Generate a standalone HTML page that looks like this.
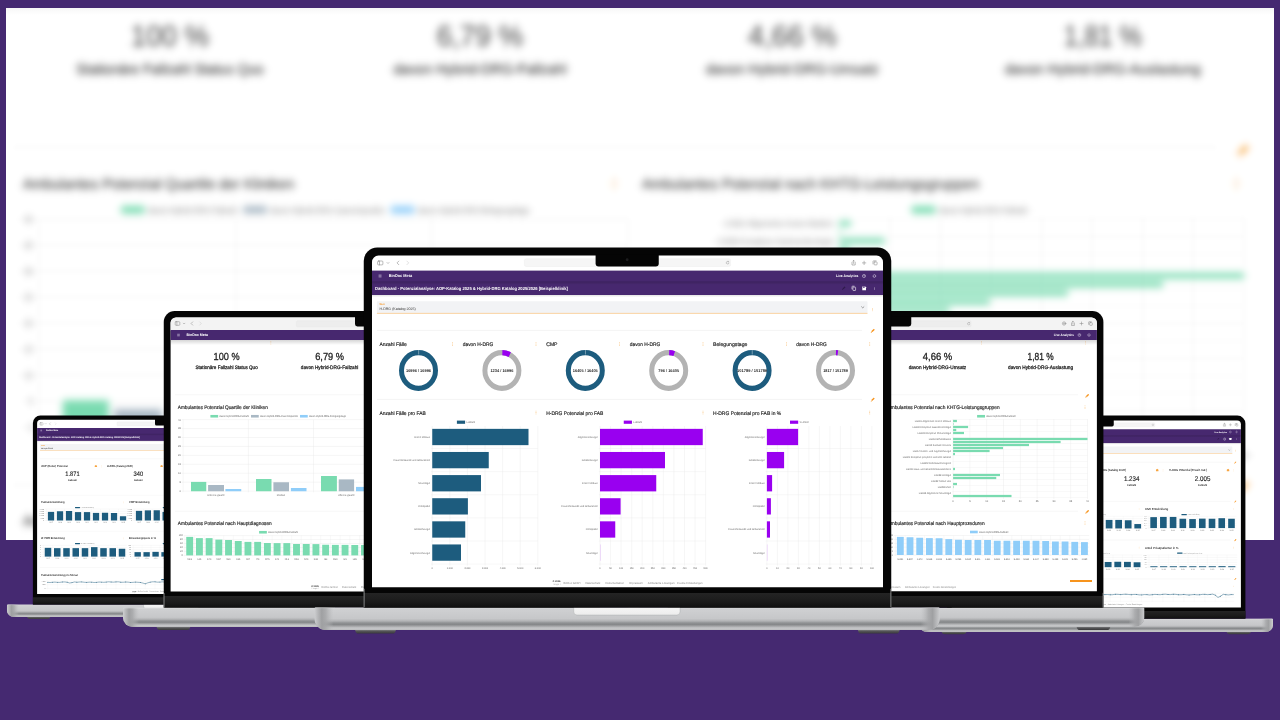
<!DOCTYPE html>
<html lang="de">
<head>
<meta charset="utf-8">
<title>BinDoc Meta – Dashboards</title>
<style>
html,body{margin:0;padding:0;background:#452971;}
body{width:1280px;height:720px;overflow:hidden;font-family:"Liberation Sans",Arial,sans-serif;}
#stage{position:relative;width:1280px;height:720px;overflow:hidden;background:#452971;}
#stage svg.backdrop,#stage svg.laptop{position:absolute;left:0;top:0;width:1280px;height:720px;display:block;}
#stage text{font-family:"Liberation Sans",Arial,sans-serif;text-rendering:geometricPrecision;}
</style>
</head>
<body>
<div id="stage">
<svg class="defs" width="0" height="0" style="position:absolute"><defs>
<linearGradient id="gBase" x1="0" y1="0" x2="0" y2="1">
 <stop offset="0" stop-color="#d9dadc"/><stop offset="0.07" stop-color="#cfd0d2"/>
 <stop offset="0.5" stop-color="#c6c7c9"/><stop offset="0.6" stop-color="#b3b4b6"/>
 <stop offset="0.69" stop-color="#8f9193"/><stop offset="0.76" stop-color="#86888a"/>
 <stop offset="0.84" stop-color="#a7a8aa"/><stop offset="0.91" stop-color="#c5c6c8"/><stop offset="1" stop-color="#bcbdbf"/>
</linearGradient>
<linearGradient id="gCapL" x1="0" y1="0" x2="1" y2="0">
 <stop offset="0" stop-color="#cdced0" stop-opacity="1"/><stop offset="0.14" stop-color="#bbbcbe" stop-opacity="1"/>
 <stop offset="0.38" stop-color="#9fa0a2" stop-opacity="1"/><stop offset="0.6" stop-color="#a6a7a9" stop-opacity="0.85"/>
 <stop offset="1" stop-color="#b9babc" stop-opacity="0"/>
</linearGradient>
<linearGradient id="gCapR" x1="1" y1="0" x2="0" y2="0">
 <stop offset="0" stop-color="#cdced0" stop-opacity="1"/><stop offset="0.14" stop-color="#bbbcbe" stop-opacity="1"/>
 <stop offset="0.38" stop-color="#9fa0a2" stop-opacity="1"/><stop offset="0.6" stop-color="#a6a7a9" stop-opacity="0.85"/>
 <stop offset="1" stop-color="#b9babc" stop-opacity="0"/>
</linearGradient>
<linearGradient id="gHinge" x1="0" y1="0" x2="0" y2="1">
 <stop offset="0" stop-color="#242424"/><stop offset="0.6" stop-color="#1b1b1b"/><stop offset="1" stop-color="#101010"/>
</linearGradient>
<linearGradient id="gFoot" x1="0" y1="0" x2="0" y2="1">
 <stop offset="0" stop-color="#8a8b8d"/><stop offset="0.45" stop-color="#545456"/><stop offset="1" stop-color="#38383a"/>
</linearGradient>
<linearGradient id="gCut" x1="0" y1="0" x2="0" y2="1">
 <stop offset="0" stop-color="#f7f7f7"/><stop offset="1" stop-color="#ececec"/>
</linearGradient>
<linearGradient id="gShadow" x1="0" y1="0" x2="0" y2="1">
 <stop offset="0" stop-color="#000" stop-opacity="0.16"/><stop offset="1" stop-color="#000" stop-opacity="0"/>
</linearGradient>
<filter id="fBlur" filterUnits="userSpaceOnUse" x="-20" y="-20" width="1320" height="760" color-interpolation-filters="sRGB"><feGaussianBlur stdDeviation="1.5"/><feGaussianBlur stdDeviation="1.5"/><feGaussianBlur stdDeviation="1.5"/><feGaussianBlur stdDeviation="1.5"/><feGaussianBlur stdDeviation="1.5"/><feGaussianBlur stdDeviation="1.5"/><feGaussianBlur stdDeviation="1.5"/><feGaussianBlur stdDeviation="1.5"/></filter></defs></svg>
<svg class="backdrop" width="1280" height="720" viewBox="0 0 1280 720"><defs><clipPath id="clip_bd"><rect x="6" y="8" width="1268" height="532"/></clipPath></defs><rect x="6" y="8" width="1268" height="532" fill="#fff"/><g clip-path="url(#clip_bd)"><g filter="url(#fBlur)"><rect x="-20" y="-20" width="1320" height="760" fill="#fff"/><g class="blurred-dashboard"><g class="kpi"><text x="169.96" y="46.09" font-size="29.87" text-anchor="middle" textLength="78.26" lengthAdjust="spacingAndGlyphs" fill="#3c3c3c">100 %</text><text x="169.96" y="73.62" font-size="14.5" text-anchor="middle" textLength="187.22" lengthAdjust="spacingAndGlyphs" fill="#1a1a1a" stroke="#1a1a1a" stroke-width="0.11" stroke-linejoin="round">Stationäre Fallzahl Status Quo</text></g><g class="kpi"><text x="479.99" y="46.09" font-size="29.87" text-anchor="middle" textLength="86.69" lengthAdjust="spacingAndGlyphs" fill="#3c3c3c">6,79 %</text><text x="479.99" y="73.62" font-size="14.5" text-anchor="middle" textLength="173.07" lengthAdjust="spacingAndGlyphs" fill="#1a1a1a" stroke="#1a1a1a" stroke-width="0.11" stroke-linejoin="round">davon Hybrid-DRG-Fallzahl</text></g><g class="kpi"><text x="792.43" y="46.09" font-size="29.87" text-anchor="middle" textLength="88.79" lengthAdjust="spacingAndGlyphs" fill="#3c3c3c">4,66 %</text><text x="792.43" y="73.62" font-size="14.5" text-anchor="middle" textLength="173.07" lengthAdjust="spacingAndGlyphs" fill="#1a1a1a" stroke="#1a1a1a" stroke-width="0.11" stroke-linejoin="round">davon Hybrid-DRG-Umsatz</text></g><g class="kpi"><text x="1102.76" y="46.09" font-size="29.87" text-anchor="middle" textLength="78.26" lengthAdjust="spacingAndGlyphs" fill="#3c3c3c">1,81 %</text><text x="1102.76" y="73.62" font-size="14.5" text-anchor="middle" textLength="195.65" lengthAdjust="spacingAndGlyphs" fill="#1a1a1a" stroke="#1a1a1a" stroke-width="0.11" stroke-linejoin="round">davon Hybrid-DRG-Auslastung</text></g><g fill="#f7a541" opacity="0.8"><circle cx="303.3" cy="-6.8" r="1.04"/><circle cx="303.3" cy="-3.23" r="1.04"/><circle cx="303.3" cy="0.34" r="1.04"/></g><g fill="#f7a541" opacity="0.8"><circle cx="614.24" cy="-6.8" r="1.04"/><circle cx="614.24" cy="-3.23" r="1.04"/><circle cx="614.24" cy="0.34" r="1.04"/></g><g fill="#f7a541" opacity="0.8"><circle cx="925.17" cy="-6.8" r="1.04"/><circle cx="925.17" cy="-3.23" r="1.04"/><circle cx="925.17" cy="0.34" r="1.04"/></g><g fill="#f7a541" opacity="0.8"><circle cx="1237.61" cy="-6.8" r="1.04"/><circle cx="1237.61" cy="-3.23" r="1.04"/><circle cx="1237.61" cy="0.34" r="1.04"/></g><line x1="14.64" y1="147.43" x2="1215.33" y2="147.43" stroke="#ececec" stroke-width="0.78"/><line x1="14.64" y1="485.27" x2="1215.33" y2="485.27" stroke="#ececec" stroke-width="0.78"/><g transform="translate(1242.42 151.05) rotate(45) scale(2.61)" fill="#f7941d"><rect x="-0.75" y="-2.6" width="1.5" height="3.6" rx="0.2"/><path d="M-0.75 1.3 L0.75 1.3 L0 2.6 Z"/></g><g transform="translate(1242.42 487.45) rotate(45) scale(2.61)" fill="#f7941d"><rect x="-0.75" y="-2.6" width="1.5" height="3.6" rx="0.2"/><path d="M-0.75 1.3 L0.75 1.3 L0 2.6 Z"/></g><text x="22.92" y="189.34" font-size="14.94" textLength="271.2" lengthAdjust="spacingAndGlyphs" fill="#1f1f1f" stroke="#1f1f1f" stroke-width="0.07" stroke-linejoin="round">Ambulantes Potenzial Quartile der Kliniken</text><g fill="#f7a541" opacity="0.9"><circle cx="614.24" cy="179.68" r="1.16"/><circle cx="614.24" cy="183.67" r="1.16"/><circle cx="614.24" cy="187.67" r="1.16"/></g><rect x="121.2" y="206.01" width="23.33" height="7.54" fill="#79dbb0"/><text x="147.99" y="212.65" font-size="7.97" textLength="89.1" lengthAdjust="spacingAndGlyphs" fill="#666">davon Hybrid-DRG-Fallzahl</text><rect x="243.4" y="206.01" width="23.33" height="7.54" fill="#a9b8c4"/><text x="270.19" y="212.65" font-size="7.97" textLength="114.68" lengthAdjust="spacingAndGlyphs" fill="#666">davon Hybrid-DRG-Casemixpunkte</text><rect x="390.89" y="206.01" width="23.33" height="7.54" fill="#8fcdf9"/><text x="417.68" y="212.65" font-size="7.97" textLength="111.97" lengthAdjust="spacingAndGlyphs" fill="#666">davon Hybrid-DRG-Belegungstage</text><line x1="35.11" y1="219.49" x2="627.78" y2="219.49" stroke="#e6e6e6" stroke-width="0.61"/><text x="32.7" y="222.2" font-size="7.54" text-anchor="end" textLength="8.7" lengthAdjust="spacingAndGlyphs" fill="#666">40</text><line x1="35.11" y1="245.41" x2="627.78" y2="245.41" stroke="#e6e6e6" stroke-width="0.61"/><text x="32.7" y="248.12" font-size="7.54" text-anchor="end" textLength="8.7" lengthAdjust="spacingAndGlyphs" fill="#666">35</text><line x1="35.11" y1="271.33" x2="627.78" y2="271.33" stroke="#e6e6e6" stroke-width="0.61"/><text x="32.7" y="274.04" font-size="7.54" text-anchor="end" textLength="8.7" lengthAdjust="spacingAndGlyphs" fill="#666">30</text><line x1="35.11" y1="297.25" x2="627.78" y2="297.25" stroke="#e6e6e6" stroke-width="0.61"/><text x="32.7" y="299.96" font-size="7.54" text-anchor="end" textLength="8.7" lengthAdjust="spacingAndGlyphs" fill="#666">25</text><line x1="35.11" y1="323.16" x2="627.78" y2="323.16" stroke="#e6e6e6" stroke-width="0.61"/><text x="32.7" y="325.88" font-size="7.54" text-anchor="end" textLength="8.7" lengthAdjust="spacingAndGlyphs" fill="#666">20</text><line x1="35.11" y1="349.08" x2="627.78" y2="349.08" stroke="#e6e6e6" stroke-width="0.61"/><text x="32.7" y="351.8" font-size="7.54" text-anchor="end" textLength="8.7" lengthAdjust="spacingAndGlyphs" fill="#666">15</text><line x1="35.11" y1="375" x2="627.78" y2="375" stroke="#e6e6e6" stroke-width="0.61"/><text x="32.7" y="377.72" font-size="7.54" text-anchor="end" textLength="8.7" lengthAdjust="spacingAndGlyphs" fill="#666">10</text><line x1="35.11" y1="400.92" x2="627.78" y2="400.92" stroke="#e6e6e6" stroke-width="0.61"/><text x="32.7" y="403.64" font-size="7.54" text-anchor="end" textLength="4.35" lengthAdjust="spacingAndGlyphs" fill="#666">5</text><line x1="35.11" y1="426.84" x2="627.78" y2="426.84" stroke="#e6e6e6" stroke-width="0.61"/><text x="32.7" y="429.55" font-size="7.54" text-anchor="end" textLength="4.35" lengthAdjust="spacingAndGlyphs" fill="#666">0</text><line x1="39.02" y1="219.49" x2="39.02" y2="430.32" stroke="#e6e6e6" stroke-width="0.61"/><line x1="235.58" y1="219.49" x2="235.58" y2="430.32" stroke="#e6e6e6" stroke-width="0.61"/><line x1="431.53" y1="219.49" x2="431.53" y2="430.32" stroke="#e6e6e6" stroke-width="0.61"/><line x1="627.78" y1="219.49" x2="627.78" y2="430.32" stroke="#e6e6e6" stroke-width="0.61"/><rect x="62.8" y="400.16" width="45.9" height="27.11" fill="#79dbb0"/><rect x="114.27" y="409.15" width="47.86" height="18.12" fill="#a9b8c4"/><rect x="166.35" y="420.75" width="47.71" height="6.52" fill="#8fcdf9"/><rect x="258.45" y="391.75" width="46.65" height="35.52" fill="#79dbb0"/><rect x="310.83" y="401.17" width="46.96" height="26.1" fill="#a9b8c4"/><rect x="363.5" y="417.85" width="46.96" height="9.42" fill="#8fcdf9"/><rect x="454.1" y="383.05" width="47.86" height="44.23" fill="#79dbb0"/><rect x="507.53" y="392.91" width="46.2" height="34.36" fill="#a9b8c4"/><rect x="559.45" y="414.66" width="46.96" height="12.61" fill="#8fcdf9"/><text x="137.45" y="440.97" font-size="7.83" text-anchor="middle" textLength="50.83" lengthAdjust="spacingAndGlyphs" fill="#666">Unteres Quartil</text><text x="333.7" y="440.97" font-size="7.83" text-anchor="middle" textLength="24.79" lengthAdjust="spacingAndGlyphs" fill="#666">Median</text><text x="529.65" y="440.97" font-size="7.83" text-anchor="middle" textLength="49.15" lengthAdjust="spacingAndGlyphs" fill="#666">Oberes Quartil</text><text x="22.92" y="525.89" font-size="14.94" textLength="282.94" lengthAdjust="spacingAndGlyphs" fill="#1f1f1f" stroke="#1f1f1f" stroke-width="0.07" stroke-linejoin="round">Ambulantes Potenzial nach Hauptdiagnosen</text><g fill="#f7a541" opacity="0.9"><circle cx="614.24" cy="515.94" r="1.16"/><circle cx="614.24" cy="519.93" r="1.16"/><circle cx="614.24" cy="523.92" r="1.16"/></g><rect x="267.78" y="542.4" width="23.33" height="7.54" fill="#79dbb0"/><text x="294.87" y="549.05" font-size="7.97" textLength="90" lengthAdjust="spacingAndGlyphs" fill="#666">davon Hybrid-DRG-Fallzahl</text><line x1="40.53" y1="555.89" x2="631.99" y2="555.89" stroke="#e6e6e6" stroke-width="0.61"/><text x="38.12" y="558.4" font-size="6.96" text-anchor="end" textLength="12.05" lengthAdjust="spacingAndGlyphs" fill="#666">100</text><line x1="40.53" y1="567.37" x2="631.99" y2="567.37" stroke="#e6e6e6" stroke-width="0.61"/><text x="38.12" y="569.88" font-size="6.96" text-anchor="end" textLength="8.04" lengthAdjust="spacingAndGlyphs" fill="#666">80</text><line x1="40.53" y1="578.86" x2="631.99" y2="578.86" stroke="#e6e6e6" stroke-width="0.61"/><text x="38.12" y="581.36" font-size="6.96" text-anchor="end" textLength="8.04" lengthAdjust="spacingAndGlyphs" fill="#666">60</text><line x1="40.53" y1="590.34" x2="631.99" y2="590.34" stroke="#e6e6e6" stroke-width="0.61"/><text x="38.12" y="592.85" font-size="6.96" text-anchor="end" textLength="8.04" lengthAdjust="spacingAndGlyphs" fill="#666">40</text><line x1="40.53" y1="601.83" x2="631.99" y2="601.83" stroke="#e6e6e6" stroke-width="0.61"/><text x="38.12" y="604.33" font-size="6.96" text-anchor="end" textLength="8.04" lengthAdjust="spacingAndGlyphs" fill="#666">20</text><line x1="40.53" y1="613.31" x2="631.99" y2="613.31" stroke="#e6e6e6" stroke-width="0.61"/><text x="38.12" y="615.82" font-size="6.96" text-anchor="end" textLength="4.02" lengthAdjust="spacingAndGlyphs" fill="#666">0</text><line x1="44.14" y1="555.89" x2="44.14" y2="616.21" stroke="#ececec" stroke-width="0.52"/><rect x="48.51" y="559.59" width="20.77" height="53.72" fill="#79dbb0"/><text x="58.89" y="626.36" font-size="7.25" text-anchor="middle" textLength="13.61" lengthAdjust="spacingAndGlyphs" fill="#666">M23</text><line x1="73.37" y1="555.89" x2="73.37" y2="616.21" stroke="#ececec" stroke-width="0.52"/><rect x="77.73" y="563.21" width="20.77" height="50.1" fill="#79dbb0"/><text x="88.12" y="626.36" font-size="7.25" text-anchor="middle" textLength="11.68" lengthAdjust="spacingAndGlyphs" fill="#666">L05</text><line x1="102.6" y1="555.89" x2="102.6" y2="616.21" stroke="#ececec" stroke-width="0.52"/><rect x="106.96" y="563.21" width="20.77" height="50.1" fill="#79dbb0"/><text x="117.35" y="626.36" font-size="7.25" text-anchor="middle" textLength="12.45" lengthAdjust="spacingAndGlyphs" fill="#666">K40</text><line x1="131.82" y1="555.89" x2="131.82" y2="616.21" stroke="#ececec" stroke-width="0.52"/><rect x="136.19" y="567.56" width="20.77" height="45.75" fill="#79dbb0"/><text x="146.57" y="626.36" font-size="7.25" text-anchor="middle" textLength="13.61" lengthAdjust="spacingAndGlyphs" fill="#666">M67</text><line x1="161.05" y1="555.89" x2="161.05" y2="616.21" stroke="#ececec" stroke-width="0.52"/><rect x="165.41" y="568.65" width="20.77" height="44.66" fill="#79dbb0"/><text x="175.8" y="626.36" font-size="7.25" text-anchor="middle" textLength="12.84" lengthAdjust="spacingAndGlyphs" fill="#666">N20</text><line x1="190.28" y1="555.89" x2="190.28" y2="616.21" stroke="#ececec" stroke-width="0.52"/><rect x="194.64" y="571.55" width="20.77" height="41.76" fill="#79dbb0"/><text x="205.03" y="626.36" font-size="7.25" text-anchor="middle" textLength="12.45" lengthAdjust="spacingAndGlyphs" fill="#666">K35</text><line x1="219.5" y1="555.89" x2="219.5" y2="616.21" stroke="#ececec" stroke-width="0.52"/><rect x="223.87" y="574.09" width="20.77" height="39.22" fill="#79dbb0"/><text x="234.25" y="626.36" font-size="7.25" text-anchor="middle" textLength="12.45" lengthAdjust="spacingAndGlyphs" fill="#666">S07</text><line x1="248.73" y1="555.89" x2="248.73" y2="616.21" stroke="#ececec" stroke-width="0.52"/><rect x="253.1" y="574.09" width="20.77" height="39.22" fill="#79dbb0"/><text x="263.48" y="626.36" font-size="7.25" text-anchor="middle" textLength="9.73" lengthAdjust="spacingAndGlyphs" fill="#666">I70</text><line x1="277.96" y1="555.89" x2="277.96" y2="616.21" stroke="#ececec" stroke-width="0.52"/><rect x="282.32" y="577.35" width="20.77" height="35.96" fill="#79dbb0"/><text x="292.71" y="626.36" font-size="7.25" text-anchor="middle" textLength="13.61" lengthAdjust="spacingAndGlyphs" fill="#666">M75</text><line x1="307.19" y1="555.89" x2="307.19" y2="616.21" stroke="#ececec" stroke-width="0.52"/><rect x="311.55" y="577.71" width="20.77" height="35.6" fill="#79dbb0"/><text x="321.93" y="626.36" font-size="7.25" text-anchor="middle" textLength="12.45" lengthAdjust="spacingAndGlyphs" fill="#666">K41</text><line x1="336.41" y1="555.89" x2="336.41" y2="616.21" stroke="#ececec" stroke-width="0.52"/><rect x="340.78" y="577.71" width="20.77" height="35.6" fill="#79dbb0"/><text x="351.16" y="626.36" font-size="7.25" text-anchor="middle" textLength="12.84" lengthAdjust="spacingAndGlyphs" fill="#666">N13</text><line x1="365.64" y1="555.89" x2="365.64" y2="616.21" stroke="#ececec" stroke-width="0.52"/><rect x="370" y="580.25" width="20.77" height="33.06" fill="#79dbb0"/><text x="380.39" y="626.36" font-size="7.25" text-anchor="middle" textLength="13.23" lengthAdjust="spacingAndGlyphs" fill="#666">G56</text><line x1="394.87" y1="555.89" x2="394.87" y2="616.21" stroke="#ececec" stroke-width="0.52"/><rect x="399.23" y="580.25" width="20.77" height="33.06" fill="#79dbb0"/><text x="409.62" y="626.36" font-size="7.25" text-anchor="middle" textLength="12.84" lengthAdjust="spacingAndGlyphs" fill="#666">N40</text><line x1="424.09" y1="555.89" x2="424.09" y2="616.21" stroke="#ececec" stroke-width="0.52"/><rect x="428.46" y="580.61" width="20.77" height="32.7" fill="#79dbb0"/><text x="438.84" y="626.36" font-size="7.25" text-anchor="middle" textLength="12.45" lengthAdjust="spacingAndGlyphs" fill="#666">K80</text><line x1="453.32" y1="555.89" x2="453.32" y2="616.21" stroke="#ececec" stroke-width="0.52"/><rect x="457.69" y="582.42" width="20.77" height="30.89" fill="#79dbb0"/><text x="468.07" y="626.36" font-size="7.25" text-anchor="middle" textLength="9.73" lengthAdjust="spacingAndGlyphs" fill="#666">I83</text><line x1="482.55" y1="555.89" x2="482.55" y2="616.21" stroke="#ececec" stroke-width="0.52"/><rect x="486.91" y="582.79" width="20.77" height="30.52" fill="#79dbb0"/><text x="497.3" y="626.36" font-size="7.25" text-anchor="middle" textLength="13.61" lengthAdjust="spacingAndGlyphs" fill="#666">M20</text><line x1="511.78" y1="555.89" x2="511.78" y2="616.21" stroke="#ececec" stroke-width="0.52"/><rect x="516.14" y="582.79" width="20.77" height="30.52" fill="#79dbb0"/><text x="526.52" y="626.36" font-size="7.25" text-anchor="middle" textLength="9.73" lengthAdjust="spacingAndGlyphs" fill="#666">I25</text><line x1="541" y1="555.89" x2="541" y2="616.21" stroke="#ececec" stroke-width="0.52"/><rect x="545.37" y="583.15" width="20.77" height="30.16" fill="#79dbb0"/><text x="555.75" y="626.36" font-size="7.25" text-anchor="middle" textLength="12.84" lengthAdjust="spacingAndGlyphs" fill="#666">H25</text><line x1="570.23" y1="555.89" x2="570.23" y2="616.21" stroke="#ececec" stroke-width="0.52"/><rect x="574.59" y="583.15" width="20.77" height="30.16" fill="#79dbb0"/><text x="584.98" y="626.36" font-size="7.25" text-anchor="middle" textLength="12.45" lengthAdjust="spacingAndGlyphs" fill="#666">K43</text><line x1="599.46" y1="555.89" x2="599.46" y2="616.21" stroke="#ececec" stroke-width="0.52"/><rect x="603.82" y="583.51" width="20.77" height="29.8" fill="#79dbb0"/><text x="614.21" y="626.36" font-size="7.25" text-anchor="middle" textLength="12.45" lengthAdjust="spacingAndGlyphs" fill="#666">S82</text><text x="641.93" y="189.34" font-size="14.94" textLength="337.42" lengthAdjust="spacingAndGlyphs" fill="#1f1f1f" stroke="#1f1f1f" stroke-width="0.07" stroke-linejoin="round">Ambulantes Potenzial nach KHTG-Leistungsgruppen</text><g fill="#f7a541" opacity="0.9"><circle cx="1236.4" cy="179.68" r="1.16"/><circle cx="1236.4" cy="183.67" r="1.16"/><circle cx="1236.4" cy="187.67" r="1.16"/></g><rect x="911.62" y="206.01" width="23.78" height="7.54" fill="#79dbb0"/><text x="939.01" y="212.65" font-size="7.97" textLength="88.49" lengthAdjust="spacingAndGlyphs" fill="#666">davon Hybrid-DRG-Fallzahl</text><line x1="839.38" y1="218.04" x2="839.38" y2="449.46" stroke="#e6e6e6" stroke-width="0.61"/><text x="839.38" y="458.26" font-size="7.54" text-anchor="middle" textLength="4.35" lengthAdjust="spacingAndGlyphs" fill="#666">0</text><line x1="889.95" y1="218.04" x2="889.95" y2="449.46" stroke="#e6e6e6" stroke-width="0.61"/><text x="889.95" y="458.26" font-size="7.54" text-anchor="middle" textLength="4.35" lengthAdjust="spacingAndGlyphs" fill="#666">5</text><line x1="940.52" y1="218.04" x2="940.52" y2="449.46" stroke="#e6e6e6" stroke-width="0.61"/><text x="940.52" y="458.26" font-size="7.54" text-anchor="middle" textLength="8.7" lengthAdjust="spacingAndGlyphs" fill="#666">10</text><line x1="991.09" y1="218.04" x2="991.09" y2="449.46" stroke="#e6e6e6" stroke-width="0.61"/><text x="991.09" y="458.26" font-size="7.54" text-anchor="middle" textLength="8.7" lengthAdjust="spacingAndGlyphs" fill="#666">15</text><line x1="1041.66" y1="218.04" x2="1041.66" y2="449.46" stroke="#e6e6e6" stroke-width="0.61"/><text x="1041.66" y="458.26" font-size="7.54" text-anchor="middle" textLength="8.7" lengthAdjust="spacingAndGlyphs" fill="#666">20</text><line x1="1092.22" y1="218.04" x2="1092.22" y2="449.46" stroke="#e6e6e6" stroke-width="0.61"/><text x="1092.22" y="458.26" font-size="7.54" text-anchor="middle" textLength="8.7" lengthAdjust="spacingAndGlyphs" fill="#666">25</text><line x1="1142.79" y1="218.04" x2="1142.79" y2="449.46" stroke="#e6e6e6" stroke-width="0.61"/><text x="1142.79" y="458.26" font-size="7.54" text-anchor="middle" textLength="8.7" lengthAdjust="spacingAndGlyphs" fill="#666">30</text><line x1="1193.36" y1="218.04" x2="1193.36" y2="449.46" stroke="#e6e6e6" stroke-width="0.61"/><text x="1193.36" y="458.26" font-size="7.54" text-anchor="middle" textLength="8.7" lengthAdjust="spacingAndGlyphs" fill="#666">35</text><line x1="1243.93" y1="218.04" x2="1243.93" y2="449.46" stroke="#e6e6e6" stroke-width="0.61"/><text x="1243.93" y="458.26" font-size="7.54" text-anchor="middle" textLength="8.7" lengthAdjust="spacingAndGlyphs" fill="#666">40</text><line x1="836.37" y1="219.2" x2="1243.93" y2="219.2" stroke="#ececec" stroke-width="0.52"/><line x1="836.37" y1="236.6" x2="1243.93" y2="236.6" stroke="#ececec" stroke-width="0.52"/><line x1="836.37" y1="254" x2="1243.93" y2="254" stroke="#ececec" stroke-width="0.52"/><line x1="836.37" y1="271.4" x2="1243.93" y2="271.4" stroke="#ececec" stroke-width="0.52"/><line x1="836.37" y1="288.8" x2="1243.93" y2="288.8" stroke="#ececec" stroke-width="0.52"/><line x1="836.37" y1="306.2" x2="1243.93" y2="306.2" stroke="#ececec" stroke-width="0.52"/><line x1="836.37" y1="323.6" x2="1243.93" y2="323.6" stroke="#ececec" stroke-width="0.52"/><line x1="836.37" y1="341" x2="1243.93" y2="341" stroke="#ececec" stroke-width="0.52"/><line x1="836.37" y1="358.4" x2="1243.93" y2="358.4" stroke="#ececec" stroke-width="0.52"/><line x1="836.37" y1="375.8" x2="1243.93" y2="375.8" stroke="#ececec" stroke-width="0.52"/><line x1="836.37" y1="393.2" x2="1243.93" y2="393.2" stroke="#ececec" stroke-width="0.52"/><line x1="836.37" y1="410.6" x2="1243.93" y2="410.6" stroke="#ececec" stroke-width="0.52"/><line x1="836.37" y1="428" x2="1243.93" y2="428" stroke="#ececec" stroke-width="0.52"/><line x1="836.37" y1="445.4" x2="1243.93" y2="445.4" stroke="#ececec" stroke-width="0.52"/><rect x="839.38" y="220.72" width="11.44" height="5.65" fill="#79dbb0"/><rect x="839.38" y="229.42" width="1.5" height="5.65" fill="#79dbb0"/><rect x="839.38" y="238.12" width="45.15" height="5.65" fill="#79dbb0"/><rect x="839.38" y="246.82" width="9.48" height="5.65" fill="#79dbb0"/><rect x="839.38" y="255.52" width="32.81" height="5.65" fill="#79dbb0"/><rect x="839.38" y="272.92" width="404.54" height="5.65" fill="#79dbb0"/><rect x="839.38" y="281.62" width="323.57" height="5.65" fill="#79dbb0"/><rect x="839.38" y="290.32" width="228.46" height="5.65" fill="#79dbb0"/><rect x="839.38" y="299.02" width="150.2" height="5.65" fill="#79dbb0"/><rect x="839.38" y="307.72" width="109.86" height="5.65" fill="#79dbb0"/><rect x="839.38" y="316.42" width="5.72" height="5.65" fill="#79dbb0"/><rect x="839.38" y="359.92" width="5.72" height="5.65" fill="#79dbb0"/><rect x="839.38" y="377.32" width="141.17" height="5.65" fill="#79dbb0"/><rect x="839.38" y="386.02" width="129.88" height="5.65" fill="#79dbb0"/><rect x="839.38" y="403.42" width="11.74" height="5.65" fill="#79dbb0"/><rect x="839.38" y="412.12" width="1.5" height="5.65" fill="#79dbb0"/><rect x="839.38" y="438.22" width="175.78" height="5.65" fill="#79dbb0"/><text x="833.06" y="226.26" font-size="7.54" text-anchor="end" textLength="109.24" lengthAdjust="spacingAndGlyphs" fill="#666">LG001 Allgemeine Innere Medizin</text><text x="833.06" y="243.66" font-size="7.54" text-anchor="end" textLength="116.12" lengthAdjust="spacingAndGlyphs" fill="#666">LG003 Komplexe Gastroenterologie</text><text x="833.06" y="261.06" font-size="7.54" text-anchor="end" textLength="100.75" lengthAdjust="spacingAndGlyphs" fill="#666">LG005 Komplexe Pneumologie</text><text x="833.06" y="278.46" font-size="7.54" text-anchor="end" textLength="67.16" lengthAdjust="spacingAndGlyphs" fill="#666">LG010 EPU/Ablation</text><text x="833.06" y="295.86" font-size="7.54" text-anchor="end" textLength="78.49" lengthAdjust="spacingAndGlyphs" fill="#666">LG012 Kardiale Devices</text><text x="833.06" y="313.26" font-size="7.54" text-anchor="end" textLength="115.31" lengthAdjust="spacingAndGlyphs" fill="#666">LG014 Kinder- und Jugendchirurgie</text><text x="833.06" y="330.66" font-size="7.54" text-anchor="end" textLength="145.24" lengthAdjust="spacingAndGlyphs" fill="#666">LG020 Komplexe periphere arterielle Gefäße</text><text x="833.06" y="348.06" font-size="7.54" text-anchor="end" textLength="91.71" lengthAdjust="spacingAndGlyphs" fill="#666">LG028 Wirbelsäuleneingriffe</text><text x="833.06" y="365.46" font-size="7.54" text-anchor="end" textLength="135.54" lengthAdjust="spacingAndGlyphs" fill="#666">LG030 Haut- und Geschlechtskrankheiten</text><text x="833.06" y="382.86" font-size="7.54" text-anchor="end" textLength="50.98" lengthAdjust="spacingAndGlyphs" fill="#666">LG038 Urologie</text><text x="833.06" y="400.26" font-size="7.54" text-anchor="end" textLength="59.87" lengthAdjust="spacingAndGlyphs" fill="#666">LG052 Stroke Unit</text><text x="833.06" y="417.66" font-size="7.54" text-anchor="end" textLength="40.05" lengthAdjust="spacingAndGlyphs" fill="#666">LG053 HNO</text><text x="833.06" y="435.06" font-size="7.54" text-anchor="end" textLength="96.7" lengthAdjust="spacingAndGlyphs" fill="#666">LG065 Allgemeine Neurologie</text><text x="641.93" y="525.02" font-size="14.94" textLength="292.27" lengthAdjust="spacingAndGlyphs" fill="#1f1f1f" stroke="#1f1f1f" stroke-width="0.07" stroke-linejoin="round">Ambulantes Potenzial nach Hauptprozeduren</text><g fill="#f7a541" opacity="0.9"><circle cx="1236.4" cy="515.36" r="1.16"/><circle cx="1236.4" cy="519.35" r="1.16"/><circle cx="1236.4" cy="523.34" r="1.16"/></g><rect x="890.25" y="541.68" width="23.33" height="7.54" fill="#8fcdf9"/><text x="917.64" y="548.32" font-size="7.97" textLength="88.19" lengthAdjust="spacingAndGlyphs" fill="#666">davon Hybrid-DRG-Fallzahl</text><line x1="661.19" y1="555.6" x2="1249.05" y2="555.6" stroke="#e6e6e6" stroke-width="0.61"/><text x="658.48" y="557.9" font-size="6.38" text-anchor="end" textLength="7.37" lengthAdjust="spacingAndGlyphs" fill="#666">25</text><line x1="661.19" y1="566.91" x2="1249.05" y2="566.91" stroke="#e6e6e6" stroke-width="0.61"/><text x="658.48" y="569.21" font-size="6.38" text-anchor="end" textLength="7.37" lengthAdjust="spacingAndGlyphs" fill="#666">20</text><line x1="661.19" y1="578.22" x2="1249.05" y2="578.22" stroke="#e6e6e6" stroke-width="0.61"/><text x="658.48" y="580.52" font-size="6.38" text-anchor="end" textLength="7.37" lengthAdjust="spacingAndGlyphs" fill="#666">15</text><line x1="661.19" y1="589.53" x2="1249.05" y2="589.53" stroke="#e6e6e6" stroke-width="0.61"/><text x="658.48" y="591.83" font-size="6.38" text-anchor="end" textLength="7.37" lengthAdjust="spacingAndGlyphs" fill="#666">10</text><line x1="661.19" y1="600.84" x2="1249.05" y2="600.84" stroke="#e6e6e6" stroke-width="0.61"/><text x="658.48" y="603.14" font-size="6.38" text-anchor="end" textLength="3.68" lengthAdjust="spacingAndGlyphs" fill="#666">5</text><line x1="661.19" y1="612.15" x2="1249.05" y2="612.15" stroke="#e6e6e6" stroke-width="0.61"/><text x="658.48" y="614.45" font-size="6.38" text-anchor="end" textLength="3.68" lengthAdjust="spacingAndGlyphs" fill="#666">0</text><line x1="666.01" y1="555.6" x2="666.01" y2="615.05" stroke="#ececec" stroke-width="0.52"/><rect x="670.22" y="559.59" width="20.62" height="52.56" fill="#8fcdf9"/><text x="680.46" y="626.26" font-size="6.96" text-anchor="middle" textLength="17.18" lengthAdjust="spacingAndGlyphs" fill="#666">5-891</text><line x1="695.17" y1="555.6" x2="695.17" y2="615.05" stroke="#ececec" stroke-width="0.52"/><rect x="699.39" y="560.67" width="20.62" height="51.48" fill="#8fcdf9"/><text x="709.62" y="626.26" font-size="6.96" text-anchor="middle" textLength="17.18" lengthAdjust="spacingAndGlyphs" fill="#666">5-897</text><line x1="724.34" y1="555.6" x2="724.34" y2="615.05" stroke="#ececec" stroke-width="0.52"/><rect x="728.56" y="562.12" width="20.62" height="50.02" fill="#8fcdf9"/><text x="738.79" y="626.26" font-size="6.96" text-anchor="middle" textLength="17.18" lengthAdjust="spacingAndGlyphs" fill="#666">1-672</text><line x1="753.51" y1="555.6" x2="753.51" y2="615.05" stroke="#ececec" stroke-width="0.52"/><rect x="757.72" y="563.21" width="20.62" height="48.94" fill="#8fcdf9"/><text x="767.96" y="626.26" font-size="6.96" text-anchor="middle" textLength="17.18" lengthAdjust="spacingAndGlyphs" fill="#666">5-535</text><line x1="782.68" y1="555.6" x2="782.68" y2="615.05" stroke="#ececec" stroke-width="0.52"/><rect x="786.89" y="563.57" width="20.62" height="48.57" fill="#8fcdf9"/><text x="797.12" y="626.26" font-size="6.96" text-anchor="middle" textLength="17.18" lengthAdjust="spacingAndGlyphs" fill="#666">8-836</text><line x1="811.84" y1="555.6" x2="811.84" y2="615.05" stroke="#ececec" stroke-width="0.52"/><rect x="816.06" y="566.11" width="20.62" height="46.04" fill="#8fcdf9"/><text x="826.29" y="626.26" font-size="6.96" text-anchor="middle" textLength="17.18" lengthAdjust="spacingAndGlyphs" fill="#666">5-385</text><line x1="841.01" y1="555.6" x2="841.01" y2="615.05" stroke="#ececec" stroke-width="0.52"/><rect x="845.22" y="567.92" width="20.62" height="44.23" fill="#8fcdf9"/><text x="855.46" y="626.26" font-size="6.96" text-anchor="middle" textLength="17.18" lengthAdjust="spacingAndGlyphs" fill="#666">5-056</text><line x1="870.18" y1="555.6" x2="870.18" y2="615.05" stroke="#ececec" stroke-width="0.52"/><rect x="874.39" y="568.65" width="20.62" height="43.5" fill="#8fcdf9"/><text x="884.62" y="626.26" font-size="6.96" text-anchor="middle" textLength="17.18" lengthAdjust="spacingAndGlyphs" fill="#666">5-530</text><line x1="899.34" y1="555.6" x2="899.34" y2="615.05" stroke="#ececec" stroke-width="0.52"/><rect x="903.56" y="568.65" width="20.62" height="43.5" fill="#8fcdf9"/><text x="913.79" y="626.26" font-size="6.96" text-anchor="middle" textLength="16.68" lengthAdjust="spacingAndGlyphs" fill="#666">5-811</text><line x1="928.51" y1="555.6" x2="928.51" y2="615.05" stroke="#ececec" stroke-width="0.52"/><rect x="932.72" y="568.65" width="20.62" height="43.5" fill="#8fcdf9"/><text x="942.96" y="626.26" font-size="6.96" text-anchor="middle" textLength="17.18" lengthAdjust="spacingAndGlyphs" fill="#666">1-631</text><line x1="957.68" y1="555.6" x2="957.68" y2="615.05" stroke="#ececec" stroke-width="0.52"/><rect x="961.89" y="570.82" width="20.62" height="41.32" fill="#8fcdf9"/><text x="972.12" y="626.26" font-size="6.96" text-anchor="middle" textLength="17.18" lengthAdjust="spacingAndGlyphs" fill="#666">5-581</text><line x1="986.84" y1="555.6" x2="986.84" y2="615.05" stroke="#ececec" stroke-width="0.52"/><rect x="991.06" y="570.82" width="20.62" height="41.32" fill="#8fcdf9"/><text x="1001.29" y="626.26" font-size="6.96" text-anchor="middle" textLength="17.18" lengthAdjust="spacingAndGlyphs" fill="#666">5-851</text><line x1="1016.01" y1="555.6" x2="1016.01" y2="615.05" stroke="#ececec" stroke-width="0.52"/><rect x="1020.22" y="570.82" width="20.62" height="41.32" fill="#8fcdf9"/><text x="1030.46" y="626.26" font-size="6.96" text-anchor="middle" textLength="17.18" lengthAdjust="spacingAndGlyphs" fill="#666">5-469</text><line x1="1045.18" y1="555.6" x2="1045.18" y2="615.05" stroke="#ececec" stroke-width="0.52"/><rect x="1049.39" y="570.82" width="20.62" height="41.32" fill="#8fcdf9"/><text x="1059.63" y="626.26" font-size="6.96" text-anchor="middle" textLength="17.18" lengthAdjust="spacingAndGlyphs" fill="#666">5-534</text><line x1="1074.34" y1="555.6" x2="1074.34" y2="615.05" stroke="#ececec" stroke-width="0.52"/><rect x="1078.56" y="570.82" width="20.62" height="41.32" fill="#8fcdf9"/><text x="1088.79" y="626.26" font-size="6.96" text-anchor="middle" textLength="17.18" lengthAdjust="spacingAndGlyphs" fill="#666">8-137</text><line x1="1103.51" y1="555.6" x2="1103.51" y2="615.05" stroke="#ececec" stroke-width="0.52"/><rect x="1107.73" y="571.55" width="20.62" height="40.6" fill="#8fcdf9"/><text x="1117.96" y="626.26" font-size="6.96" text-anchor="middle" textLength="17.18" lengthAdjust="spacingAndGlyphs" fill="#666">5-859</text><line x1="1132.68" y1="555.6" x2="1132.68" y2="615.05" stroke="#ececec" stroke-width="0.52"/><rect x="1136.89" y="573" width="20.62" height="39.15" fill="#8fcdf9"/><text x="1147.13" y="626.26" font-size="6.96" text-anchor="middle" textLength="17.18" lengthAdjust="spacingAndGlyphs" fill="#666">5-399</text><line x1="1161.85" y1="555.6" x2="1161.85" y2="615.05" stroke="#ececec" stroke-width="0.52"/><rect x="1166.06" y="573" width="20.62" height="39.15" fill="#8fcdf9"/><text x="1176.29" y="626.26" font-size="6.96" text-anchor="middle" textLength="17.18" lengthAdjust="spacingAndGlyphs" fill="#666">5-841</text><line x1="1191.01" y1="555.6" x2="1191.01" y2="615.05" stroke="#ececec" stroke-width="0.52"/><rect x="1195.23" y="574.09" width="20.62" height="38.06" fill="#8fcdf9"/><text x="1205.46" y="626.26" font-size="6.96" text-anchor="middle" textLength="17.18" lengthAdjust="spacingAndGlyphs" fill="#666">5-056</text><line x1="1220.18" y1="555.6" x2="1220.18" y2="615.05" stroke="#ececec" stroke-width="0.52"/><rect x="1224.39" y="574.81" width="20.62" height="37.34" fill="#8fcdf9"/><text x="1234.63" y="626.26" font-size="6.96" text-anchor="middle" textLength="17.18" lengthAdjust="spacingAndGlyphs" fill="#666">1-650</text></g></g><rect x="6" y="8" width="1268" height="7" fill="url(#gShadow)" opacity="0.22"/></g></svg>
<svg class="laptop l1" width="1280" height="720" viewBox="0 0 1280 720"><defs><clipPath id="clip_l1"><path d="M37.1 594.1 L37.1 423.35 A3.6 3.6 0 0 1 40.7 419.75 L302.1 419.75 A3.6 3.6 0 0 1 305.7 423.35 L305.7 594.1 Z"/></clipPath></defs><g class="base"><path d="M27 616.4 L50.4 616.4 Q49.8 619.02 46.9 619.02 L30.5 619.02 Q27.6 619.02 27 616.4 Z" fill="url(#gFoot)"/><clipPath id="bclip_l1"><path d="M8.1 604.4 L333.8 604.4 A1.2 1.2 0 0 1 335 605.6 L335 610.35 A7 6.65 0 0 1 328 617 L13.9 617 A7 6.65 0 0 1 6.9 610.35 L6.9 605.6 A1.2 1.2 0 0 1 8.1 604.4 Z"/></clipPath><g clip-path="url(#bclip_l1)"><rect x="6.9" y="604.4" width="328.1" height="12.6" fill="url(#gBase)"/><rect x="6.9" y="604.4" width="12" height="12.6" fill="url(#gCapL)"/><rect x="323" y="604.4" width="12" height="12.6" fill="url(#gCapR)"/><rect x="6.9" y="604.4" width="328.1" height="0.7" fill="#e2e3e5" opacity="0.8"/><path d="M143.6 603.4 L143.6 606.5 A2.1 2.1 0 0 0 145.7 608.6 L197.1 608.6 A2.1 2.1 0 0 0 199.2 606.5 L199.2 603.4 Z" fill="url(#gCut)" stroke="#8f9092" stroke-width="0.5" stroke-opacity="0.55"/></g></g><g class="lid"><path d="M32.9 604.4 L32.9 423.1 A7.5 7.5 0 0 1 40.4 415.6 L302.4 415.6 A7.5 7.5 0 0 1 309.9 423.1 L309.9 604.4 Z" fill="#050505"/><rect x="32.9" y="597.3" width="277" height="7.1" fill="url(#gHinge)"/></g><g clip-path="url(#clip_l1)"><g class="screen" transform="translate(37.1 419.75)"><rect x="-1" y="-1" width="270.6" height="176.4" fill="#fff"/><g fill="none" stroke="#9a9a9a" stroke-width="0.4" stroke-linecap="round" stroke-linejoin="round"><rect x="2.9" y="2.9" width="3" height="2.4" rx="0.5"/><path d="M4 2.9V5.3"/><path d="M8 3.8l0.55 0.55l0.55-0.55" stroke-width="0.35"/><path d="M13.3 3.05l-1.05 1.05l1.05 1.05"/><path d="M18.1 3.05l1.05 1.05l-1.05 1.05" stroke="#d4d4d4"/><path d="M252.4 3.8v1.6h2v-1.6M253.4 2.6v1.9M252.85 3.1l0.55-0.55l0.55 0.55"/><path d="M257.9 4.1h2M258.9 3.1v2"/><rect x="264" y="3.5" width="1.8" height="1.8" rx="0.4"/><path d="M263.3 4.7v-1.4a0.4 0.4 0 0 1 0.4-0.4h1.4"/></g><rect x="79.8" y="2.1" width="108.9" height="4.1" rx="1" fill="#f5f5f5" stroke="#ececec" stroke-width="0.25"/><circle cx="186.9" cy="4.15" r="0.75" fill="none" stroke="#9a9a9a" stroke-width="0.3"/><rect x="-1" y="8.25" width="270.6" height="12.9" fill="#47286f"/><rect x="-1" y="14" width="270.6" height="2" fill="url(#gShadow)"/><rect x="-1" y="21.15" width="270.6" height="1.6" fill="url(#gShadow)" opacity="0.6"/><g stroke="#d9d2e6" stroke-width="0.3"><path d="M3.3 10.2h1.7M3.3 10.75h1.7M3.3 11.3h1.7"/></g><text x="8.8" y="11.57" font-size="2.15" font-weight="700" textLength="12.2" lengthAdjust="spacingAndGlyphs" fill="#fff">BinDoc Meta</text><text x="255.8" y="11.5" font-size="1.95" text-anchor="end" font-weight="700" textLength="11.7" lengthAdjust="spacingAndGlyphs" fill="#fff">Live Analytics</text><g fill="none" stroke="#e6e0ef" stroke-width="0.3"><circle cx="258.9" cy="10.8" r="0.85"/><circle cx="264.6" cy="10.8" r="0.7" stroke-width="0.5" stroke-dasharray="0.4 0.2"/></g><text x="1.9" y="18.2" font-size="2.35" font-weight="700" textLength="100.75" lengthAdjust="spacingAndGlyphs" fill="#fff">Dashboard - Potenzialanalyse: AOP-Katalog 2025 &amp; Hybrid-DRG Katalog 2025/2026 [Beispielklinik]</text><g transform="translate(247.5 17.35) rotate(45) scale(0.45)" fill="#2f1b4b"><rect x="-0.75" y="-2.6" width="1.5" height="3.6" rx="0.2"/><path d="M-0.75 1.3 L0.75 1.3 L0 2.6 Z"/></g><rect x="252.8" y="16.5" width="1.5" height="1.9" rx="0.3" fill="none" stroke="#fff" stroke-width="0.35"/><rect x="257.9" y="16.45" width="2" height="1.9" rx="0.2" fill="#fff"/><g fill="#fff"><circle cx="264.4" cy="16.7" r="0.19"/><circle cx="264.4" cy="17.35" r="0.19"/><circle cx="264.4" cy="18" r="0.19"/></g><rect x="2.9" y="24.25" width="257.8" height="6.3" rx="0.5" fill="#f2f3f5"/><rect x="2.9" y="30.45" width="257.8" height="0.5" fill="#f9c583"/><text x="4.15" y="26.22" font-size="1.3" font-weight="700" fill="#f7941d">Klinik</text><text x="4.15" y="29.3" font-size="1.95" textLength="11.8" lengthAdjust="spacingAndGlyphs" fill="#333">Beispielklinik</text><path d="M257.1 27.2l0.8 0.75l0.8-0.75" fill="none" stroke="#555" stroke-width="0.3"/><g fill="#f7a541"><circle cx="263.5" cy="27.65" r="0.19"/><circle cx="263.5" cy="28.3" r="0.19"/><circle cx="263.5" cy="28.95" r="0.19"/></g><line x1="2.9" y1="39" x2="259" y2="39" stroke="#e9e9e9" stroke-width="0.3"/><g transform="translate(263.3 39.4) rotate(45) scale(0.5)" fill="#f7941d"><rect x="-0.75" y="-2.6" width="1.5" height="3.6" rx="0.2"/><path d="M-0.75 1.3 L0.75 1.3 L0 2.6 Z"/></g><text x="4.15" y="47.49" font-size="2.75" textLength="26.5" lengthAdjust="spacingAndGlyphs" fill="#222" stroke="#222" stroke-width="0.04" stroke-linejoin="round">AOP (Reiter) Potenzial</text><text x="35.4" y="56.2" font-size="6.4" text-anchor="middle" textLength="14.41" lengthAdjust="spacingAndGlyphs" fill="#222" stroke="#222" stroke-width="0.12" stroke-linejoin="round">1.871</text><text x="35.4" y="61.15" font-size="2.5" text-anchor="middle" font-weight="700" textLength="8.44" lengthAdjust="spacingAndGlyphs" fill="#222">Fallzahl</text><path d="M57.65 47.3v-1.2l1.15-0.95l1.15 0.95v1.2z" fill="#f7a541"/><g fill="#f7a541" opacity="0.7"><circle cx="64.4" cy="45.95" r="0.19"/><circle cx="64.4" cy="46.6" r="0.19"/><circle cx="64.4" cy="47.25" r="0.19"/></g><text x="70" y="47.49" font-size="2.75" textLength="25.8" lengthAdjust="spacingAndGlyphs" fill="#222" stroke="#222" stroke-width="0.04" stroke-linejoin="round">H-DRG (Katalog 2025)</text><text x="101.3" y="56.2" font-size="6.4" text-anchor="middle" textLength="9.61" lengthAdjust="spacingAndGlyphs" fill="#222" stroke="#222" stroke-width="0.12" stroke-linejoin="round">340</text><text x="101.3" y="61.15" font-size="2.5" text-anchor="middle" font-weight="700" textLength="8.44" lengthAdjust="spacingAndGlyphs" fill="#222">Fallzahl</text><path d="M123.35 47.3v-1.2l1.15-0.95l1.15 0.95v1.2z" fill="#f7a541"/><g fill="#f7a541" opacity="0.7"><circle cx="130.1" cy="45.95" r="0.19"/><circle cx="130.1" cy="46.6" r="0.19"/><circle cx="130.1" cy="47.25" r="0.19"/></g><text x="136" y="47.49" font-size="2.75" textLength="25.8" lengthAdjust="spacingAndGlyphs" fill="#222" stroke="#222" stroke-width="0.04" stroke-linejoin="round">H-DRG (Katalog 2026)</text><text x="167.2" y="56.2" font-size="6.4" text-anchor="middle" textLength="14.41" lengthAdjust="spacingAndGlyphs" fill="#222" stroke="#222" stroke-width="0.12" stroke-linejoin="round">1.234</text><text x="167.2" y="61.15" font-size="2.5" text-anchor="middle" font-weight="700" textLength="8.44" lengthAdjust="spacingAndGlyphs" fill="#222">Fallzahl</text><path d="M189.75 47.3v-1.2l1.15-0.95l1.15 0.95v1.2z" fill="#f7a541"/><g fill="#f7a541" opacity="0.7"><circle cx="196.3" cy="45.95" r="0.19"/><circle cx="196.3" cy="46.6" r="0.19"/><circle cx="196.3" cy="47.25" r="0.19"/></g><text x="201.95" y="47.49" font-size="2.75" textLength="35.25" lengthAdjust="spacingAndGlyphs" fill="#222" stroke="#222" stroke-width="0.04" stroke-linejoin="round">H-DRG Potenzial (Erweit. Kat.)</text><text x="233.1" y="56.2" font-size="6.4" text-anchor="middle" textLength="14.41" lengthAdjust="spacingAndGlyphs" fill="#222" stroke="#222" stroke-width="0.12" stroke-linejoin="round">2.005</text><text x="233.1" y="61.15" font-size="2.5" text-anchor="middle" font-weight="700" textLength="8.44" lengthAdjust="spacingAndGlyphs" fill="#222">Fallzahl</text><path d="M255.55 47.3v-1.2l1.15-0.95l1.15 0.95v1.2z" fill="#f7a541"/><g fill="#f7a541" opacity="0.7"><circle cx="261.8" cy="45.95" r="0.19"/><circle cx="261.8" cy="46.6" r="0.19"/><circle cx="261.8" cy="47.25" r="0.19"/></g><line x1="2.9" y1="75.5" x2="259" y2="75.5" stroke="#e9e9e9" stroke-width="0.3"/><g transform="translate(263.3 75.8) rotate(45) scale(0.5)" fill="#f7941d"><rect x="-0.75" y="-2.6" width="1.5" height="3.6" rx="0.2"/><path d="M-0.75 1.3 L0.75 1.3 L0 2.6 Z"/></g><line x1="2.9" y1="111.5" x2="259" y2="111.5" stroke="#e9e9e9" stroke-width="0.3"/><g transform="translate(263.3 111.8) rotate(45) scale(0.5)" fill="#f7941d"><rect x="-0.75" y="-2.6" width="1.5" height="3.6" rx="0.2"/><path d="M-0.75 1.3 L0.75 1.3 L0 2.6 Z"/></g><line x1="2.9" y1="147.75" x2="259" y2="147.75" stroke="#e9e9e9" stroke-width="0.3"/><g transform="translate(263.3 148) rotate(45) scale(0.5)" fill="#f7941d"><rect x="-0.75" y="-2.6" width="1.5" height="3.6" rx="0.2"/><path d="M-0.75 1.3 L0.75 1.3 L0 2.6 Z"/></g><text x="4.15" y="83.74" font-size="2.75" textLength="23.3" lengthAdjust="spacingAndGlyphs" fill="#222" stroke="#222" stroke-width="0.04" stroke-linejoin="round">Fallzahlentwicklung</text><g fill="#f7a541" opacity="0.8"><circle cx="86.3" cy="82.1" r="0.19"/><circle cx="86.3" cy="82.75" r="0.19"/><circle cx="86.3" cy="83.4" r="0.19"/></g><rect x="37.9" y="87.2" width="5" height="1.2" rx="0.3" fill="#1d5c7e"/><text x="43.75" y="88.34" font-size="1.5" fill="#777">Fallzahlentwicklung</text><line x1="7.6" y1="89.3" x2="90.65" y2="89.3" stroke="#e8e8e8" stroke-width="0.25"/><text x="7.1" y="89.84" font-size="1.5" text-anchor="end" fill="#777">25.000</text><line x1="7.6" y1="91.59" x2="90.65" y2="91.59" stroke="#e8e8e8" stroke-width="0.25"/><text x="7.1" y="92.13" font-size="1.5" text-anchor="end" fill="#777">20.000</text><line x1="7.6" y1="93.88" x2="90.65" y2="93.88" stroke="#e8e8e8" stroke-width="0.25"/><text x="7.1" y="94.42" font-size="1.5" text-anchor="end" fill="#777">15.000</text><line x1="7.6" y1="96.17" x2="90.65" y2="96.17" stroke="#e8e8e8" stroke-width="0.25"/><text x="7.1" y="96.71" font-size="1.5" text-anchor="end" fill="#777">10.000</text><line x1="7.6" y1="98.46" x2="90.65" y2="98.46" stroke="#e8e8e8" stroke-width="0.25"/><text x="7.1" y="99" font-size="1.5" text-anchor="end" fill="#777">5.000</text><line x1="7.6" y1="100.75" x2="90.65" y2="100.75" stroke="#e8e8e8" stroke-width="0.25"/><text x="7.1" y="101.29" font-size="1.5" text-anchor="end" fill="#777">0</text><line x1="9.43" y1="89.3" x2="9.43" y2="101.55" stroke="#eeeeee" stroke-width="0.25"/><rect x="10.8" y="92.15" width="6.25" height="8.6" fill="#1d5c7e"/><text x="13.93" y="103.46" font-size="1.7" text-anchor="middle" fill="#777">2017</text><line x1="18.43" y1="89.3" x2="18.43" y2="101.55" stroke="#eeeeee" stroke-width="0.25"/><rect x="19.8" y="91.5" width="6.25" height="9.25" fill="#1d5c7e"/><text x="22.93" y="103.46" font-size="1.7" text-anchor="middle" fill="#777">2018</text><line x1="27.43" y1="89.3" x2="27.43" y2="101.55" stroke="#eeeeee" stroke-width="0.25"/><rect x="28.8" y="91.25" width="6.25" height="9.5" fill="#1d5c7e"/><text x="31.93" y="103.46" font-size="1.7" text-anchor="middle" fill="#777">2019</text><line x1="36.42" y1="89.3" x2="36.42" y2="101.55" stroke="#eeeeee" stroke-width="0.25"/><rect x="37.8" y="92.35" width="6.25" height="8.4" fill="#1d5c7e"/><text x="40.92" y="103.46" font-size="1.7" text-anchor="middle" fill="#777">2020</text><line x1="45.42" y1="89.3" x2="45.42" y2="101.55" stroke="#eeeeee" stroke-width="0.25"/><rect x="46.8" y="92.35" width="6.25" height="8.4" fill="#1d5c7e"/><text x="49.92" y="103.46" font-size="1.7" text-anchor="middle" fill="#777">2021</text><line x1="54.42" y1="89.3" x2="54.42" y2="101.55" stroke="#eeeeee" stroke-width="0.25"/><rect x="55.8" y="93.15" width="6.25" height="7.6" fill="#1d5c7e"/><text x="58.92" y="103.46" font-size="1.7" text-anchor="middle" fill="#777">2022</text><line x1="63.42" y1="89.3" x2="63.42" y2="101.55" stroke="#eeeeee" stroke-width="0.25"/><rect x="64.8" y="93" width="6.25" height="7.75" fill="#1d5c7e"/><text x="67.92" y="103.46" font-size="1.7" text-anchor="middle" fill="#777">2023</text><line x1="72.42" y1="89.3" x2="72.42" y2="101.55" stroke="#eeeeee" stroke-width="0.25"/><rect x="73.8" y="93.25" width="6.25" height="7.5" fill="#1d5c7e"/><text x="76.92" y="103.46" font-size="1.7" text-anchor="middle" fill="#777">2024</text><line x1="81.42" y1="89.3" x2="81.42" y2="101.55" stroke="#eeeeee" stroke-width="0.25"/><rect x="82.8" y="96.5" width="6.25" height="4.25" fill="#1d5c7e"/><text x="85.92" y="103.46" font-size="1.7" text-anchor="middle" fill="#777">2025</text><text x="91.9" y="83.74" font-size="2.75" textLength="20.4" lengthAdjust="spacingAndGlyphs" fill="#222" stroke="#222" stroke-width="0.04" stroke-linejoin="round">CMP Entwicklung</text><g fill="#f7a541" opacity="0.8"><circle cx="174.05" cy="82.1" r="0.19"/><circle cx="174.05" cy="82.75" r="0.19"/><circle cx="174.05" cy="83.4" r="0.19"/></g><rect x="125.65" y="87.2" width="5" height="1.2" rx="0.3" fill="#1d5c7e"/><text x="131.5" y="88.34" font-size="1.5" fill="#777">CMP Entwicklung</text><line x1="95.6" y1="89.3" x2="177.53" y2="89.3" stroke="#e8e8e8" stroke-width="0.25"/><text x="95.1" y="89.84" font-size="1.5" text-anchor="end" fill="#777">25.000</text><line x1="95.6" y1="91.59" x2="177.53" y2="91.59" stroke="#e8e8e8" stroke-width="0.25"/><text x="95.1" y="92.13" font-size="1.5" text-anchor="end" fill="#777">20.000</text><line x1="95.6" y1="93.88" x2="177.53" y2="93.88" stroke="#e8e8e8" stroke-width="0.25"/><text x="95.1" y="94.42" font-size="1.5" text-anchor="end" fill="#777">15.000</text><line x1="95.6" y1="96.17" x2="177.53" y2="96.17" stroke="#e8e8e8" stroke-width="0.25"/><text x="95.1" y="96.71" font-size="1.5" text-anchor="end" fill="#777">10.000</text><line x1="95.6" y1="98.46" x2="177.53" y2="98.46" stroke="#e8e8e8" stroke-width="0.25"/><text x="95.1" y="99" font-size="1.5" text-anchor="end" fill="#777">5.000</text><line x1="95.6" y1="100.75" x2="177.53" y2="100.75" stroke="#e8e8e8" stroke-width="0.25"/><text x="95.1" y="101.29" font-size="1.5" text-anchor="end" fill="#777">0</text><line x1="97.5" y1="89.3" x2="97.5" y2="101.55" stroke="#eeeeee" stroke-width="0.25"/><rect x="98.8" y="91.1" width="6.25" height="9.65" fill="#1d5c7e"/><text x="101.92" y="103.46" font-size="1.7" text-anchor="middle" fill="#777">2017</text><line x1="106.35" y1="89.3" x2="106.35" y2="101.55" stroke="#eeeeee" stroke-width="0.25"/><rect x="107.66" y="90.6" width="6.25" height="10.15" fill="#1d5c7e"/><text x="110.78" y="103.46" font-size="1.7" text-anchor="middle" fill="#777">2018</text><line x1="115.22" y1="89.3" x2="115.22" y2="101.55" stroke="#eeeeee" stroke-width="0.25"/><rect x="116.52" y="90.5" width="6.25" height="10.25" fill="#1d5c7e"/><text x="119.64" y="103.46" font-size="1.7" text-anchor="middle" fill="#777">2019</text><line x1="124.07" y1="89.3" x2="124.07" y2="101.55" stroke="#eeeeee" stroke-width="0.25"/><rect x="125.38" y="92.2" width="6.25" height="8.55" fill="#1d5c7e"/><text x="128.5" y="103.46" font-size="1.7" text-anchor="middle" fill="#777">2020</text><line x1="132.94" y1="89.3" x2="132.94" y2="101.55" stroke="#eeeeee" stroke-width="0.25"/><rect x="134.24" y="92.4" width="6.25" height="8.35" fill="#1d5c7e"/><text x="137.37" y="103.46" font-size="1.7" text-anchor="middle" fill="#777">2021</text><line x1="141.79" y1="89.3" x2="141.79" y2="101.55" stroke="#eeeeee" stroke-width="0.25"/><rect x="143.1" y="92.8" width="6.25" height="7.95" fill="#1d5c7e"/><text x="146.22" y="103.46" font-size="1.7" text-anchor="middle" fill="#777">2022</text><line x1="150.65" y1="89.3" x2="150.65" y2="101.55" stroke="#eeeeee" stroke-width="0.25"/><rect x="151.96" y="92.8" width="6.25" height="7.95" fill="#1d5c7e"/><text x="155.08" y="103.46" font-size="1.7" text-anchor="middle" fill="#777">2023</text><line x1="159.51" y1="89.3" x2="159.51" y2="101.55" stroke="#eeeeee" stroke-width="0.25"/><rect x="160.82" y="93.1" width="6.25" height="7.65" fill="#1d5c7e"/><text x="163.94" y="103.46" font-size="1.7" text-anchor="middle" fill="#777">2024</text><line x1="168.38" y1="89.3" x2="168.38" y2="101.55" stroke="#eeeeee" stroke-width="0.25"/><rect x="169.68" y="96.65" width="6.25" height="4.1" fill="#1d5c7e"/><text x="172.81" y="103.46" font-size="1.7" text-anchor="middle" fill="#777">2025</text><text x="179.65" y="83.74" font-size="2.75" textLength="21.5" lengthAdjust="spacingAndGlyphs" fill="#222" stroke="#222" stroke-width="0.04" stroke-linejoin="round">CMI Entwicklung</text><g fill="#f7a541" opacity="0.8"><circle cx="261.8" cy="82.1" r="0.19"/><circle cx="261.8" cy="82.75" r="0.19"/><circle cx="261.8" cy="83.4" r="0.19"/></g><rect x="213.4" y="87.2" width="5" height="1.2" rx="0.3" fill="#1d5c7e"/><text x="219.25" y="88.34" font-size="1.5" fill="#777">CMI Entwicklung</text><line x1="181.3" y1="89.3" x2="264.57" y2="89.3" stroke="#e8e8e8" stroke-width="0.25"/><text x="180.8" y="89.84" font-size="1.5" text-anchor="end" fill="#777">1,0</text><line x1="181.3" y1="91.52" x2="264.57" y2="91.52" stroke="#e8e8e8" stroke-width="0.25"/><text x="180.8" y="92.06" font-size="1.5" text-anchor="end" fill="#777">0,8</text><line x1="181.3" y1="93.74" x2="264.57" y2="93.74" stroke="#e8e8e8" stroke-width="0.25"/><text x="180.8" y="94.28" font-size="1.5" text-anchor="end" fill="#777">0,6</text><line x1="181.3" y1="95.96" x2="264.57" y2="95.96" stroke="#e8e8e8" stroke-width="0.25"/><text x="180.8" y="96.5" font-size="1.5" text-anchor="end" fill="#777">0,4</text><line x1="181.3" y1="98.18" x2="264.57" y2="98.18" stroke="#e8e8e8" stroke-width="0.25"/><text x="180.8" y="98.72" font-size="1.5" text-anchor="end" fill="#777">0,2</text><line x1="181.3" y1="100.4" x2="264.57" y2="100.4" stroke="#e8e8e8" stroke-width="0.25"/><text x="180.8" y="100.94" font-size="1.5" text-anchor="end" fill="#777">0</text><line x1="183.06" y1="89.3" x2="183.06" y2="101.2" stroke="#eeeeee" stroke-width="0.25"/><rect x="184.5" y="90.2" width="6.15" height="10.2" fill="#1d5c7e"/><text x="187.57" y="103.11" font-size="1.7" text-anchor="middle" fill="#777">2017</text><line x1="192.09" y1="89.3" x2="192.09" y2="101.2" stroke="#eeeeee" stroke-width="0.25"/><rect x="193.54" y="90" width="6.15" height="10.4" fill="#1d5c7e"/><text x="196.61" y="103.11" font-size="1.7" text-anchor="middle" fill="#777">2018</text><line x1="201.13" y1="89.3" x2="201.13" y2="101.2" stroke="#eeeeee" stroke-width="0.25"/><rect x="202.58" y="90" width="6.15" height="10.4" fill="#1d5c7e"/><text x="205.65" y="103.11" font-size="1.7" text-anchor="middle" fill="#777">2019</text><line x1="210.18" y1="89.3" x2="210.18" y2="101.2" stroke="#eeeeee" stroke-width="0.25"/><rect x="211.62" y="91.7" width="6.15" height="8.7" fill="#1d5c7e"/><text x="214.69" y="103.11" font-size="1.7" text-anchor="middle" fill="#777">2020</text><line x1="219.22" y1="89.3" x2="219.22" y2="101.2" stroke="#eeeeee" stroke-width="0.25"/><rect x="220.66" y="92" width="6.15" height="8.4" fill="#1d5c7e"/><text x="223.73" y="103.11" font-size="1.7" text-anchor="middle" fill="#777">2021</text><line x1="228.25" y1="89.3" x2="228.25" y2="101.2" stroke="#eeeeee" stroke-width="0.25"/><rect x="229.7" y="91.6" width="6.15" height="8.8" fill="#1d5c7e"/><text x="232.77" y="103.11" font-size="1.7" text-anchor="middle" fill="#777">2022</text><line x1="237.3" y1="89.3" x2="237.3" y2="101.2" stroke="#eeeeee" stroke-width="0.25"/><rect x="238.74" y="91.7" width="6.15" height="8.7" fill="#1d5c7e"/><text x="241.81" y="103.11" font-size="1.7" text-anchor="middle" fill="#777">2023</text><line x1="246.34" y1="89.3" x2="246.34" y2="101.2" stroke="#eeeeee" stroke-width="0.25"/><rect x="247.78" y="91.2" width="6.15" height="9.2" fill="#1d5c7e"/><text x="250.85" y="103.11" font-size="1.7" text-anchor="middle" fill="#777">2024</text><line x1="255.38" y1="89.3" x2="255.38" y2="101.2" stroke="#eeeeee" stroke-width="0.25"/><rect x="256.82" y="91.7" width="6.15" height="8.7" fill="#1d5c7e"/><text x="259.89" y="103.11" font-size="1.7" text-anchor="middle" fill="#777">2025</text><text x="4.15" y="119.74" font-size="2.75" textLength="23.5" lengthAdjust="spacingAndGlyphs" fill="#222" stroke="#222" stroke-width="0.04" stroke-linejoin="round">Ø VWD Entwicklung</text><g fill="#f7a541" opacity="0.8"><circle cx="86.3" cy="118.1" r="0.19"/><circle cx="86.3" cy="118.75" r="0.19"/><circle cx="86.3" cy="119.4" r="0.19"/></g><rect x="37.9" y="123.2" width="5" height="1.2" rx="0.3" fill="#1d5c7e"/><text x="43.75" y="124.34" font-size="1.5" fill="#777">Ø VWD Entwicklung</text><line x1="4.45" y1="125.5" x2="89.75" y2="125.5" stroke="#e8e8e8" stroke-width="0.25"/><text x="3.95" y="126.04" font-size="1.5" text-anchor="end" fill="#777">8</text><line x1="4.45" y1="127.77" x2="89.75" y2="127.77" stroke="#e8e8e8" stroke-width="0.25"/><text x="3.95" y="128.31" font-size="1.5" text-anchor="end" fill="#777">6</text><line x1="4.45" y1="130.04" x2="89.75" y2="130.04" stroke="#e8e8e8" stroke-width="0.25"/><text x="3.95" y="130.58" font-size="1.5" text-anchor="end" fill="#777">5</text><line x1="4.45" y1="132.31" x2="89.75" y2="132.31" stroke="#e8e8e8" stroke-width="0.25"/><text x="3.95" y="132.85" font-size="1.5" text-anchor="end" fill="#777">3</text><line x1="4.45" y1="134.58" x2="89.75" y2="134.58" stroke="#e8e8e8" stroke-width="0.25"/><text x="3.95" y="135.12" font-size="1.5" text-anchor="end" fill="#777">2</text><line x1="4.45" y1="136.85" x2="89.75" y2="136.85" stroke="#e8e8e8" stroke-width="0.25"/><text x="3.95" y="137.39" font-size="1.5" text-anchor="end" fill="#777">0</text><line x1="6.28" y1="125.5" x2="6.28" y2="137.65" stroke="#eeeeee" stroke-width="0.25"/><rect x="7.65" y="128.1" width="6.5" height="8.75" fill="#1d5c7e"/><text x="10.9" y="139.56" font-size="1.7" text-anchor="middle" fill="#777">2017</text><line x1="15.52" y1="125.5" x2="15.52" y2="137.65" stroke="#eeeeee" stroke-width="0.25"/><rect x="16.9" y="128.4" width="6.5" height="8.45" fill="#1d5c7e"/><text x="20.15" y="139.56" font-size="1.7" text-anchor="middle" fill="#777">2018</text><line x1="24.77" y1="125.5" x2="24.77" y2="137.65" stroke="#eeeeee" stroke-width="0.25"/><rect x="26.15" y="128.4" width="6.5" height="8.45" fill="#1d5c7e"/><text x="29.4" y="139.56" font-size="1.7" text-anchor="middle" fill="#777">2019</text><line x1="34.02" y1="125.5" x2="34.02" y2="137.65" stroke="#eeeeee" stroke-width="0.25"/><rect x="35.4" y="128.4" width="6.5" height="8.45" fill="#1d5c7e"/><text x="38.65" y="139.56" font-size="1.7" text-anchor="middle" fill="#777">2020</text><line x1="43.27" y1="125.5" x2="43.27" y2="137.65" stroke="#eeeeee" stroke-width="0.25"/><rect x="44.65" y="128.4" width="6.5" height="8.45" fill="#1d5c7e"/><text x="47.9" y="139.56" font-size="1.7" text-anchor="middle" fill="#777">2021</text><line x1="52.52" y1="125.5" x2="52.52" y2="137.65" stroke="#eeeeee" stroke-width="0.25"/><rect x="53.9" y="127.4" width="6.5" height="9.45" fill="#1d5c7e"/><text x="57.15" y="139.56" font-size="1.7" text-anchor="middle" fill="#777">2022</text><line x1="61.77" y1="125.5" x2="61.77" y2="137.65" stroke="#eeeeee" stroke-width="0.25"/><rect x="63.15" y="128.4" width="6.5" height="8.45" fill="#1d5c7e"/><text x="66.4" y="139.56" font-size="1.7" text-anchor="middle" fill="#777">2023</text><line x1="71.03" y1="125.5" x2="71.03" y2="137.65" stroke="#eeeeee" stroke-width="0.25"/><rect x="72.4" y="128.4" width="6.5" height="8.45" fill="#1d5c7e"/><text x="75.65" y="139.56" font-size="1.7" text-anchor="middle" fill="#777">2024</text><line x1="80.28" y1="125.5" x2="80.28" y2="137.65" stroke="#eeeeee" stroke-width="0.25"/><rect x="81.65" y="129" width="6.5" height="7.85" fill="#1d5c7e"/><text x="84.9" y="139.56" font-size="1.7" text-anchor="middle" fill="#777">2025</text><text x="91.9" y="119.74" font-size="2.75" textLength="27" lengthAdjust="spacingAndGlyphs" fill="#222" stroke="#222" stroke-width="0.04" stroke-linejoin="round">Einweisungsquote in %</text><g fill="#f7a541" opacity="0.8"><circle cx="174.05" cy="118.1" r="0.19"/><circle cx="174.05" cy="118.75" r="0.19"/><circle cx="174.05" cy="119.4" r="0.19"/></g><rect x="125.65" y="123.2" width="5" height="1.2" rx="0.3" fill="#1d5c7e"/><text x="131.5" y="124.34" font-size="1.5" fill="#777">Einweisungsquote in %</text><line x1="94.2" y1="125.5" x2="176.95" y2="125.5" stroke="#e8e8e8" stroke-width="0.25"/><text x="93.7" y="126.04" font-size="1.5" text-anchor="end" fill="#777">100</text><line x1="94.2" y1="127.77" x2="176.95" y2="127.77" stroke="#e8e8e8" stroke-width="0.25"/><text x="93.7" y="128.31" font-size="1.5" text-anchor="end" fill="#777">80</text><line x1="94.2" y1="130.04" x2="176.95" y2="130.04" stroke="#e8e8e8" stroke-width="0.25"/><text x="93.7" y="130.58" font-size="1.5" text-anchor="end" fill="#777">60</text><line x1="94.2" y1="132.31" x2="176.95" y2="132.31" stroke="#e8e8e8" stroke-width="0.25"/><text x="93.7" y="132.85" font-size="1.5" text-anchor="end" fill="#777">40</text><line x1="94.2" y1="134.58" x2="176.95" y2="134.58" stroke="#e8e8e8" stroke-width="0.25"/><text x="93.7" y="135.12" font-size="1.5" text-anchor="end" fill="#777">20</text><line x1="94.2" y1="136.85" x2="176.95" y2="136.85" stroke="#e8e8e8" stroke-width="0.25"/><text x="93.7" y="137.39" font-size="1.5" text-anchor="end" fill="#777">0</text><line x1="96.1" y1="125.5" x2="96.1" y2="137.65" stroke="#eeeeee" stroke-width="0.25"/><rect x="97.4" y="132.4" width="6.35" height="4.45" fill="#1d5c7e"/><text x="100.58" y="139.56" font-size="1.7" text-anchor="middle" fill="#777">2017</text><line x1="105.05" y1="125.5" x2="105.05" y2="137.65" stroke="#eeeeee" stroke-width="0.25"/><rect x="106.35" y="132.4" width="6.35" height="4.45" fill="#1d5c7e"/><text x="109.53" y="139.56" font-size="1.7" text-anchor="middle" fill="#777">2018</text><line x1="114" y1="125.5" x2="114" y2="137.65" stroke="#eeeeee" stroke-width="0.25"/><rect x="115.3" y="132.1" width="6.35" height="4.75" fill="#1d5c7e"/><text x="118.48" y="139.56" font-size="1.7" text-anchor="middle" fill="#777">2019</text><line x1="122.95" y1="125.5" x2="122.95" y2="137.65" stroke="#eeeeee" stroke-width="0.25"/><rect x="124.25" y="132.4" width="6.35" height="4.45" fill="#1d5c7e"/><text x="127.42" y="139.56" font-size="1.7" text-anchor="middle" fill="#777">2020</text><line x1="131.9" y1="125.5" x2="131.9" y2="137.65" stroke="#eeeeee" stroke-width="0.25"/><rect x="133.2" y="132.3" width="6.35" height="4.55" fill="#1d5c7e"/><text x="136.38" y="139.56" font-size="1.7" text-anchor="middle" fill="#777">2021</text><line x1="140.85" y1="125.5" x2="140.85" y2="137.65" stroke="#eeeeee" stroke-width="0.25"/><rect x="142.15" y="132" width="6.35" height="4.85" fill="#1d5c7e"/><text x="145.33" y="139.56" font-size="1.7" text-anchor="middle" fill="#777">2022</text><line x1="149.8" y1="125.5" x2="149.8" y2="137.65" stroke="#eeeeee" stroke-width="0.25"/><rect x="151.1" y="131.8" width="6.35" height="5.05" fill="#1d5c7e"/><text x="154.28" y="139.56" font-size="1.7" text-anchor="middle" fill="#777">2023</text><line x1="158.75" y1="125.5" x2="158.75" y2="137.65" stroke="#eeeeee" stroke-width="0.25"/><rect x="160.05" y="131.9" width="6.35" height="4.95" fill="#1d5c7e"/><text x="163.23" y="139.56" font-size="1.7" text-anchor="middle" fill="#777">2024</text><line x1="167.7" y1="125.5" x2="167.7" y2="137.65" stroke="#eeeeee" stroke-width="0.25"/><rect x="169" y="132.3" width="6.35" height="4.55" fill="#1d5c7e"/><text x="172.18" y="139.56" font-size="1.7" text-anchor="middle" fill="#777">2025</text><text x="179.65" y="119.74" font-size="2.75" textLength="31" lengthAdjust="spacingAndGlyphs" fill="#222" stroke="#222" stroke-width="0.04" stroke-linejoin="round">Anteil Privatpatienten in %</text><g fill="#f7a541" opacity="0.8"><circle cx="261.8" cy="118.1" r="0.19"/><circle cx="261.8" cy="118.75" r="0.19"/><circle cx="261.8" cy="119.4" r="0.19"/></g><rect x="209.4" y="123.2" width="5" height="1.2" rx="0.3" fill="#1d5c7e"/><text x="215.25" y="124.34" font-size="1.5" fill="#777">Anteil Privatpatienten in %</text><line x1="181.3" y1="125.5" x2="265.12" y2="125.5" stroke="#e8e8e8" stroke-width="0.25"/><text x="180.8" y="126.04" font-size="1.5" text-anchor="end" fill="#777">100</text><line x1="181.3" y1="127.77" x2="265.12" y2="127.77" stroke="#e8e8e8" stroke-width="0.25"/><text x="180.8" y="128.31" font-size="1.5" text-anchor="end" fill="#777">80</text><line x1="181.3" y1="130.04" x2="265.12" y2="130.04" stroke="#e8e8e8" stroke-width="0.25"/><text x="180.8" y="130.58" font-size="1.5" text-anchor="end" fill="#777">60</text><line x1="181.3" y1="132.31" x2="265.12" y2="132.31" stroke="#e8e8e8" stroke-width="0.25"/><text x="180.8" y="132.85" font-size="1.5" text-anchor="end" fill="#777">40</text><line x1="181.3" y1="134.58" x2="265.12" y2="134.58" stroke="#e8e8e8" stroke-width="0.25"/><text x="180.8" y="135.12" font-size="1.5" text-anchor="end" fill="#777">20</text><line x1="181.3" y1="136.85" x2="265.12" y2="136.85" stroke="#e8e8e8" stroke-width="0.25"/><text x="180.8" y="137.39" font-size="1.5" text-anchor="end" fill="#777">0</text><line x1="183.33" y1="125.5" x2="183.33" y2="137.65" stroke="#eeeeee" stroke-width="0.25"/><rect x="184.5" y="136" width="6.7" height="0.85" fill="#1d5c7e"/><text x="187.85" y="139.56" font-size="1.7" text-anchor="middle" fill="#777">2017</text><line x1="192.37" y1="125.5" x2="192.37" y2="137.65" stroke="#eeeeee" stroke-width="0.25"/><rect x="193.54" y="136" width="6.7" height="0.85" fill="#1d5c7e"/><text x="196.89" y="139.56" font-size="1.7" text-anchor="middle" fill="#777">2018</text><line x1="201.41" y1="125.5" x2="201.41" y2="137.65" stroke="#eeeeee" stroke-width="0.25"/><rect x="202.58" y="136" width="6.7" height="0.85" fill="#1d5c7e"/><text x="205.93" y="139.56" font-size="1.7" text-anchor="middle" fill="#777">2019</text><line x1="210.45" y1="125.5" x2="210.45" y2="137.65" stroke="#eeeeee" stroke-width="0.25"/><rect x="211.62" y="136" width="6.7" height="0.85" fill="#1d5c7e"/><text x="214.97" y="139.56" font-size="1.7" text-anchor="middle" fill="#777">2020</text><line x1="219.49" y1="125.5" x2="219.49" y2="137.65" stroke="#eeeeee" stroke-width="0.25"/><rect x="220.66" y="136" width="6.7" height="0.85" fill="#1d5c7e"/><text x="224.01" y="139.56" font-size="1.7" text-anchor="middle" fill="#777">2021</text><line x1="228.53" y1="125.5" x2="228.53" y2="137.65" stroke="#eeeeee" stroke-width="0.25"/><rect x="229.7" y="136" width="6.7" height="0.85" fill="#1d5c7e"/><text x="233.05" y="139.56" font-size="1.7" text-anchor="middle" fill="#777">2022</text><line x1="237.57" y1="125.5" x2="237.57" y2="137.65" stroke="#eeeeee" stroke-width="0.25"/><rect x="238.74" y="136" width="6.7" height="0.85" fill="#1d5c7e"/><text x="242.09" y="139.56" font-size="1.7" text-anchor="middle" fill="#777">2023</text><line x1="246.61" y1="125.5" x2="246.61" y2="137.65" stroke="#eeeeee" stroke-width="0.25"/><rect x="247.78" y="135.9" width="6.7" height="0.95" fill="#1d5c7e"/><text x="251.13" y="139.56" font-size="1.7" text-anchor="middle" fill="#777">2024</text><line x1="255.65" y1="125.5" x2="255.65" y2="137.65" stroke="#eeeeee" stroke-width="0.25"/><rect x="256.82" y="136" width="6.7" height="0.85" fill="#1d5c7e"/><text x="260.17" y="139.56" font-size="1.7" text-anchor="middle" fill="#777">2025</text><text x="4.15" y="155.84" font-size="2.75" textLength="36.5" lengthAdjust="spacingAndGlyphs" fill="#222" stroke="#222" stroke-width="0.04" stroke-linejoin="round">Fallzahlentwicklung pro Monat</text><g fill="#f7a541" opacity="0.7"><circle cx="262" cy="153.85" r="0.19"/><circle cx="262" cy="154.5" r="0.19"/><circle cx="262" cy="155.15" r="0.19"/></g><rect x="124.15" y="159.3" width="5" height="1.2" rx="0.3" fill="#1d5c7e"/><text x="130" y="160.44" font-size="1.5" fill="#777">Fallzahl</text><line x1="9" y1="161.3" x2="262.5" y2="161.3" stroke="#ececec" stroke-width="0.25"/><text x="8.3" y="161.84" font-size="1.5" text-anchor="end" fill="#777">2.000</text><line x1="9" y1="165" x2="262.5" y2="165" stroke="#ececec" stroke-width="0.25"/><text x="8.3" y="165.54" font-size="1.5" text-anchor="end" fill="#777">1.000</text><line x1="9" y1="168.7" x2="262.5" y2="168.7" stroke="#ececec" stroke-width="0.25"/><text x="8.3" y="169.24" font-size="1.5" text-anchor="end" fill="#777">0</text><line x1="10.5" y1="160.5" x2="10.5" y2="169.5" stroke="#f0f0f0" stroke-width="0.25"/><line x1="20.27" y1="160.5" x2="20.27" y2="169.5" stroke="#f0f0f0" stroke-width="0.25"/><line x1="30.03" y1="160.5" x2="30.03" y2="169.5" stroke="#f0f0f0" stroke-width="0.25"/><line x1="39.8" y1="160.5" x2="39.8" y2="169.5" stroke="#f0f0f0" stroke-width="0.25"/><line x1="49.57" y1="160.5" x2="49.57" y2="169.5" stroke="#f0f0f0" stroke-width="0.25"/><line x1="59.33" y1="160.5" x2="59.33" y2="169.5" stroke="#f0f0f0" stroke-width="0.25"/><line x1="69.1" y1="160.5" x2="69.1" y2="169.5" stroke="#f0f0f0" stroke-width="0.25"/><line x1="78.87" y1="160.5" x2="78.87" y2="169.5" stroke="#f0f0f0" stroke-width="0.25"/><line x1="88.64" y1="160.5" x2="88.64" y2="169.5" stroke="#f0f0f0" stroke-width="0.25"/><line x1="98.4" y1="160.5" x2="98.4" y2="169.5" stroke="#f0f0f0" stroke-width="0.25"/><line x1="108.17" y1="160.5" x2="108.17" y2="169.5" stroke="#f0f0f0" stroke-width="0.25"/><line x1="117.94" y1="160.5" x2="117.94" y2="169.5" stroke="#f0f0f0" stroke-width="0.25"/><line x1="127.7" y1="160.5" x2="127.7" y2="169.5" stroke="#f0f0f0" stroke-width="0.25"/><line x1="137.47" y1="160.5" x2="137.47" y2="169.5" stroke="#f0f0f0" stroke-width="0.25"/><line x1="147.24" y1="160.5" x2="147.24" y2="169.5" stroke="#f0f0f0" stroke-width="0.25"/><line x1="157" y1="160.5" x2="157" y2="169.5" stroke="#f0f0f0" stroke-width="0.25"/><line x1="166.77" y1="160.5" x2="166.77" y2="169.5" stroke="#f0f0f0" stroke-width="0.25"/><line x1="176.54" y1="160.5" x2="176.54" y2="169.5" stroke="#f0f0f0" stroke-width="0.25"/><line x1="186.31" y1="160.5" x2="186.31" y2="169.5" stroke="#f0f0f0" stroke-width="0.25"/><line x1="196.07" y1="160.5" x2="196.07" y2="169.5" stroke="#f0f0f0" stroke-width="0.25"/><line x1="205.84" y1="160.5" x2="205.84" y2="169.5" stroke="#f0f0f0" stroke-width="0.25"/><line x1="215.61" y1="160.5" x2="215.61" y2="169.5" stroke="#f0f0f0" stroke-width="0.25"/><line x1="225.37" y1="160.5" x2="225.37" y2="169.5" stroke="#f0f0f0" stroke-width="0.25"/><line x1="235.14" y1="160.5" x2="235.14" y2="169.5" stroke="#f0f0f0" stroke-width="0.25"/><line x1="244.91" y1="160.5" x2="244.91" y2="169.5" stroke="#f0f0f0" stroke-width="0.25"/><line x1="254.67" y1="160.5" x2="254.67" y2="169.5" stroke="#f0f0f0" stroke-width="0.25"/><polyline points="10.5,162.55 12.94,162.79 15.38,162.52 17.83,162.35 20.27,162.62 22.71,162.63 25.15,162.23 27.59,162.19 30.03,162.46 32.48,163.22 34.92,162.91 37.36,162.2 39.8,162.49 42.24,162.29 44.68,162.17 47.13,162.53 49.57,162.7 52.01,162.42 54.45,162.42 56.89,162.75 59.33,162.67 61.78,162.31 64.22,162.39 66.66,162.6 69.1,162.33 71.54,162.05 73.99,162.28 76.43,162.43 78.87,162.13 81.31,162.09 83.75,162.47 86.19,162.53 88.64,162.26 91.08,162.41 93.52,162.76 95.96,162.62 98.4,162.36 100.84,162.57 103.29,162.72 105.73,163.29 108.17,164.05 110.61,163.09 113.05,162.43 115.5,162.07 117.94,162.1 120.38,162.43 122.82,162.34 125.26,162.11 127.7,162.37 130.15,162.67 132.59,162.47 135.03,162.34 137.47,162.67 139.91,162.76 142.35,162.41 144.8,162.36 147.24,162.63 149.68,162.49 152.12,162.11 154.56,162.22 157,162.45 159.45,162.21 161.89,162.02 164.33,162.33 166.77,162.52 169.21,162.27 171.66,162.28 174.1,162.67 176.54,162.69 178.98,162.39 181.42,162.49 183.86,162.76 186.31,162.53 188.75,162.23 191.19,162.41 193.63,162.53 196.07,162.18 198.51,162.04 200.96,162.35 203.4,162.39 205.84,162.09 208.28,162.21 210.72,162.59 213.17,162.51 215.61,162.29 218.05,162.55 220.49,162.8 222.93,162.52 225.37,162.35 227.82,162.61 230.26,162.62 232.7,162.23 235.14,162.18 237.58,162.45 240.02,162.32 242.47,162.01 244.91,162.95 247.35,165.08 249.79,163.88 252.23,162.17 254.67,162.53 257.12,162.71 259.56,162.43 262,162.42" fill="none" stroke="#1d5c7e" stroke-width="0.45" stroke-linejoin="round"/><g fill="#1d5c7e"><circle cx="10.5" cy="162.55" r="0.42"/><circle cx="15.38" cy="162.52" r="0.42"/><circle cx="20.27" cy="162.62" r="0.42"/><circle cx="25.15" cy="162.23" r="0.42"/><circle cx="30.03" cy="162.46" r="0.42"/><circle cx="34.92" cy="162.91" r="0.42"/><circle cx="39.8" cy="162.49" r="0.42"/><circle cx="44.68" cy="162.17" r="0.42"/><circle cx="49.57" cy="162.7" r="0.42"/><circle cx="54.45" cy="162.42" r="0.42"/><circle cx="59.33" cy="162.67" r="0.42"/><circle cx="64.22" cy="162.39" r="0.42"/><circle cx="69.1" cy="162.33" r="0.42"/><circle cx="73.99" cy="162.28" r="0.42"/><circle cx="78.87" cy="162.13" r="0.42"/><circle cx="83.75" cy="162.47" r="0.42"/><circle cx="88.64" cy="162.26" r="0.42"/><circle cx="93.52" cy="162.76" r="0.42"/><circle cx="98.4" cy="162.36" r="0.42"/><circle cx="103.29" cy="162.72" r="0.42"/><circle cx="108.17" cy="164.05" r="0.42"/><circle cx="113.05" cy="162.43" r="0.42"/><circle cx="117.94" cy="162.1" r="0.42"/><circle cx="122.82" cy="162.34" r="0.42"/><circle cx="127.7" cy="162.37" r="0.42"/><circle cx="132.59" cy="162.47" r="0.42"/><circle cx="137.47" cy="162.67" r="0.42"/><circle cx="142.35" cy="162.41" r="0.42"/><circle cx="147.24" cy="162.63" r="0.42"/><circle cx="152.12" cy="162.11" r="0.42"/><circle cx="157" cy="162.45" r="0.42"/><circle cx="161.89" cy="162.02" r="0.42"/><circle cx="166.77" cy="162.52" r="0.42"/><circle cx="171.66" cy="162.28" r="0.42"/><circle cx="176.54" cy="162.69" r="0.42"/><circle cx="181.42" cy="162.49" r="0.42"/><circle cx="186.31" cy="162.53" r="0.42"/><circle cx="191.19" cy="162.41" r="0.42"/><circle cx="196.07" cy="162.18" r="0.42"/><circle cx="200.96" cy="162.35" r="0.42"/><circle cx="205.84" cy="162.09" r="0.42"/><circle cx="210.72" cy="162.59" r="0.42"/><circle cx="215.61" cy="162.29" r="0.42"/><circle cx="220.49" cy="162.8" r="0.42"/><circle cx="225.37" cy="162.35" r="0.42"/><circle cx="230.26" cy="162.62" r="0.42"/><circle cx="235.14" cy="162.18" r="0.42"/><circle cx="240.02" cy="162.32" r="0.42"/><circle cx="244.91" cy="162.95" r="0.42"/><circle cx="249.79" cy="163.88" r="0.42"/><circle cx="254.67" cy="162.53" r="0.42"/><circle cx="259.56" cy="162.43" r="0.42"/></g><text x="94.8" y="171.77" font-size="1.3" font-weight="700" fill="#222">© 2025</text><text x="94.8" y="172.93" font-size="1.2" fill="#999">/ Login /</text><text x="100.6" y="172.46" font-size="1.7" textLength="10.32" lengthAdjust="spacingAndGlyphs" fill="#8a8a8a">BinDoc GmbH</text><text x="112.47" y="172.46" font-size="1.7" textLength="8.98" lengthAdjust="spacingAndGlyphs" fill="#8a8a8a">Datenschutz</text><text x="123" y="172.46" font-size="1.7" textLength="10.86" lengthAdjust="spacingAndGlyphs" fill="#8a8a8a">Dokumentation</text><text x="135.41" y="172.46" font-size="1.7" textLength="7.99" lengthAdjust="spacingAndGlyphs" fill="#8a8a8a">Impressum</text><text x="144.95" y="172.46" font-size="1.7" textLength="15.26" lengthAdjust="spacingAndGlyphs" fill="#8a8a8a">Ambulante Lösungen</text><text x="161.76" y="172.46" font-size="1.7" textLength="15.17" lengthAdjust="spacingAndGlyphs" fill="#8a8a8a">Cookie Einstellungen</text></g></g><g class="notch"><path d="M155 418.75 L155 424 A1.6 1.6 0 0 0 156.6 425.6 L186.1 425.6 A1.6 1.6 0 0 0 187.7 424 L187.7 418.75 Z" fill="#050505"/><circle cx="171.35" cy="421.97" r="0.76" fill="#1c1c1e"/></g></svg>
<svg class="laptop r1" width="1280" height="720" viewBox="0 0 1280 720"><defs><clipPath id="clip_r1"><path d="M951.7 607.5 L951.7 424.2 A3.8 3.8 0 0 1 955.5 420.4 L1237.1 420.4 A3.8 3.8 0 0 1 1240.9 424.2 L1240.9 607.5 Z"/></clipPath></defs><g class="base"><path d="M941.5 631.4 L966.6 631.4 Q966 634.14 963.1 634.14 L945 634.14 Q942.1 634.14 941.5 631.4 Z" fill="url(#gFoot)"/><path d="M1226.5 631.4 L1251 631.4 Q1250.4 634.14 1247.5 634.14 L1230 634.14 Q1227.1 634.14 1226.5 631.4 Z" fill="url(#gFoot)"/><clipPath id="bclip_r1"><path d="M920.7 618.6 L1271.8 618.6 A1.2 1.2 0 0 1 1273 619.8 L1273 624.88 A7.5 7.12 0 0 1 1265.5 632 L927 632 A7.5 7.12 0 0 1 919.5 624.88 L919.5 619.8 A1.2 1.2 0 0 1 920.7 618.6 Z"/></clipPath><g clip-path="url(#bclip_r1)"><rect x="919.5" y="618.6" width="353.5" height="13.4" fill="url(#gBase)"/><rect x="919.5" y="618.6" width="12" height="13.4" fill="url(#gCapL)"/><rect x="1261" y="618.6" width="12" height="13.4" fill="url(#gCapR)"/><rect x="919.5" y="618.6" width="353.5" height="0.7" fill="#e2e3e5" opacity="0.8"/><path d="M1066 617.6 L1066 620.8 A2.2 2.2 0 0 0 1068.2 623 L1123.8 623 A2.2 2.2 0 0 0 1126 620.8 L1126 617.6 Z" fill="url(#gCut)" stroke="#8f9092" stroke-width="0.5" stroke-opacity="0.55"/></g></g><g class="lid"><path d="M947.2 618.6 L947.2 423.6 A8 8 0 0 1 955.2 415.6 L1237.4 415.6 A8 8 0 0 1 1245.4 423.6 L1245.4 618.6 Z" fill="#050505"/><rect x="947.2" y="611" width="298.2" height="7.6" fill="url(#gHinge)"/></g><g clip-path="url(#clip_r1)"><g class="screen" transform="translate(951.7 420.4) scale(1.0765 1.0725)"><rect x="-1" y="-1" width="270.6" height="176.4" fill="#fff"/><g fill="none" stroke="#9a9a9a" stroke-width="0.4" stroke-linecap="round" stroke-linejoin="round"><rect x="2.9" y="2.9" width="3" height="2.4" rx="0.5"/><path d="M4 2.9V5.3"/><path d="M8 3.8l0.55 0.55l0.55-0.55" stroke-width="0.35"/><path d="M13.3 3.05l-1.05 1.05l1.05 1.05"/><path d="M18.1 3.05l1.05 1.05l-1.05 1.05" stroke="#d4d4d4"/><path d="M252.4 3.8v1.6h2v-1.6M253.4 2.6v1.9M252.85 3.1l0.55-0.55l0.55 0.55"/><path d="M257.9 4.1h2M258.9 3.1v2"/><rect x="264" y="3.5" width="1.8" height="1.8" rx="0.4"/><path d="M263.3 4.7v-1.4a0.4 0.4 0 0 1 0.4-0.4h1.4"/></g><rect x="79.8" y="2.1" width="108.9" height="4.1" rx="1" fill="#f5f5f5" stroke="#ececec" stroke-width="0.25"/><circle cx="186.9" cy="4.15" r="0.75" fill="none" stroke="#9a9a9a" stroke-width="0.3"/><rect x="-1" y="8.25" width="270.6" height="12.9" fill="#47286f"/><rect x="-1" y="14" width="270.6" height="2" fill="url(#gShadow)"/><rect x="-1" y="21.15" width="270.6" height="1.6" fill="url(#gShadow)" opacity="0.6"/><g stroke="#d9d2e6" stroke-width="0.3"><path d="M3.3 10.2h1.7M3.3 10.75h1.7M3.3 11.3h1.7"/></g><text x="8.8" y="11.57" font-size="2.15" font-weight="700" textLength="12.2" lengthAdjust="spacingAndGlyphs" fill="#fff">BinDoc Meta</text><text x="255.8" y="11.5" font-size="1.95" text-anchor="end" font-weight="700" textLength="11.7" lengthAdjust="spacingAndGlyphs" fill="#fff">Live Analytics</text><g fill="none" stroke="#e6e0ef" stroke-width="0.3"><circle cx="258.9" cy="10.8" r="0.85"/><circle cx="264.6" cy="10.8" r="0.7" stroke-width="0.5" stroke-dasharray="0.4 0.2"/></g><text x="1.9" y="18.2" font-size="2.35" font-weight="700" textLength="100.75" lengthAdjust="spacingAndGlyphs" fill="#fff">Dashboard - Potenzialanalyse: AOP-Katalog 2025 &amp; Hybrid-DRG Katalog 2025/2026 [Beispielklinik]</text><g transform="translate(247.5 17.35) rotate(45) scale(0.45)" fill="#2f1b4b"><rect x="-0.75" y="-2.6" width="1.5" height="3.6" rx="0.2"/><path d="M-0.75 1.3 L0.75 1.3 L0 2.6 Z"/></g><rect x="252.8" y="16.5" width="1.5" height="1.9" rx="0.3" fill="none" stroke="#fff" stroke-width="0.35"/><rect x="257.9" y="16.45" width="2" height="1.9" rx="0.2" fill="#fff"/><g fill="#fff"><circle cx="264.4" cy="16.7" r="0.19"/><circle cx="264.4" cy="17.35" r="0.19"/><circle cx="264.4" cy="18" r="0.19"/></g><rect x="2.9" y="24.25" width="257.8" height="6.3" rx="0.5" fill="#f2f3f5"/><rect x="2.9" y="30.45" width="257.8" height="0.5" fill="#f9c583"/><text x="4.15" y="26.22" font-size="1.3" font-weight="700" fill="#f7941d">Klinik</text><text x="4.15" y="29.3" font-size="1.95" textLength="11.8" lengthAdjust="spacingAndGlyphs" fill="#333">Beispielklinik</text><path d="M257.1 27.2l0.8 0.75l0.8-0.75" fill="none" stroke="#555" stroke-width="0.3"/><g fill="#f7a541"><circle cx="263.5" cy="27.65" r="0.19"/><circle cx="263.5" cy="28.3" r="0.19"/><circle cx="263.5" cy="28.95" r="0.19"/></g><line x1="2.9" y1="39" x2="259" y2="39" stroke="#e9e9e9" stroke-width="0.3"/><g transform="translate(263.3 39.4) rotate(45) scale(0.5)" fill="#f7941d"><rect x="-0.75" y="-2.6" width="1.5" height="3.6" rx="0.2"/><path d="M-0.75 1.3 L0.75 1.3 L0 2.6 Z"/></g><text x="4.15" y="47.49" font-size="2.75" textLength="26.5" lengthAdjust="spacingAndGlyphs" fill="#222" stroke="#222" stroke-width="0.04" stroke-linejoin="round">AOP (Reiter) Potenzial</text><text x="35.4" y="56.2" font-size="6.4" text-anchor="middle" textLength="14.41" lengthAdjust="spacingAndGlyphs" fill="#222" stroke="#222" stroke-width="0.12" stroke-linejoin="round">1.871</text><text x="35.4" y="61.15" font-size="2.5" text-anchor="middle" font-weight="700" textLength="8.44" lengthAdjust="spacingAndGlyphs" fill="#222">Fallzahl</text><path d="M57.65 47.3v-1.2l1.15-0.95l1.15 0.95v1.2z" fill="#f7a541"/><g fill="#f7a541" opacity="0.7"><circle cx="64.4" cy="45.95" r="0.19"/><circle cx="64.4" cy="46.6" r="0.19"/><circle cx="64.4" cy="47.25" r="0.19"/></g><text x="70" y="47.49" font-size="2.75" textLength="25.8" lengthAdjust="spacingAndGlyphs" fill="#222" stroke="#222" stroke-width="0.04" stroke-linejoin="round">H-DRG (Katalog 2025)</text><text x="101.3" y="56.2" font-size="6.4" text-anchor="middle" textLength="9.61" lengthAdjust="spacingAndGlyphs" fill="#222" stroke="#222" stroke-width="0.12" stroke-linejoin="round">340</text><text x="101.3" y="61.15" font-size="2.5" text-anchor="middle" font-weight="700" textLength="8.44" lengthAdjust="spacingAndGlyphs" fill="#222">Fallzahl</text><path d="M123.35 47.3v-1.2l1.15-0.95l1.15 0.95v1.2z" fill="#f7a541"/><g fill="#f7a541" opacity="0.7"><circle cx="130.1" cy="45.95" r="0.19"/><circle cx="130.1" cy="46.6" r="0.19"/><circle cx="130.1" cy="47.25" r="0.19"/></g><text x="136" y="47.49" font-size="2.75" textLength="25.8" lengthAdjust="spacingAndGlyphs" fill="#222" stroke="#222" stroke-width="0.04" stroke-linejoin="round">H-DRG (Katalog 2026)</text><text x="167.2" y="56.2" font-size="6.4" text-anchor="middle" textLength="14.41" lengthAdjust="spacingAndGlyphs" fill="#222" stroke="#222" stroke-width="0.12" stroke-linejoin="round">1.234</text><text x="167.2" y="61.15" font-size="2.5" text-anchor="middle" font-weight="700" textLength="8.44" lengthAdjust="spacingAndGlyphs" fill="#222">Fallzahl</text><path d="M189.75 47.3v-1.2l1.15-0.95l1.15 0.95v1.2z" fill="#f7a541"/><g fill="#f7a541" opacity="0.7"><circle cx="196.3" cy="45.95" r="0.19"/><circle cx="196.3" cy="46.6" r="0.19"/><circle cx="196.3" cy="47.25" r="0.19"/></g><text x="201.95" y="47.49" font-size="2.75" textLength="35.25" lengthAdjust="spacingAndGlyphs" fill="#222" stroke="#222" stroke-width="0.04" stroke-linejoin="round">H-DRG Potenzial (Erweit. Kat.)</text><text x="233.1" y="56.2" font-size="6.4" text-anchor="middle" textLength="14.41" lengthAdjust="spacingAndGlyphs" fill="#222" stroke="#222" stroke-width="0.12" stroke-linejoin="round">2.005</text><text x="233.1" y="61.15" font-size="2.5" text-anchor="middle" font-weight="700" textLength="8.44" lengthAdjust="spacingAndGlyphs" fill="#222">Fallzahl</text><path d="M255.55 47.3v-1.2l1.15-0.95l1.15 0.95v1.2z" fill="#f7a541"/><g fill="#f7a541" opacity="0.7"><circle cx="261.8" cy="45.95" r="0.19"/><circle cx="261.8" cy="46.6" r="0.19"/><circle cx="261.8" cy="47.25" r="0.19"/></g><line x1="2.9" y1="75.5" x2="259" y2="75.5" stroke="#e9e9e9" stroke-width="0.3"/><g transform="translate(263.3 75.8) rotate(45) scale(0.5)" fill="#f7941d"><rect x="-0.75" y="-2.6" width="1.5" height="3.6" rx="0.2"/><path d="M-0.75 1.3 L0.75 1.3 L0 2.6 Z"/></g><line x1="2.9" y1="111.5" x2="259" y2="111.5" stroke="#e9e9e9" stroke-width="0.3"/><g transform="translate(263.3 111.8) rotate(45) scale(0.5)" fill="#f7941d"><rect x="-0.75" y="-2.6" width="1.5" height="3.6" rx="0.2"/><path d="M-0.75 1.3 L0.75 1.3 L0 2.6 Z"/></g><line x1="2.9" y1="147.75" x2="259" y2="147.75" stroke="#e9e9e9" stroke-width="0.3"/><g transform="translate(263.3 148) rotate(45) scale(0.5)" fill="#f7941d"><rect x="-0.75" y="-2.6" width="1.5" height="3.6" rx="0.2"/><path d="M-0.75 1.3 L0.75 1.3 L0 2.6 Z"/></g><text x="4.15" y="83.74" font-size="2.75" textLength="23.3" lengthAdjust="spacingAndGlyphs" fill="#222" stroke="#222" stroke-width="0.04" stroke-linejoin="round">Fallzahlentwicklung</text><g fill="#f7a541" opacity="0.8"><circle cx="86.3" cy="82.1" r="0.19"/><circle cx="86.3" cy="82.75" r="0.19"/><circle cx="86.3" cy="83.4" r="0.19"/></g><rect x="37.9" y="87.2" width="5" height="1.2" rx="0.3" fill="#1d5c7e"/><text x="43.75" y="88.34" font-size="1.5" fill="#777">Fallzahlentwicklung</text><line x1="7.6" y1="89.3" x2="90.65" y2="89.3" stroke="#e8e8e8" stroke-width="0.25"/><text x="7.1" y="89.84" font-size="1.5" text-anchor="end" fill="#777">25.000</text><line x1="7.6" y1="91.59" x2="90.65" y2="91.59" stroke="#e8e8e8" stroke-width="0.25"/><text x="7.1" y="92.13" font-size="1.5" text-anchor="end" fill="#777">20.000</text><line x1="7.6" y1="93.88" x2="90.65" y2="93.88" stroke="#e8e8e8" stroke-width="0.25"/><text x="7.1" y="94.42" font-size="1.5" text-anchor="end" fill="#777">15.000</text><line x1="7.6" y1="96.17" x2="90.65" y2="96.17" stroke="#e8e8e8" stroke-width="0.25"/><text x="7.1" y="96.71" font-size="1.5" text-anchor="end" fill="#777">10.000</text><line x1="7.6" y1="98.46" x2="90.65" y2="98.46" stroke="#e8e8e8" stroke-width="0.25"/><text x="7.1" y="99" font-size="1.5" text-anchor="end" fill="#777">5.000</text><line x1="7.6" y1="100.75" x2="90.65" y2="100.75" stroke="#e8e8e8" stroke-width="0.25"/><text x="7.1" y="101.29" font-size="1.5" text-anchor="end" fill="#777">0</text><line x1="9.43" y1="89.3" x2="9.43" y2="101.55" stroke="#eeeeee" stroke-width="0.25"/><rect x="10.8" y="92.15" width="6.25" height="8.6" fill="#1d5c7e"/><text x="13.93" y="103.46" font-size="1.7" text-anchor="middle" fill="#777">2017</text><line x1="18.43" y1="89.3" x2="18.43" y2="101.55" stroke="#eeeeee" stroke-width="0.25"/><rect x="19.8" y="91.5" width="6.25" height="9.25" fill="#1d5c7e"/><text x="22.93" y="103.46" font-size="1.7" text-anchor="middle" fill="#777">2018</text><line x1="27.43" y1="89.3" x2="27.43" y2="101.55" stroke="#eeeeee" stroke-width="0.25"/><rect x="28.8" y="91.25" width="6.25" height="9.5" fill="#1d5c7e"/><text x="31.93" y="103.46" font-size="1.7" text-anchor="middle" fill="#777">2019</text><line x1="36.42" y1="89.3" x2="36.42" y2="101.55" stroke="#eeeeee" stroke-width="0.25"/><rect x="37.8" y="92.35" width="6.25" height="8.4" fill="#1d5c7e"/><text x="40.92" y="103.46" font-size="1.7" text-anchor="middle" fill="#777">2020</text><line x1="45.42" y1="89.3" x2="45.42" y2="101.55" stroke="#eeeeee" stroke-width="0.25"/><rect x="46.8" y="92.35" width="6.25" height="8.4" fill="#1d5c7e"/><text x="49.92" y="103.46" font-size="1.7" text-anchor="middle" fill="#777">2021</text><line x1="54.42" y1="89.3" x2="54.42" y2="101.55" stroke="#eeeeee" stroke-width="0.25"/><rect x="55.8" y="93.15" width="6.25" height="7.6" fill="#1d5c7e"/><text x="58.92" y="103.46" font-size="1.7" text-anchor="middle" fill="#777">2022</text><line x1="63.42" y1="89.3" x2="63.42" y2="101.55" stroke="#eeeeee" stroke-width="0.25"/><rect x="64.8" y="93" width="6.25" height="7.75" fill="#1d5c7e"/><text x="67.92" y="103.46" font-size="1.7" text-anchor="middle" fill="#777">2023</text><line x1="72.42" y1="89.3" x2="72.42" y2="101.55" stroke="#eeeeee" stroke-width="0.25"/><rect x="73.8" y="93.25" width="6.25" height="7.5" fill="#1d5c7e"/><text x="76.92" y="103.46" font-size="1.7" text-anchor="middle" fill="#777">2024</text><line x1="81.42" y1="89.3" x2="81.42" y2="101.55" stroke="#eeeeee" stroke-width="0.25"/><rect x="82.8" y="96.5" width="6.25" height="4.25" fill="#1d5c7e"/><text x="85.92" y="103.46" font-size="1.7" text-anchor="middle" fill="#777">2025</text><text x="91.9" y="83.74" font-size="2.75" textLength="20.4" lengthAdjust="spacingAndGlyphs" fill="#222" stroke="#222" stroke-width="0.04" stroke-linejoin="round">CMP Entwicklung</text><g fill="#f7a541" opacity="0.8"><circle cx="174.05" cy="82.1" r="0.19"/><circle cx="174.05" cy="82.75" r="0.19"/><circle cx="174.05" cy="83.4" r="0.19"/></g><rect x="125.65" y="87.2" width="5" height="1.2" rx="0.3" fill="#1d5c7e"/><text x="131.5" y="88.34" font-size="1.5" fill="#777">CMP Entwicklung</text><line x1="95.6" y1="89.3" x2="177.53" y2="89.3" stroke="#e8e8e8" stroke-width="0.25"/><text x="95.1" y="89.84" font-size="1.5" text-anchor="end" fill="#777">25.000</text><line x1="95.6" y1="91.59" x2="177.53" y2="91.59" stroke="#e8e8e8" stroke-width="0.25"/><text x="95.1" y="92.13" font-size="1.5" text-anchor="end" fill="#777">20.000</text><line x1="95.6" y1="93.88" x2="177.53" y2="93.88" stroke="#e8e8e8" stroke-width="0.25"/><text x="95.1" y="94.42" font-size="1.5" text-anchor="end" fill="#777">15.000</text><line x1="95.6" y1="96.17" x2="177.53" y2="96.17" stroke="#e8e8e8" stroke-width="0.25"/><text x="95.1" y="96.71" font-size="1.5" text-anchor="end" fill="#777">10.000</text><line x1="95.6" y1="98.46" x2="177.53" y2="98.46" stroke="#e8e8e8" stroke-width="0.25"/><text x="95.1" y="99" font-size="1.5" text-anchor="end" fill="#777">5.000</text><line x1="95.6" y1="100.75" x2="177.53" y2="100.75" stroke="#e8e8e8" stroke-width="0.25"/><text x="95.1" y="101.29" font-size="1.5" text-anchor="end" fill="#777">0</text><line x1="97.5" y1="89.3" x2="97.5" y2="101.55" stroke="#eeeeee" stroke-width="0.25"/><rect x="98.8" y="91.1" width="6.25" height="9.65" fill="#1d5c7e"/><text x="101.92" y="103.46" font-size="1.7" text-anchor="middle" fill="#777">2017</text><line x1="106.35" y1="89.3" x2="106.35" y2="101.55" stroke="#eeeeee" stroke-width="0.25"/><rect x="107.66" y="90.6" width="6.25" height="10.15" fill="#1d5c7e"/><text x="110.78" y="103.46" font-size="1.7" text-anchor="middle" fill="#777">2018</text><line x1="115.22" y1="89.3" x2="115.22" y2="101.55" stroke="#eeeeee" stroke-width="0.25"/><rect x="116.52" y="90.5" width="6.25" height="10.25" fill="#1d5c7e"/><text x="119.64" y="103.46" font-size="1.7" text-anchor="middle" fill="#777">2019</text><line x1="124.07" y1="89.3" x2="124.07" y2="101.55" stroke="#eeeeee" stroke-width="0.25"/><rect x="125.38" y="92.2" width="6.25" height="8.55" fill="#1d5c7e"/><text x="128.5" y="103.46" font-size="1.7" text-anchor="middle" fill="#777">2020</text><line x1="132.94" y1="89.3" x2="132.94" y2="101.55" stroke="#eeeeee" stroke-width="0.25"/><rect x="134.24" y="92.4" width="6.25" height="8.35" fill="#1d5c7e"/><text x="137.37" y="103.46" font-size="1.7" text-anchor="middle" fill="#777">2021</text><line x1="141.79" y1="89.3" x2="141.79" y2="101.55" stroke="#eeeeee" stroke-width="0.25"/><rect x="143.1" y="92.8" width="6.25" height="7.95" fill="#1d5c7e"/><text x="146.22" y="103.46" font-size="1.7" text-anchor="middle" fill="#777">2022</text><line x1="150.65" y1="89.3" x2="150.65" y2="101.55" stroke="#eeeeee" stroke-width="0.25"/><rect x="151.96" y="92.8" width="6.25" height="7.95" fill="#1d5c7e"/><text x="155.08" y="103.46" font-size="1.7" text-anchor="middle" fill="#777">2023</text><line x1="159.51" y1="89.3" x2="159.51" y2="101.55" stroke="#eeeeee" stroke-width="0.25"/><rect x="160.82" y="93.1" width="6.25" height="7.65" fill="#1d5c7e"/><text x="163.94" y="103.46" font-size="1.7" text-anchor="middle" fill="#777">2024</text><line x1="168.38" y1="89.3" x2="168.38" y2="101.55" stroke="#eeeeee" stroke-width="0.25"/><rect x="169.68" y="96.65" width="6.25" height="4.1" fill="#1d5c7e"/><text x="172.81" y="103.46" font-size="1.7" text-anchor="middle" fill="#777">2025</text><text x="179.65" y="83.74" font-size="2.75" textLength="21.5" lengthAdjust="spacingAndGlyphs" fill="#222" stroke="#222" stroke-width="0.04" stroke-linejoin="round">CMI Entwicklung</text><g fill="#f7a541" opacity="0.8"><circle cx="261.8" cy="82.1" r="0.19"/><circle cx="261.8" cy="82.75" r="0.19"/><circle cx="261.8" cy="83.4" r="0.19"/></g><rect x="213.4" y="87.2" width="5" height="1.2" rx="0.3" fill="#1d5c7e"/><text x="219.25" y="88.34" font-size="1.5" fill="#777">CMI Entwicklung</text><line x1="181.3" y1="89.3" x2="264.57" y2="89.3" stroke="#e8e8e8" stroke-width="0.25"/><text x="180.8" y="89.84" font-size="1.5" text-anchor="end" fill="#777">1,0</text><line x1="181.3" y1="91.52" x2="264.57" y2="91.52" stroke="#e8e8e8" stroke-width="0.25"/><text x="180.8" y="92.06" font-size="1.5" text-anchor="end" fill="#777">0,8</text><line x1="181.3" y1="93.74" x2="264.57" y2="93.74" stroke="#e8e8e8" stroke-width="0.25"/><text x="180.8" y="94.28" font-size="1.5" text-anchor="end" fill="#777">0,6</text><line x1="181.3" y1="95.96" x2="264.57" y2="95.96" stroke="#e8e8e8" stroke-width="0.25"/><text x="180.8" y="96.5" font-size="1.5" text-anchor="end" fill="#777">0,4</text><line x1="181.3" y1="98.18" x2="264.57" y2="98.18" stroke="#e8e8e8" stroke-width="0.25"/><text x="180.8" y="98.72" font-size="1.5" text-anchor="end" fill="#777">0,2</text><line x1="181.3" y1="100.4" x2="264.57" y2="100.4" stroke="#e8e8e8" stroke-width="0.25"/><text x="180.8" y="100.94" font-size="1.5" text-anchor="end" fill="#777">0</text><line x1="183.06" y1="89.3" x2="183.06" y2="101.2" stroke="#eeeeee" stroke-width="0.25"/><rect x="184.5" y="90.2" width="6.15" height="10.2" fill="#1d5c7e"/><text x="187.57" y="103.11" font-size="1.7" text-anchor="middle" fill="#777">2017</text><line x1="192.09" y1="89.3" x2="192.09" y2="101.2" stroke="#eeeeee" stroke-width="0.25"/><rect x="193.54" y="90" width="6.15" height="10.4" fill="#1d5c7e"/><text x="196.61" y="103.11" font-size="1.7" text-anchor="middle" fill="#777">2018</text><line x1="201.13" y1="89.3" x2="201.13" y2="101.2" stroke="#eeeeee" stroke-width="0.25"/><rect x="202.58" y="90" width="6.15" height="10.4" fill="#1d5c7e"/><text x="205.65" y="103.11" font-size="1.7" text-anchor="middle" fill="#777">2019</text><line x1="210.18" y1="89.3" x2="210.18" y2="101.2" stroke="#eeeeee" stroke-width="0.25"/><rect x="211.62" y="91.7" width="6.15" height="8.7" fill="#1d5c7e"/><text x="214.69" y="103.11" font-size="1.7" text-anchor="middle" fill="#777">2020</text><line x1="219.22" y1="89.3" x2="219.22" y2="101.2" stroke="#eeeeee" stroke-width="0.25"/><rect x="220.66" y="92" width="6.15" height="8.4" fill="#1d5c7e"/><text x="223.73" y="103.11" font-size="1.7" text-anchor="middle" fill="#777">2021</text><line x1="228.25" y1="89.3" x2="228.25" y2="101.2" stroke="#eeeeee" stroke-width="0.25"/><rect x="229.7" y="91.6" width="6.15" height="8.8" fill="#1d5c7e"/><text x="232.77" y="103.11" font-size="1.7" text-anchor="middle" fill="#777">2022</text><line x1="237.3" y1="89.3" x2="237.3" y2="101.2" stroke="#eeeeee" stroke-width="0.25"/><rect x="238.74" y="91.7" width="6.15" height="8.7" fill="#1d5c7e"/><text x="241.81" y="103.11" font-size="1.7" text-anchor="middle" fill="#777">2023</text><line x1="246.34" y1="89.3" x2="246.34" y2="101.2" stroke="#eeeeee" stroke-width="0.25"/><rect x="247.78" y="91.2" width="6.15" height="9.2" fill="#1d5c7e"/><text x="250.85" y="103.11" font-size="1.7" text-anchor="middle" fill="#777">2024</text><line x1="255.38" y1="89.3" x2="255.38" y2="101.2" stroke="#eeeeee" stroke-width="0.25"/><rect x="256.82" y="91.7" width="6.15" height="8.7" fill="#1d5c7e"/><text x="259.89" y="103.11" font-size="1.7" text-anchor="middle" fill="#777">2025</text><text x="4.15" y="119.74" font-size="2.75" textLength="23.5" lengthAdjust="spacingAndGlyphs" fill="#222" stroke="#222" stroke-width="0.04" stroke-linejoin="round">Ø VWD Entwicklung</text><g fill="#f7a541" opacity="0.8"><circle cx="86.3" cy="118.1" r="0.19"/><circle cx="86.3" cy="118.75" r="0.19"/><circle cx="86.3" cy="119.4" r="0.19"/></g><rect x="37.9" y="123.2" width="5" height="1.2" rx="0.3" fill="#1d5c7e"/><text x="43.75" y="124.34" font-size="1.5" fill="#777">Ø VWD Entwicklung</text><line x1="4.45" y1="125.5" x2="89.75" y2="125.5" stroke="#e8e8e8" stroke-width="0.25"/><text x="3.95" y="126.04" font-size="1.5" text-anchor="end" fill="#777">8</text><line x1="4.45" y1="127.77" x2="89.75" y2="127.77" stroke="#e8e8e8" stroke-width="0.25"/><text x="3.95" y="128.31" font-size="1.5" text-anchor="end" fill="#777">6</text><line x1="4.45" y1="130.04" x2="89.75" y2="130.04" stroke="#e8e8e8" stroke-width="0.25"/><text x="3.95" y="130.58" font-size="1.5" text-anchor="end" fill="#777">5</text><line x1="4.45" y1="132.31" x2="89.75" y2="132.31" stroke="#e8e8e8" stroke-width="0.25"/><text x="3.95" y="132.85" font-size="1.5" text-anchor="end" fill="#777">3</text><line x1="4.45" y1="134.58" x2="89.75" y2="134.58" stroke="#e8e8e8" stroke-width="0.25"/><text x="3.95" y="135.12" font-size="1.5" text-anchor="end" fill="#777">2</text><line x1="4.45" y1="136.85" x2="89.75" y2="136.85" stroke="#e8e8e8" stroke-width="0.25"/><text x="3.95" y="137.39" font-size="1.5" text-anchor="end" fill="#777">0</text><line x1="6.28" y1="125.5" x2="6.28" y2="137.65" stroke="#eeeeee" stroke-width="0.25"/><rect x="7.65" y="128.1" width="6.5" height="8.75" fill="#1d5c7e"/><text x="10.9" y="139.56" font-size="1.7" text-anchor="middle" fill="#777">2017</text><line x1="15.52" y1="125.5" x2="15.52" y2="137.65" stroke="#eeeeee" stroke-width="0.25"/><rect x="16.9" y="128.4" width="6.5" height="8.45" fill="#1d5c7e"/><text x="20.15" y="139.56" font-size="1.7" text-anchor="middle" fill="#777">2018</text><line x1="24.77" y1="125.5" x2="24.77" y2="137.65" stroke="#eeeeee" stroke-width="0.25"/><rect x="26.15" y="128.4" width="6.5" height="8.45" fill="#1d5c7e"/><text x="29.4" y="139.56" font-size="1.7" text-anchor="middle" fill="#777">2019</text><line x1="34.02" y1="125.5" x2="34.02" y2="137.65" stroke="#eeeeee" stroke-width="0.25"/><rect x="35.4" y="128.4" width="6.5" height="8.45" fill="#1d5c7e"/><text x="38.65" y="139.56" font-size="1.7" text-anchor="middle" fill="#777">2020</text><line x1="43.27" y1="125.5" x2="43.27" y2="137.65" stroke="#eeeeee" stroke-width="0.25"/><rect x="44.65" y="128.4" width="6.5" height="8.45" fill="#1d5c7e"/><text x="47.9" y="139.56" font-size="1.7" text-anchor="middle" fill="#777">2021</text><line x1="52.52" y1="125.5" x2="52.52" y2="137.65" stroke="#eeeeee" stroke-width="0.25"/><rect x="53.9" y="127.4" width="6.5" height="9.45" fill="#1d5c7e"/><text x="57.15" y="139.56" font-size="1.7" text-anchor="middle" fill="#777">2022</text><line x1="61.77" y1="125.5" x2="61.77" y2="137.65" stroke="#eeeeee" stroke-width="0.25"/><rect x="63.15" y="128.4" width="6.5" height="8.45" fill="#1d5c7e"/><text x="66.4" y="139.56" font-size="1.7" text-anchor="middle" fill="#777">2023</text><line x1="71.03" y1="125.5" x2="71.03" y2="137.65" stroke="#eeeeee" stroke-width="0.25"/><rect x="72.4" y="128.4" width="6.5" height="8.45" fill="#1d5c7e"/><text x="75.65" y="139.56" font-size="1.7" text-anchor="middle" fill="#777">2024</text><line x1="80.28" y1="125.5" x2="80.28" y2="137.65" stroke="#eeeeee" stroke-width="0.25"/><rect x="81.65" y="129" width="6.5" height="7.85" fill="#1d5c7e"/><text x="84.9" y="139.56" font-size="1.7" text-anchor="middle" fill="#777">2025</text><text x="91.9" y="119.74" font-size="2.75" textLength="27" lengthAdjust="spacingAndGlyphs" fill="#222" stroke="#222" stroke-width="0.04" stroke-linejoin="round">Einweisungsquote in %</text><g fill="#f7a541" opacity="0.8"><circle cx="174.05" cy="118.1" r="0.19"/><circle cx="174.05" cy="118.75" r="0.19"/><circle cx="174.05" cy="119.4" r="0.19"/></g><rect x="125.65" y="123.2" width="5" height="1.2" rx="0.3" fill="#1d5c7e"/><text x="131.5" y="124.34" font-size="1.5" fill="#777">Einweisungsquote in %</text><line x1="94.2" y1="125.5" x2="176.95" y2="125.5" stroke="#e8e8e8" stroke-width="0.25"/><text x="93.7" y="126.04" font-size="1.5" text-anchor="end" fill="#777">100</text><line x1="94.2" y1="127.77" x2="176.95" y2="127.77" stroke="#e8e8e8" stroke-width="0.25"/><text x="93.7" y="128.31" font-size="1.5" text-anchor="end" fill="#777">80</text><line x1="94.2" y1="130.04" x2="176.95" y2="130.04" stroke="#e8e8e8" stroke-width="0.25"/><text x="93.7" y="130.58" font-size="1.5" text-anchor="end" fill="#777">60</text><line x1="94.2" y1="132.31" x2="176.95" y2="132.31" stroke="#e8e8e8" stroke-width="0.25"/><text x="93.7" y="132.85" font-size="1.5" text-anchor="end" fill="#777">40</text><line x1="94.2" y1="134.58" x2="176.95" y2="134.58" stroke="#e8e8e8" stroke-width="0.25"/><text x="93.7" y="135.12" font-size="1.5" text-anchor="end" fill="#777">20</text><line x1="94.2" y1="136.85" x2="176.95" y2="136.85" stroke="#e8e8e8" stroke-width="0.25"/><text x="93.7" y="137.39" font-size="1.5" text-anchor="end" fill="#777">0</text><line x1="96.1" y1="125.5" x2="96.1" y2="137.65" stroke="#eeeeee" stroke-width="0.25"/><rect x="97.4" y="132.4" width="6.35" height="4.45" fill="#1d5c7e"/><text x="100.58" y="139.56" font-size="1.7" text-anchor="middle" fill="#777">2017</text><line x1="105.05" y1="125.5" x2="105.05" y2="137.65" stroke="#eeeeee" stroke-width="0.25"/><rect x="106.35" y="132.4" width="6.35" height="4.45" fill="#1d5c7e"/><text x="109.53" y="139.56" font-size="1.7" text-anchor="middle" fill="#777">2018</text><line x1="114" y1="125.5" x2="114" y2="137.65" stroke="#eeeeee" stroke-width="0.25"/><rect x="115.3" y="132.1" width="6.35" height="4.75" fill="#1d5c7e"/><text x="118.48" y="139.56" font-size="1.7" text-anchor="middle" fill="#777">2019</text><line x1="122.95" y1="125.5" x2="122.95" y2="137.65" stroke="#eeeeee" stroke-width="0.25"/><rect x="124.25" y="132.4" width="6.35" height="4.45" fill="#1d5c7e"/><text x="127.42" y="139.56" font-size="1.7" text-anchor="middle" fill="#777">2020</text><line x1="131.9" y1="125.5" x2="131.9" y2="137.65" stroke="#eeeeee" stroke-width="0.25"/><rect x="133.2" y="132.3" width="6.35" height="4.55" fill="#1d5c7e"/><text x="136.38" y="139.56" font-size="1.7" text-anchor="middle" fill="#777">2021</text><line x1="140.85" y1="125.5" x2="140.85" y2="137.65" stroke="#eeeeee" stroke-width="0.25"/><rect x="142.15" y="132" width="6.35" height="4.85" fill="#1d5c7e"/><text x="145.33" y="139.56" font-size="1.7" text-anchor="middle" fill="#777">2022</text><line x1="149.8" y1="125.5" x2="149.8" y2="137.65" stroke="#eeeeee" stroke-width="0.25"/><rect x="151.1" y="131.8" width="6.35" height="5.05" fill="#1d5c7e"/><text x="154.28" y="139.56" font-size="1.7" text-anchor="middle" fill="#777">2023</text><line x1="158.75" y1="125.5" x2="158.75" y2="137.65" stroke="#eeeeee" stroke-width="0.25"/><rect x="160.05" y="131.9" width="6.35" height="4.95" fill="#1d5c7e"/><text x="163.23" y="139.56" font-size="1.7" text-anchor="middle" fill="#777">2024</text><line x1="167.7" y1="125.5" x2="167.7" y2="137.65" stroke="#eeeeee" stroke-width="0.25"/><rect x="169" y="132.3" width="6.35" height="4.55" fill="#1d5c7e"/><text x="172.18" y="139.56" font-size="1.7" text-anchor="middle" fill="#777">2025</text><text x="179.65" y="119.74" font-size="2.75" textLength="31" lengthAdjust="spacingAndGlyphs" fill="#222" stroke="#222" stroke-width="0.04" stroke-linejoin="round">Anteil Privatpatienten in %</text><g fill="#f7a541" opacity="0.8"><circle cx="261.8" cy="118.1" r="0.19"/><circle cx="261.8" cy="118.75" r="0.19"/><circle cx="261.8" cy="119.4" r="0.19"/></g><rect x="209.4" y="123.2" width="5" height="1.2" rx="0.3" fill="#1d5c7e"/><text x="215.25" y="124.34" font-size="1.5" fill="#777">Anteil Privatpatienten in %</text><line x1="181.3" y1="125.5" x2="265.12" y2="125.5" stroke="#e8e8e8" stroke-width="0.25"/><text x="180.8" y="126.04" font-size="1.5" text-anchor="end" fill="#777">100</text><line x1="181.3" y1="127.77" x2="265.12" y2="127.77" stroke="#e8e8e8" stroke-width="0.25"/><text x="180.8" y="128.31" font-size="1.5" text-anchor="end" fill="#777">80</text><line x1="181.3" y1="130.04" x2="265.12" y2="130.04" stroke="#e8e8e8" stroke-width="0.25"/><text x="180.8" y="130.58" font-size="1.5" text-anchor="end" fill="#777">60</text><line x1="181.3" y1="132.31" x2="265.12" y2="132.31" stroke="#e8e8e8" stroke-width="0.25"/><text x="180.8" y="132.85" font-size="1.5" text-anchor="end" fill="#777">40</text><line x1="181.3" y1="134.58" x2="265.12" y2="134.58" stroke="#e8e8e8" stroke-width="0.25"/><text x="180.8" y="135.12" font-size="1.5" text-anchor="end" fill="#777">20</text><line x1="181.3" y1="136.85" x2="265.12" y2="136.85" stroke="#e8e8e8" stroke-width="0.25"/><text x="180.8" y="137.39" font-size="1.5" text-anchor="end" fill="#777">0</text><line x1="183.33" y1="125.5" x2="183.33" y2="137.65" stroke="#eeeeee" stroke-width="0.25"/><rect x="184.5" y="136" width="6.7" height="0.85" fill="#1d5c7e"/><text x="187.85" y="139.56" font-size="1.7" text-anchor="middle" fill="#777">2017</text><line x1="192.37" y1="125.5" x2="192.37" y2="137.65" stroke="#eeeeee" stroke-width="0.25"/><rect x="193.54" y="136" width="6.7" height="0.85" fill="#1d5c7e"/><text x="196.89" y="139.56" font-size="1.7" text-anchor="middle" fill="#777">2018</text><line x1="201.41" y1="125.5" x2="201.41" y2="137.65" stroke="#eeeeee" stroke-width="0.25"/><rect x="202.58" y="136" width="6.7" height="0.85" fill="#1d5c7e"/><text x="205.93" y="139.56" font-size="1.7" text-anchor="middle" fill="#777">2019</text><line x1="210.45" y1="125.5" x2="210.45" y2="137.65" stroke="#eeeeee" stroke-width="0.25"/><rect x="211.62" y="136" width="6.7" height="0.85" fill="#1d5c7e"/><text x="214.97" y="139.56" font-size="1.7" text-anchor="middle" fill="#777">2020</text><line x1="219.49" y1="125.5" x2="219.49" y2="137.65" stroke="#eeeeee" stroke-width="0.25"/><rect x="220.66" y="136" width="6.7" height="0.85" fill="#1d5c7e"/><text x="224.01" y="139.56" font-size="1.7" text-anchor="middle" fill="#777">2021</text><line x1="228.53" y1="125.5" x2="228.53" y2="137.65" stroke="#eeeeee" stroke-width="0.25"/><rect x="229.7" y="136" width="6.7" height="0.85" fill="#1d5c7e"/><text x="233.05" y="139.56" font-size="1.7" text-anchor="middle" fill="#777">2022</text><line x1="237.57" y1="125.5" x2="237.57" y2="137.65" stroke="#eeeeee" stroke-width="0.25"/><rect x="238.74" y="136" width="6.7" height="0.85" fill="#1d5c7e"/><text x="242.09" y="139.56" font-size="1.7" text-anchor="middle" fill="#777">2023</text><line x1="246.61" y1="125.5" x2="246.61" y2="137.65" stroke="#eeeeee" stroke-width="0.25"/><rect x="247.78" y="135.9" width="6.7" height="0.95" fill="#1d5c7e"/><text x="251.13" y="139.56" font-size="1.7" text-anchor="middle" fill="#777">2024</text><line x1="255.65" y1="125.5" x2="255.65" y2="137.65" stroke="#eeeeee" stroke-width="0.25"/><rect x="256.82" y="136" width="6.7" height="0.85" fill="#1d5c7e"/><text x="260.17" y="139.56" font-size="1.7" text-anchor="middle" fill="#777">2025</text><text x="4.15" y="155.84" font-size="2.75" textLength="36.5" lengthAdjust="spacingAndGlyphs" fill="#222" stroke="#222" stroke-width="0.04" stroke-linejoin="round">Fallzahlentwicklung pro Monat</text><g fill="#f7a541" opacity="0.7"><circle cx="262" cy="153.85" r="0.19"/><circle cx="262" cy="154.5" r="0.19"/><circle cx="262" cy="155.15" r="0.19"/></g><rect x="124.15" y="159.3" width="5" height="1.2" rx="0.3" fill="#1d5c7e"/><text x="130" y="160.44" font-size="1.5" fill="#777">Fallzahl</text><line x1="9" y1="161.3" x2="262.5" y2="161.3" stroke="#ececec" stroke-width="0.25"/><text x="8.3" y="161.84" font-size="1.5" text-anchor="end" fill="#777">2.000</text><line x1="9" y1="165" x2="262.5" y2="165" stroke="#ececec" stroke-width="0.25"/><text x="8.3" y="165.54" font-size="1.5" text-anchor="end" fill="#777">1.000</text><line x1="9" y1="168.7" x2="262.5" y2="168.7" stroke="#ececec" stroke-width="0.25"/><text x="8.3" y="169.24" font-size="1.5" text-anchor="end" fill="#777">0</text><line x1="10.5" y1="160.5" x2="10.5" y2="169.5" stroke="#f0f0f0" stroke-width="0.25"/><line x1="20.27" y1="160.5" x2="20.27" y2="169.5" stroke="#f0f0f0" stroke-width="0.25"/><line x1="30.03" y1="160.5" x2="30.03" y2="169.5" stroke="#f0f0f0" stroke-width="0.25"/><line x1="39.8" y1="160.5" x2="39.8" y2="169.5" stroke="#f0f0f0" stroke-width="0.25"/><line x1="49.57" y1="160.5" x2="49.57" y2="169.5" stroke="#f0f0f0" stroke-width="0.25"/><line x1="59.33" y1="160.5" x2="59.33" y2="169.5" stroke="#f0f0f0" stroke-width="0.25"/><line x1="69.1" y1="160.5" x2="69.1" y2="169.5" stroke="#f0f0f0" stroke-width="0.25"/><line x1="78.87" y1="160.5" x2="78.87" y2="169.5" stroke="#f0f0f0" stroke-width="0.25"/><line x1="88.64" y1="160.5" x2="88.64" y2="169.5" stroke="#f0f0f0" stroke-width="0.25"/><line x1="98.4" y1="160.5" x2="98.4" y2="169.5" stroke="#f0f0f0" stroke-width="0.25"/><line x1="108.17" y1="160.5" x2="108.17" y2="169.5" stroke="#f0f0f0" stroke-width="0.25"/><line x1="117.94" y1="160.5" x2="117.94" y2="169.5" stroke="#f0f0f0" stroke-width="0.25"/><line x1="127.7" y1="160.5" x2="127.7" y2="169.5" stroke="#f0f0f0" stroke-width="0.25"/><line x1="137.47" y1="160.5" x2="137.47" y2="169.5" stroke="#f0f0f0" stroke-width="0.25"/><line x1="147.24" y1="160.5" x2="147.24" y2="169.5" stroke="#f0f0f0" stroke-width="0.25"/><line x1="157" y1="160.5" x2="157" y2="169.5" stroke="#f0f0f0" stroke-width="0.25"/><line x1="166.77" y1="160.5" x2="166.77" y2="169.5" stroke="#f0f0f0" stroke-width="0.25"/><line x1="176.54" y1="160.5" x2="176.54" y2="169.5" stroke="#f0f0f0" stroke-width="0.25"/><line x1="186.31" y1="160.5" x2="186.31" y2="169.5" stroke="#f0f0f0" stroke-width="0.25"/><line x1="196.07" y1="160.5" x2="196.07" y2="169.5" stroke="#f0f0f0" stroke-width="0.25"/><line x1="205.84" y1="160.5" x2="205.84" y2="169.5" stroke="#f0f0f0" stroke-width="0.25"/><line x1="215.61" y1="160.5" x2="215.61" y2="169.5" stroke="#f0f0f0" stroke-width="0.25"/><line x1="225.37" y1="160.5" x2="225.37" y2="169.5" stroke="#f0f0f0" stroke-width="0.25"/><line x1="235.14" y1="160.5" x2="235.14" y2="169.5" stroke="#f0f0f0" stroke-width="0.25"/><line x1="244.91" y1="160.5" x2="244.91" y2="169.5" stroke="#f0f0f0" stroke-width="0.25"/><line x1="254.67" y1="160.5" x2="254.67" y2="169.5" stroke="#f0f0f0" stroke-width="0.25"/><polyline points="10.5,162.55 12.94,162.79 15.38,162.52 17.83,162.35 20.27,162.62 22.71,162.63 25.15,162.23 27.59,162.19 30.03,162.46 32.48,163.22 34.92,162.91 37.36,162.2 39.8,162.49 42.24,162.29 44.68,162.17 47.13,162.53 49.57,162.7 52.01,162.42 54.45,162.42 56.89,162.75 59.33,162.67 61.78,162.31 64.22,162.39 66.66,162.6 69.1,162.33 71.54,162.05 73.99,162.28 76.43,162.43 78.87,162.13 81.31,162.09 83.75,162.47 86.19,162.53 88.64,162.26 91.08,162.41 93.52,162.76 95.96,162.62 98.4,162.36 100.84,162.57 103.29,162.72 105.73,163.29 108.17,164.05 110.61,163.09 113.05,162.43 115.5,162.07 117.94,162.1 120.38,162.43 122.82,162.34 125.26,162.11 127.7,162.37 130.15,162.67 132.59,162.47 135.03,162.34 137.47,162.67 139.91,162.76 142.35,162.41 144.8,162.36 147.24,162.63 149.68,162.49 152.12,162.11 154.56,162.22 157,162.45 159.45,162.21 161.89,162.02 164.33,162.33 166.77,162.52 169.21,162.27 171.66,162.28 174.1,162.67 176.54,162.69 178.98,162.39 181.42,162.49 183.86,162.76 186.31,162.53 188.75,162.23 191.19,162.41 193.63,162.53 196.07,162.18 198.51,162.04 200.96,162.35 203.4,162.39 205.84,162.09 208.28,162.21 210.72,162.59 213.17,162.51 215.61,162.29 218.05,162.55 220.49,162.8 222.93,162.52 225.37,162.35 227.82,162.61 230.26,162.62 232.7,162.23 235.14,162.18 237.58,162.45 240.02,162.32 242.47,162.01 244.91,162.95 247.35,165.08 249.79,163.88 252.23,162.17 254.67,162.53 257.12,162.71 259.56,162.43 262,162.42" fill="none" stroke="#1d5c7e" stroke-width="0.45" stroke-linejoin="round"/><g fill="#1d5c7e"><circle cx="10.5" cy="162.55" r="0.42"/><circle cx="15.38" cy="162.52" r="0.42"/><circle cx="20.27" cy="162.62" r="0.42"/><circle cx="25.15" cy="162.23" r="0.42"/><circle cx="30.03" cy="162.46" r="0.42"/><circle cx="34.92" cy="162.91" r="0.42"/><circle cx="39.8" cy="162.49" r="0.42"/><circle cx="44.68" cy="162.17" r="0.42"/><circle cx="49.57" cy="162.7" r="0.42"/><circle cx="54.45" cy="162.42" r="0.42"/><circle cx="59.33" cy="162.67" r="0.42"/><circle cx="64.22" cy="162.39" r="0.42"/><circle cx="69.1" cy="162.33" r="0.42"/><circle cx="73.99" cy="162.28" r="0.42"/><circle cx="78.87" cy="162.13" r="0.42"/><circle cx="83.75" cy="162.47" r="0.42"/><circle cx="88.64" cy="162.26" r="0.42"/><circle cx="93.52" cy="162.76" r="0.42"/><circle cx="98.4" cy="162.36" r="0.42"/><circle cx="103.29" cy="162.72" r="0.42"/><circle cx="108.17" cy="164.05" r="0.42"/><circle cx="113.05" cy="162.43" r="0.42"/><circle cx="117.94" cy="162.1" r="0.42"/><circle cx="122.82" cy="162.34" r="0.42"/><circle cx="127.7" cy="162.37" r="0.42"/><circle cx="132.59" cy="162.47" r="0.42"/><circle cx="137.47" cy="162.67" r="0.42"/><circle cx="142.35" cy="162.41" r="0.42"/><circle cx="147.24" cy="162.63" r="0.42"/><circle cx="152.12" cy="162.11" r="0.42"/><circle cx="157" cy="162.45" r="0.42"/><circle cx="161.89" cy="162.02" r="0.42"/><circle cx="166.77" cy="162.52" r="0.42"/><circle cx="171.66" cy="162.28" r="0.42"/><circle cx="176.54" cy="162.69" r="0.42"/><circle cx="181.42" cy="162.49" r="0.42"/><circle cx="186.31" cy="162.53" r="0.42"/><circle cx="191.19" cy="162.41" r="0.42"/><circle cx="196.07" cy="162.18" r="0.42"/><circle cx="200.96" cy="162.35" r="0.42"/><circle cx="205.84" cy="162.09" r="0.42"/><circle cx="210.72" cy="162.59" r="0.42"/><circle cx="215.61" cy="162.29" r="0.42"/><circle cx="220.49" cy="162.8" r="0.42"/><circle cx="225.37" cy="162.35" r="0.42"/><circle cx="230.26" cy="162.62" r="0.42"/><circle cx="235.14" cy="162.18" r="0.42"/><circle cx="240.02" cy="162.32" r="0.42"/><circle cx="244.91" cy="162.95" r="0.42"/><circle cx="249.79" cy="163.88" r="0.42"/><circle cx="254.67" cy="162.53" r="0.42"/><circle cx="259.56" cy="162.43" r="0.42"/></g><text x="94.8" y="171.77" font-size="1.3" font-weight="700" fill="#222">© 2025</text><text x="94.8" y="172.93" font-size="1.2" fill="#999">/ Login /</text><text x="100.6" y="172.46" font-size="1.7" textLength="10.32" lengthAdjust="spacingAndGlyphs" fill="#8a8a8a">BinDoc GmbH</text><text x="112.47" y="172.46" font-size="1.7" textLength="8.98" lengthAdjust="spacingAndGlyphs" fill="#8a8a8a">Datenschutz</text><text x="123" y="172.46" font-size="1.7" textLength="10.86" lengthAdjust="spacingAndGlyphs" fill="#8a8a8a">Dokumentation</text><text x="135.41" y="172.46" font-size="1.7" textLength="7.99" lengthAdjust="spacingAndGlyphs" fill="#8a8a8a">Impressum</text><text x="144.95" y="172.46" font-size="1.7" textLength="15.26" lengthAdjust="spacingAndGlyphs" fill="#8a8a8a">Ambulante Lösungen</text><text x="161.76" y="172.46" font-size="1.7" textLength="15.17" lengthAdjust="spacingAndGlyphs" fill="#8a8a8a">Cookie Einstellungen</text></g></g><g class="notch"><path d="M1078.6 419.4 L1078.6 424.8 A1.7 1.7 0 0 0 1080.3 426.5 L1112.05 426.5 A1.7 1.7 0 0 0 1113.75 424.8 L1113.75 419.4 Z" fill="#050505"/><circle cx="1096.17" cy="422.72" r="0.79" fill="#1c1c1e"/></g></svg>
<svg class="laptop l2" width="1280" height="720" viewBox="0 0 1280 720"><defs><clipPath id="clip_l2"><path d="M170.6 591.5 L170.6 322.9 A5.4 5.4 0 0 1 176 317.5 L587.5 317.5 A5.4 5.4 0 0 1 592.9 322.9 L592.9 591.5 Z"/></clipPath></defs><g class="base"><path d="M156.5 626.4 L190.4 626.4 Q189.8 630.1 186.9 630.1 L160 630.1 Q157.1 630.1 156.5 626.4 Z" fill="url(#gFoot)"/><clipPath id="bclip_l2"><path d="M124.2 607.6 L637.8 607.6 A1.2 1.2 0 0 1 639 608.8 L639 617.5 A10 9.5 0 0 1 629 627 L133 627 A10 9.5 0 0 1 123 617.5 L123 608.8 A1.2 1.2 0 0 1 124.2 607.6 Z"/></clipPath><g clip-path="url(#bclip_l2)"><rect x="123" y="607.6" width="516" height="19.4" fill="url(#gBase)"/><rect x="123" y="607.6" width="16" height="19.4" fill="url(#gCapL)"/><rect x="623" y="607.6" width="16" height="19.4" fill="url(#gCapR)"/><rect x="123" y="607.6" width="516" height="0.7" fill="#e2e3e5" opacity="0.8"/></g></g><g class="lid"><path d="M163.75 607.6 L163.75 322 A11 11 0 0 1 174.75 311 L588.7 311 A11 11 0 0 1 599.7 322 L599.7 607.6 Z" fill="#050505"/><rect x="163.75" y="596" width="435.95" height="11.6" fill="url(#gHinge)"/><line x1="164" y1="593" x2="164" y2="607.6" stroke="#a9aaac" stroke-width="0.9" opacity="0.85"/></g><g clip-path="url(#clip_l2)"><g class="screen" transform="translate(170.6 317.5)"><rect x="-1" y="-1" width="424.3" height="276" fill="#fff"/><g class="kpi"><text x="56" y="42.61" font-size="10.3" text-anchor="middle" textLength="26" lengthAdjust="spacingAndGlyphs" fill="#222" stroke="#222" stroke-width="0.3" stroke-linejoin="round">100 %</text><text x="56" y="51.8" font-size="5" text-anchor="middle" textLength="62.2" lengthAdjust="spacingAndGlyphs" fill="#1a1a1a" stroke="#1a1a1a" stroke-width="0.25" stroke-linejoin="round">Stationäre Fallzahl Status Quo</text></g><g class="kpi"><text x="159" y="42.61" font-size="10.3" text-anchor="middle" textLength="28.8" lengthAdjust="spacingAndGlyphs" fill="#222" stroke="#222" stroke-width="0.3" stroke-linejoin="round">6,79 %</text><text x="159" y="51.8" font-size="5" text-anchor="middle" textLength="57.5" lengthAdjust="spacingAndGlyphs" fill="#1a1a1a" stroke="#1a1a1a" stroke-width="0.25" stroke-linejoin="round">davon Hybrid-DRG-Fallzahl</text></g><g class="kpi"><text x="262.8" y="42.61" font-size="10.3" text-anchor="middle" textLength="29.5" lengthAdjust="spacingAndGlyphs" fill="#222" stroke="#222" stroke-width="0.3" stroke-linejoin="round">4,66 %</text><text x="262.8" y="51.8" font-size="5" text-anchor="middle" textLength="57.5" lengthAdjust="spacingAndGlyphs" fill="#1a1a1a" stroke="#1a1a1a" stroke-width="0.25" stroke-linejoin="round">davon Hybrid-DRG-Umsatz</text></g><g class="kpi"><text x="365.9" y="42.61" font-size="10.3" text-anchor="middle" textLength="26" lengthAdjust="spacingAndGlyphs" fill="#222" stroke="#222" stroke-width="0.3" stroke-linejoin="round">1,81 %</text><text x="365.9" y="51.8" font-size="5" text-anchor="middle" textLength="65" lengthAdjust="spacingAndGlyphs" fill="#1a1a1a" stroke="#1a1a1a" stroke-width="0.25" stroke-linejoin="round">davon Hybrid-DRG-Auslastung</text></g><g fill="#f7a541" opacity="0.8"><circle cx="100.3" cy="24.07" r="0.36"/><circle cx="100.3" cy="25.3" r="0.36"/><circle cx="100.3" cy="26.53" r="0.36"/></g><g fill="#f7a541" opacity="0.8"><circle cx="203.6" cy="24.07" r="0.36"/><circle cx="203.6" cy="25.3" r="0.36"/><circle cx="203.6" cy="26.53" r="0.36"/></g><g fill="#f7a541" opacity="0.8"><circle cx="306.9" cy="24.07" r="0.36"/><circle cx="306.9" cy="25.3" r="0.36"/><circle cx="306.9" cy="26.53" r="0.36"/></g><g fill="#f7a541" opacity="0.8"><circle cx="410.7" cy="24.07" r="0.36"/><circle cx="410.7" cy="25.3" r="0.36"/><circle cx="410.7" cy="26.53" r="0.36"/></g><line x1="4.4" y1="77.25" x2="403.3" y2="77.25" stroke="#ececec" stroke-width="0.45"/><line x1="4.4" y1="193.75" x2="403.3" y2="193.75" stroke="#ececec" stroke-width="0.45"/><g transform="translate(412.3 78.5) rotate(45) scale(0.9)" fill="#f7941d"><rect x="-0.75" y="-2.6" width="1.5" height="3.6" rx="0.2"/><path d="M-0.75 1.3 L0.75 1.3 L0 2.6 Z"/></g><g transform="translate(412.3 194.5) rotate(45) scale(0.9)" fill="#f7941d"><rect x="-0.75" y="-2.6" width="1.5" height="3.6" rx="0.2"/><path d="M-0.75 1.3 L0.75 1.3 L0 2.6 Z"/></g><text x="7.15" y="91.7" font-size="5.15" textLength="90.1" lengthAdjust="spacingAndGlyphs" fill="#1f1f1f" stroke="#1f1f1f" stroke-width="0.16" stroke-linejoin="round">Ambulantes Potenzial Quartile der Kliniken</text><g fill="#f7a541" opacity="0.9"><circle cx="203.6" cy="88.37" r="0.4"/><circle cx="203.6" cy="89.75" r="0.4"/><circle cx="203.6" cy="91.13" r="0.4"/></g><rect x="39.8" y="97.45" width="7.75" height="2.6" fill="#79dbb0"/><text x="48.7" y="99.74" font-size="2.75" textLength="29.6" lengthAdjust="spacingAndGlyphs" fill="#666">davon Hybrid-DRG-Fallzahl</text><rect x="80.4" y="97.45" width="7.75" height="2.6" fill="#a9b8c4"/><text x="89.3" y="99.74" font-size="2.75" textLength="38.1" lengthAdjust="spacingAndGlyphs" fill="#666">davon Hybrid-DRG-Casemixpunkte</text><rect x="129.4" y="97.45" width="7.75" height="2.6" fill="#8fcdf9"/><text x="138.3" y="99.74" font-size="2.75" textLength="37.2" lengthAdjust="spacingAndGlyphs" fill="#666">davon Hybrid-DRG-Belegungstage</text><line x1="11.2" y1="102.1" x2="208.1" y2="102.1" stroke="#e6e6e6" stroke-width="0.35"/><text x="10.4" y="103.04" font-size="2.6" text-anchor="end" fill="#666">40</text><line x1="11.2" y1="111.04" x2="208.1" y2="111.04" stroke="#e6e6e6" stroke-width="0.35"/><text x="10.4" y="111.97" font-size="2.6" text-anchor="end" fill="#666">35</text><line x1="11.2" y1="119.97" x2="208.1" y2="119.97" stroke="#e6e6e6" stroke-width="0.35"/><text x="10.4" y="120.91" font-size="2.6" text-anchor="end" fill="#666">30</text><line x1="11.2" y1="128.91" x2="208.1" y2="128.91" stroke="#e6e6e6" stroke-width="0.35"/><text x="10.4" y="129.85" font-size="2.6" text-anchor="end" fill="#666">25</text><line x1="11.2" y1="137.85" x2="208.1" y2="137.85" stroke="#e6e6e6" stroke-width="0.35"/><text x="10.4" y="138.79" font-size="2.6" text-anchor="end" fill="#666">20</text><line x1="11.2" y1="146.79" x2="208.1" y2="146.79" stroke="#e6e6e6" stroke-width="0.35"/><text x="10.4" y="147.72" font-size="2.6" text-anchor="end" fill="#666">15</text><line x1="11.2" y1="155.72" x2="208.1" y2="155.72" stroke="#e6e6e6" stroke-width="0.35"/><text x="10.4" y="156.66" font-size="2.6" text-anchor="end" fill="#666">10</text><line x1="11.2" y1="164.66" x2="208.1" y2="164.66" stroke="#e6e6e6" stroke-width="0.35"/><text x="10.4" y="165.6" font-size="2.6" text-anchor="end" fill="#666">5</text><line x1="11.2" y1="173.6" x2="208.1" y2="173.6" stroke="#e6e6e6" stroke-width="0.35"/><text x="10.4" y="174.54" font-size="2.6" text-anchor="end" fill="#666">0</text><line x1="12.5" y1="102.1" x2="12.5" y2="174.8" stroke="#e6e6e6" stroke-width="0.35"/><line x1="77.8" y1="102.1" x2="77.8" y2="174.8" stroke="#e6e6e6" stroke-width="0.35"/><line x1="142.9" y1="102.1" x2="142.9" y2="174.8" stroke="#e6e6e6" stroke-width="0.35"/><line x1="208.1" y1="102.1" x2="208.1" y2="174.8" stroke="#e6e6e6" stroke-width="0.35"/><rect x="20.4" y="164.4" width="15.25" height="9.35" fill="#79dbb0"/><rect x="37.5" y="167.5" width="15.9" height="6.25" fill="#a9b8c4"/><rect x="54.8" y="171.5" width="15.85" height="2.25" fill="#8fcdf9"/><rect x="85.4" y="161.5" width="15.5" height="12.25" fill="#79dbb0"/><rect x="102.8" y="164.75" width="15.6" height="9" fill="#a9b8c4"/><rect x="120.3" y="170.5" width="15.6" height="3.25" fill="#8fcdf9"/><rect x="150.4" y="158.5" width="15.9" height="15.25" fill="#79dbb0"/><rect x="168.15" y="161.9" width="15.35" height="11.85" fill="#a9b8c4"/><rect x="185.4" y="169.4" width="15.6" height="4.35" fill="#8fcdf9"/><text x="45.2" y="178.47" font-size="2.7" text-anchor="middle" textLength="16.89" lengthAdjust="spacingAndGlyphs" fill="#666">Unteres Quartil</text><text x="110.4" y="178.47" font-size="2.7" text-anchor="middle" textLength="8.24" lengthAdjust="spacingAndGlyphs" fill="#666">Median</text><text x="175.5" y="178.47" font-size="2.7" text-anchor="middle" textLength="16.33" lengthAdjust="spacingAndGlyphs" fill="#666">Oberes Quartil</text><text x="7.15" y="207.75" font-size="5.15" textLength="94" lengthAdjust="spacingAndGlyphs" fill="#1f1f1f" stroke="#1f1f1f" stroke-width="0.16" stroke-linejoin="round">Ambulantes Potenzial nach Hauptdiagnosen</text><g fill="#f7a541" opacity="0.9"><circle cx="203.6" cy="204.32" r="0.4"/><circle cx="203.6" cy="205.7" r="0.4"/><circle cx="203.6" cy="207.08" r="0.4"/></g><rect x="88.5" y="213.45" width="7.75" height="2.6" fill="#79dbb0"/><text x="97.5" y="215.74" font-size="2.75" textLength="29.9" lengthAdjust="spacingAndGlyphs" fill="#666">davon Hybrid-DRG-Fallzahl</text><line x1="13" y1="218.1" x2="209.5" y2="218.1" stroke="#e6e6e6" stroke-width="0.35"/><text x="12.2" y="218.96" font-size="2.4" text-anchor="end" fill="#666">100</text><line x1="13" y1="222.06" x2="209.5" y2="222.06" stroke="#e6e6e6" stroke-width="0.35"/><text x="12.2" y="222.92" font-size="2.4" text-anchor="end" fill="#666">80</text><line x1="13" y1="226.02" x2="209.5" y2="226.02" stroke="#e6e6e6" stroke-width="0.35"/><text x="12.2" y="226.88" font-size="2.4" text-anchor="end" fill="#666">60</text><line x1="13" y1="229.98" x2="209.5" y2="229.98" stroke="#e6e6e6" stroke-width="0.35"/><text x="12.2" y="230.84" font-size="2.4" text-anchor="end" fill="#666">40</text><line x1="13" y1="233.94" x2="209.5" y2="233.94" stroke="#e6e6e6" stroke-width="0.35"/><text x="12.2" y="234.8" font-size="2.4" text-anchor="end" fill="#666">20</text><line x1="13" y1="237.9" x2="209.5" y2="237.9" stroke="#e6e6e6" stroke-width="0.35"/><text x="12.2" y="238.76" font-size="2.4" text-anchor="end" fill="#666">0</text><line x1="14.2" y1="218.1" x2="14.2" y2="238.9" stroke="#ececec" stroke-width="0.3"/><rect x="15.65" y="219.38" width="6.9" height="18.53" fill="#79dbb0"/><text x="19.1" y="242.4" font-size="2.5" text-anchor="middle" textLength="4.52" lengthAdjust="spacingAndGlyphs" fill="#666">M23</text><line x1="23.91" y1="218.1" x2="23.91" y2="238.9" stroke="#ececec" stroke-width="0.3"/><rect x="25.36" y="220.62" width="6.9" height="17.28" fill="#79dbb0"/><text x="28.81" y="242.4" font-size="2.5" text-anchor="middle" textLength="3.88" lengthAdjust="spacingAndGlyphs" fill="#666">L05</text><line x1="33.62" y1="218.1" x2="33.62" y2="238.9" stroke="#ececec" stroke-width="0.3"/><rect x="35.07" y="220.62" width="6.9" height="17.28" fill="#79dbb0"/><text x="38.52" y="242.4" font-size="2.5" text-anchor="middle" textLength="4.14" lengthAdjust="spacingAndGlyphs" fill="#666">K40</text><line x1="43.33" y1="218.1" x2="43.33" y2="238.9" stroke="#ececec" stroke-width="0.3"/><rect x="44.78" y="222.12" width="6.9" height="15.78" fill="#79dbb0"/><text x="48.23" y="242.4" font-size="2.5" text-anchor="middle" textLength="4.52" lengthAdjust="spacingAndGlyphs" fill="#666">M67</text><line x1="53.04" y1="218.1" x2="53.04" y2="238.9" stroke="#ececec" stroke-width="0.3"/><rect x="54.49" y="222.5" width="6.9" height="15.4" fill="#79dbb0"/><text x="57.94" y="242.4" font-size="2.5" text-anchor="middle" textLength="4.27" lengthAdjust="spacingAndGlyphs" fill="#666">N20</text><line x1="62.75" y1="218.1" x2="62.75" y2="238.9" stroke="#ececec" stroke-width="0.3"/><rect x="64.2" y="223.5" width="6.9" height="14.4" fill="#79dbb0"/><text x="67.65" y="242.4" font-size="2.5" text-anchor="middle" textLength="4.14" lengthAdjust="spacingAndGlyphs" fill="#666">K35</text><line x1="72.46" y1="218.1" x2="72.46" y2="238.9" stroke="#ececec" stroke-width="0.3"/><rect x="73.91" y="224.38" width="6.9" height="13.53" fill="#79dbb0"/><text x="77.36" y="242.4" font-size="2.5" text-anchor="middle" textLength="4.14" lengthAdjust="spacingAndGlyphs" fill="#666">S07</text><line x1="82.17" y1="218.1" x2="82.17" y2="238.9" stroke="#ececec" stroke-width="0.3"/><rect x="83.62" y="224.38" width="6.9" height="13.53" fill="#79dbb0"/><text x="87.07" y="242.4" font-size="2.5" text-anchor="middle" textLength="3.23" lengthAdjust="spacingAndGlyphs" fill="#666">I70</text><line x1="91.88" y1="218.1" x2="91.88" y2="238.9" stroke="#ececec" stroke-width="0.3"/><rect x="93.33" y="225.5" width="6.9" height="12.4" fill="#79dbb0"/><text x="96.78" y="242.4" font-size="2.5" text-anchor="middle" textLength="4.52" lengthAdjust="spacingAndGlyphs" fill="#666">M75</text><line x1="101.59" y1="218.1" x2="101.59" y2="238.9" stroke="#ececec" stroke-width="0.3"/><rect x="103.04" y="225.62" width="6.9" height="12.28" fill="#79dbb0"/><text x="106.49" y="242.4" font-size="2.5" text-anchor="middle" textLength="4.14" lengthAdjust="spacingAndGlyphs" fill="#666">K41</text><line x1="111.3" y1="218.1" x2="111.3" y2="238.9" stroke="#ececec" stroke-width="0.3"/><rect x="112.75" y="225.62" width="6.9" height="12.28" fill="#79dbb0"/><text x="116.2" y="242.4" font-size="2.5" text-anchor="middle" textLength="4.27" lengthAdjust="spacingAndGlyphs" fill="#666">N13</text><line x1="121.01" y1="218.1" x2="121.01" y2="238.9" stroke="#ececec" stroke-width="0.3"/><rect x="122.46" y="226.5" width="6.9" height="11.4" fill="#79dbb0"/><text x="125.91" y="242.4" font-size="2.5" text-anchor="middle" textLength="4.39" lengthAdjust="spacingAndGlyphs" fill="#666">G56</text><line x1="130.72" y1="218.1" x2="130.72" y2="238.9" stroke="#ececec" stroke-width="0.3"/><rect x="132.17" y="226.5" width="6.9" height="11.4" fill="#79dbb0"/><text x="135.62" y="242.4" font-size="2.5" text-anchor="middle" textLength="4.27" lengthAdjust="spacingAndGlyphs" fill="#666">N40</text><line x1="140.43" y1="218.1" x2="140.43" y2="238.9" stroke="#ececec" stroke-width="0.3"/><rect x="141.88" y="226.62" width="6.9" height="11.28" fill="#79dbb0"/><text x="145.33" y="242.4" font-size="2.5" text-anchor="middle" textLength="4.14" lengthAdjust="spacingAndGlyphs" fill="#666">K80</text><line x1="150.14" y1="218.1" x2="150.14" y2="238.9" stroke="#ececec" stroke-width="0.3"/><rect x="151.59" y="227.25" width="6.9" height="10.65" fill="#79dbb0"/><text x="155.04" y="242.4" font-size="2.5" text-anchor="middle" textLength="3.23" lengthAdjust="spacingAndGlyphs" fill="#666">I83</text><line x1="159.85" y1="218.1" x2="159.85" y2="238.9" stroke="#ececec" stroke-width="0.3"/><rect x="161.3" y="227.38" width="6.9" height="10.53" fill="#79dbb0"/><text x="164.75" y="242.4" font-size="2.5" text-anchor="middle" textLength="4.52" lengthAdjust="spacingAndGlyphs" fill="#666">M20</text><line x1="169.56" y1="218.1" x2="169.56" y2="238.9" stroke="#ececec" stroke-width="0.3"/><rect x="171.01" y="227.38" width="6.9" height="10.53" fill="#79dbb0"/><text x="174.46" y="242.4" font-size="2.5" text-anchor="middle" textLength="3.23" lengthAdjust="spacingAndGlyphs" fill="#666">I25</text><line x1="179.27" y1="218.1" x2="179.27" y2="238.9" stroke="#ececec" stroke-width="0.3"/><rect x="180.72" y="227.5" width="6.9" height="10.4" fill="#79dbb0"/><text x="184.17" y="242.4" font-size="2.5" text-anchor="middle" textLength="4.27" lengthAdjust="spacingAndGlyphs" fill="#666">H25</text><line x1="188.98" y1="218.1" x2="188.98" y2="238.9" stroke="#ececec" stroke-width="0.3"/><rect x="190.43" y="227.5" width="6.9" height="10.4" fill="#79dbb0"/><text x="193.88" y="242.4" font-size="2.5" text-anchor="middle" textLength="4.14" lengthAdjust="spacingAndGlyphs" fill="#666">K43</text><line x1="198.69" y1="218.1" x2="198.69" y2="238.9" stroke="#ececec" stroke-width="0.3"/><rect x="200.14" y="227.62" width="6.9" height="10.28" fill="#79dbb0"/><text x="203.59" y="242.4" font-size="2.5" text-anchor="middle" textLength="4.14" lengthAdjust="spacingAndGlyphs" fill="#666">S82</text><text x="212.8" y="91.7" font-size="5.15" textLength="112.1" lengthAdjust="spacingAndGlyphs" fill="#1f1f1f" stroke="#1f1f1f" stroke-width="0.16" stroke-linejoin="round">Ambulantes Potenzial nach KHTG-Leistungsgruppen</text><g fill="#f7a541" opacity="0.9"><circle cx="410.3" cy="88.37" r="0.4"/><circle cx="410.3" cy="89.75" r="0.4"/><circle cx="410.3" cy="91.13" r="0.4"/></g><rect x="302.4" y="97.45" width="7.9" height="2.6" fill="#79dbb0"/><text x="311.5" y="99.74" font-size="2.75" textLength="29.4" lengthAdjust="spacingAndGlyphs" fill="#666">davon Hybrid-DRG-Fallzahl</text><line x1="278.4" y1="101.6" x2="278.4" y2="181.4" stroke="#e6e6e6" stroke-width="0.35"/><text x="278.4" y="184.44" font-size="2.6" text-anchor="middle" fill="#666">0</text><line x1="295.2" y1="101.6" x2="295.2" y2="181.4" stroke="#e6e6e6" stroke-width="0.35"/><text x="295.2" y="184.44" font-size="2.6" text-anchor="middle" fill="#666">5</text><line x1="312" y1="101.6" x2="312" y2="181.4" stroke="#e6e6e6" stroke-width="0.35"/><text x="312" y="184.44" font-size="2.6" text-anchor="middle" fill="#666">10</text><line x1="328.8" y1="101.6" x2="328.8" y2="181.4" stroke="#e6e6e6" stroke-width="0.35"/><text x="328.8" y="184.44" font-size="2.6" text-anchor="middle" fill="#666">15</text><line x1="345.6" y1="101.6" x2="345.6" y2="181.4" stroke="#e6e6e6" stroke-width="0.35"/><text x="345.6" y="184.44" font-size="2.6" text-anchor="middle" fill="#666">20</text><line x1="362.4" y1="101.6" x2="362.4" y2="181.4" stroke="#e6e6e6" stroke-width="0.35"/><text x="362.4" y="184.44" font-size="2.6" text-anchor="middle" fill="#666">25</text><line x1="379.2" y1="101.6" x2="379.2" y2="181.4" stroke="#e6e6e6" stroke-width="0.35"/><text x="379.2" y="184.44" font-size="2.6" text-anchor="middle" fill="#666">30</text><line x1="396" y1="101.6" x2="396" y2="181.4" stroke="#e6e6e6" stroke-width="0.35"/><text x="396" y="184.44" font-size="2.6" text-anchor="middle" fill="#666">35</text><line x1="412.8" y1="101.6" x2="412.8" y2="181.4" stroke="#e6e6e6" stroke-width="0.35"/><text x="412.8" y="184.44" font-size="2.6" text-anchor="middle" fill="#666">40</text><line x1="277.4" y1="102" x2="412.8" y2="102" stroke="#ececec" stroke-width="0.3"/><line x1="277.4" y1="108" x2="412.8" y2="108" stroke="#ececec" stroke-width="0.3"/><line x1="277.4" y1="114" x2="412.8" y2="114" stroke="#ececec" stroke-width="0.3"/><line x1="277.4" y1="120" x2="412.8" y2="120" stroke="#ececec" stroke-width="0.3"/><line x1="277.4" y1="126" x2="412.8" y2="126" stroke="#ececec" stroke-width="0.3"/><line x1="277.4" y1="132" x2="412.8" y2="132" stroke="#ececec" stroke-width="0.3"/><line x1="277.4" y1="138" x2="412.8" y2="138" stroke="#ececec" stroke-width="0.3"/><line x1="277.4" y1="144" x2="412.8" y2="144" stroke="#ececec" stroke-width="0.3"/><line x1="277.4" y1="150" x2="412.8" y2="150" stroke="#ececec" stroke-width="0.3"/><line x1="277.4" y1="156" x2="412.8" y2="156" stroke="#ececec" stroke-width="0.3"/><line x1="277.4" y1="162" x2="412.8" y2="162" stroke="#ececec" stroke-width="0.3"/><line x1="277.4" y1="168" x2="412.8" y2="168" stroke="#ececec" stroke-width="0.3"/><line x1="277.4" y1="174" x2="412.8" y2="174" stroke="#ececec" stroke-width="0.3"/><line x1="277.4" y1="180" x2="412.8" y2="180" stroke="#ececec" stroke-width="0.3"/><rect x="278.4" y="102.38" width="3.8" height="2.25" fill="#79dbb0"/><rect x="278.4" y="105.38" width="0.5" height="2.25" fill="#79dbb0"/><rect x="278.4" y="108.38" width="15" height="2.25" fill="#79dbb0"/><rect x="278.4" y="111.38" width="3.15" height="2.25" fill="#79dbb0"/><rect x="278.4" y="114.38" width="10.9" height="2.25" fill="#79dbb0"/><rect x="278.4" y="120.38" width="134.4" height="2.25" fill="#79dbb0"/><rect x="278.4" y="123.38" width="107.5" height="2.25" fill="#79dbb0"/><rect x="278.4" y="126.38" width="75.9" height="2.25" fill="#79dbb0"/><rect x="278.4" y="129.38" width="49.9" height="2.25" fill="#79dbb0"/><rect x="278.4" y="132.38" width="36.5" height="2.25" fill="#79dbb0"/><rect x="278.4" y="135.38" width="1.9" height="2.25" fill="#79dbb0"/><rect x="278.4" y="150.38" width="1.9" height="2.25" fill="#79dbb0"/><rect x="278.4" y="156.38" width="46.9" height="2.25" fill="#79dbb0"/><rect x="278.4" y="159.38" width="43.15" height="2.25" fill="#79dbb0"/><rect x="278.4" y="165.38" width="3.9" height="2.25" fill="#79dbb0"/><rect x="278.4" y="168.38" width="0.5" height="2.25" fill="#79dbb0"/><rect x="278.4" y="177.38" width="58.4" height="2.25" fill="#79dbb0"/><text x="276.3" y="104.44" font-size="2.6" text-anchor="end" textLength="36.29" lengthAdjust="spacingAndGlyphs" fill="#666">LG001 Allgemeine Innere Medizin</text><text x="276.3" y="110.44" font-size="2.6" text-anchor="end" textLength="38.58" lengthAdjust="spacingAndGlyphs" fill="#666">LG003 Komplexe Gastroenterologie</text><text x="276.3" y="116.44" font-size="2.6" text-anchor="end" textLength="33.47" lengthAdjust="spacingAndGlyphs" fill="#666">LG005 Komplexe Pneumologie</text><text x="276.3" y="122.44" font-size="2.6" text-anchor="end" textLength="22.31" lengthAdjust="spacingAndGlyphs" fill="#666">LG010 EPU/Ablation</text><text x="276.3" y="128.44" font-size="2.6" text-anchor="end" textLength="26.08" lengthAdjust="spacingAndGlyphs" fill="#666">LG012 Kardiale Devices</text><text x="276.3" y="134.44" font-size="2.6" text-anchor="end" textLength="38.31" lengthAdjust="spacingAndGlyphs" fill="#666">LG014 Kinder- und Jugendchirurgie</text><text x="276.3" y="140.44" font-size="2.6" text-anchor="end" textLength="48.25" lengthAdjust="spacingAndGlyphs" fill="#666">LG020 Komplexe periphere arterielle Gefäße</text><text x="276.3" y="146.44" font-size="2.6" text-anchor="end" textLength="30.47" lengthAdjust="spacingAndGlyphs" fill="#666">LG028 Wirbelsäuleneingriffe</text><text x="276.3" y="152.44" font-size="2.6" text-anchor="end" textLength="45.03" lengthAdjust="spacingAndGlyphs" fill="#666">LG030 Haut- und Geschlechtskrankheiten</text><text x="276.3" y="158.44" font-size="2.6" text-anchor="end" textLength="16.94" lengthAdjust="spacingAndGlyphs" fill="#666">LG038 Urologie</text><text x="276.3" y="164.44" font-size="2.6" text-anchor="end" textLength="19.89" lengthAdjust="spacingAndGlyphs" fill="#666">LG052 Stroke Unit</text><text x="276.3" y="170.44" font-size="2.6" text-anchor="end" textLength="13.3" lengthAdjust="spacingAndGlyphs" fill="#666">LG053 HNO</text><text x="276.3" y="176.44" font-size="2.6" text-anchor="end" textLength="32.13" lengthAdjust="spacingAndGlyphs" fill="#666">LG065 Allgemeine Neurologie</text><text x="212.8" y="207.45" font-size="5.15" textLength="97.1" lengthAdjust="spacingAndGlyphs" fill="#1f1f1f" stroke="#1f1f1f" stroke-width="0.16" stroke-linejoin="round">Ambulantes Potenzial nach Hauptprozeduren</text><g fill="#f7a541" opacity="0.9"><circle cx="410.3" cy="204.12" r="0.4"/><circle cx="410.3" cy="205.5" r="0.4"/><circle cx="410.3" cy="206.88" r="0.4"/></g><rect x="295.3" y="213.2" width="7.75" height="2.6" fill="#8fcdf9"/><text x="304.4" y="215.49" font-size="2.75" textLength="29.3" lengthAdjust="spacingAndGlyphs" fill="#666">davon Hybrid-DRG-Fallzahl</text><line x1="219.2" y1="218" x2="414.5" y2="218" stroke="#e6e6e6" stroke-width="0.35"/><text x="218.3" y="218.79" font-size="2.2" text-anchor="end" fill="#666">25</text><line x1="219.2" y1="221.9" x2="414.5" y2="221.9" stroke="#e6e6e6" stroke-width="0.35"/><text x="218.3" y="222.69" font-size="2.2" text-anchor="end" fill="#666">20</text><line x1="219.2" y1="225.8" x2="414.5" y2="225.8" stroke="#e6e6e6" stroke-width="0.35"/><text x="218.3" y="226.59" font-size="2.2" text-anchor="end" fill="#666">15</text><line x1="219.2" y1="229.7" x2="414.5" y2="229.7" stroke="#e6e6e6" stroke-width="0.35"/><text x="218.3" y="230.49" font-size="2.2" text-anchor="end" fill="#666">10</text><line x1="219.2" y1="233.6" x2="414.5" y2="233.6" stroke="#e6e6e6" stroke-width="0.35"/><text x="218.3" y="234.39" font-size="2.2" text-anchor="end" fill="#666">5</text><line x1="219.2" y1="237.5" x2="414.5" y2="237.5" stroke="#e6e6e6" stroke-width="0.35"/><text x="218.3" y="238.29" font-size="2.2" text-anchor="end" fill="#666">0</text><line x1="220.8" y1="218" x2="220.8" y2="238.5" stroke="#ececec" stroke-width="0.3"/><rect x="222.2" y="219.38" width="6.85" height="18.12" fill="#8fcdf9"/><text x="225.6" y="242.36" font-size="2.4" text-anchor="middle" textLength="5.71" lengthAdjust="spacingAndGlyphs" fill="#666">5-891</text><line x1="230.49" y1="218" x2="230.49" y2="238.5" stroke="#ececec" stroke-width="0.3"/><rect x="231.89" y="219.75" width="6.85" height="17.75" fill="#8fcdf9"/><text x="235.29" y="242.36" font-size="2.4" text-anchor="middle" textLength="5.71" lengthAdjust="spacingAndGlyphs" fill="#666">5-897</text><line x1="240.18" y1="218" x2="240.18" y2="238.5" stroke="#ececec" stroke-width="0.3"/><rect x="241.58" y="220.25" width="6.85" height="17.25" fill="#8fcdf9"/><text x="244.98" y="242.36" font-size="2.4" text-anchor="middle" textLength="5.71" lengthAdjust="spacingAndGlyphs" fill="#666">1-672</text><line x1="249.87" y1="218" x2="249.87" y2="238.5" stroke="#ececec" stroke-width="0.3"/><rect x="251.27" y="220.62" width="6.85" height="16.88" fill="#8fcdf9"/><text x="254.67" y="242.36" font-size="2.4" text-anchor="middle" textLength="5.71" lengthAdjust="spacingAndGlyphs" fill="#666">5-535</text><line x1="259.56" y1="218" x2="259.56" y2="238.5" stroke="#ececec" stroke-width="0.3"/><rect x="260.96" y="220.75" width="6.85" height="16.75" fill="#8fcdf9"/><text x="264.36" y="242.36" font-size="2.4" text-anchor="middle" textLength="5.71" lengthAdjust="spacingAndGlyphs" fill="#666">8-836</text><line x1="269.25" y1="218" x2="269.25" y2="238.5" stroke="#ececec" stroke-width="0.3"/><rect x="270.65" y="221.62" width="6.85" height="15.88" fill="#8fcdf9"/><text x="274.05" y="242.36" font-size="2.4" text-anchor="middle" textLength="5.71" lengthAdjust="spacingAndGlyphs" fill="#666">5-385</text><line x1="278.94" y1="218" x2="278.94" y2="238.5" stroke="#ececec" stroke-width="0.3"/><rect x="280.34" y="222.25" width="6.85" height="15.25" fill="#8fcdf9"/><text x="283.74" y="242.36" font-size="2.4" text-anchor="middle" textLength="5.71" lengthAdjust="spacingAndGlyphs" fill="#666">5-056</text><line x1="288.63" y1="218" x2="288.63" y2="238.5" stroke="#ececec" stroke-width="0.3"/><rect x="290.03" y="222.5" width="6.85" height="15" fill="#8fcdf9"/><text x="293.43" y="242.36" font-size="2.4" text-anchor="middle" textLength="5.71" lengthAdjust="spacingAndGlyphs" fill="#666">5-530</text><line x1="298.32" y1="218" x2="298.32" y2="238.5" stroke="#ececec" stroke-width="0.3"/><rect x="299.72" y="222.5" width="6.85" height="15" fill="#8fcdf9"/><text x="303.12" y="242.36" font-size="2.4" text-anchor="middle" textLength="5.54" lengthAdjust="spacingAndGlyphs" fill="#666">5-811</text><line x1="308.01" y1="218" x2="308.01" y2="238.5" stroke="#ececec" stroke-width="0.3"/><rect x="309.41" y="222.5" width="6.85" height="15" fill="#8fcdf9"/><text x="312.81" y="242.36" font-size="2.4" text-anchor="middle" textLength="5.71" lengthAdjust="spacingAndGlyphs" fill="#666">1-631</text><line x1="317.7" y1="218" x2="317.7" y2="238.5" stroke="#ececec" stroke-width="0.3"/><rect x="319.1" y="223.25" width="6.85" height="14.25" fill="#8fcdf9"/><text x="322.5" y="242.36" font-size="2.4" text-anchor="middle" textLength="5.71" lengthAdjust="spacingAndGlyphs" fill="#666">5-581</text><line x1="327.39" y1="218" x2="327.39" y2="238.5" stroke="#ececec" stroke-width="0.3"/><rect x="328.79" y="223.25" width="6.85" height="14.25" fill="#8fcdf9"/><text x="332.19" y="242.36" font-size="2.4" text-anchor="middle" textLength="5.71" lengthAdjust="spacingAndGlyphs" fill="#666">5-851</text><line x1="337.08" y1="218" x2="337.08" y2="238.5" stroke="#ececec" stroke-width="0.3"/><rect x="338.48" y="223.25" width="6.85" height="14.25" fill="#8fcdf9"/><text x="341.88" y="242.36" font-size="2.4" text-anchor="middle" textLength="5.71" lengthAdjust="spacingAndGlyphs" fill="#666">5-469</text><line x1="346.77" y1="218" x2="346.77" y2="238.5" stroke="#ececec" stroke-width="0.3"/><rect x="348.17" y="223.25" width="6.85" height="14.25" fill="#8fcdf9"/><text x="351.57" y="242.36" font-size="2.4" text-anchor="middle" textLength="5.71" lengthAdjust="spacingAndGlyphs" fill="#666">5-534</text><line x1="356.46" y1="218" x2="356.46" y2="238.5" stroke="#ececec" stroke-width="0.3"/><rect x="357.86" y="223.25" width="6.85" height="14.25" fill="#8fcdf9"/><text x="361.26" y="242.36" font-size="2.4" text-anchor="middle" textLength="5.71" lengthAdjust="spacingAndGlyphs" fill="#666">8-137</text><line x1="366.15" y1="218" x2="366.15" y2="238.5" stroke="#ececec" stroke-width="0.3"/><rect x="367.55" y="223.5" width="6.85" height="14" fill="#8fcdf9"/><text x="370.95" y="242.36" font-size="2.4" text-anchor="middle" textLength="5.71" lengthAdjust="spacingAndGlyphs" fill="#666">5-859</text><line x1="375.84" y1="218" x2="375.84" y2="238.5" stroke="#ececec" stroke-width="0.3"/><rect x="377.24" y="224" width="6.85" height="13.5" fill="#8fcdf9"/><text x="380.64" y="242.36" font-size="2.4" text-anchor="middle" textLength="5.71" lengthAdjust="spacingAndGlyphs" fill="#666">5-399</text><line x1="385.53" y1="218" x2="385.53" y2="238.5" stroke="#ececec" stroke-width="0.3"/><rect x="386.93" y="224" width="6.85" height="13.5" fill="#8fcdf9"/><text x="390.33" y="242.36" font-size="2.4" text-anchor="middle" textLength="5.71" lengthAdjust="spacingAndGlyphs" fill="#666">5-841</text><line x1="395.22" y1="218" x2="395.22" y2="238.5" stroke="#ececec" stroke-width="0.3"/><rect x="396.62" y="224.38" width="6.85" height="13.12" fill="#8fcdf9"/><text x="400.02" y="242.36" font-size="2.4" text-anchor="middle" textLength="5.71" lengthAdjust="spacingAndGlyphs" fill="#666">5-056</text><line x1="404.91" y1="218" x2="404.91" y2="238.5" stroke="#ececec" stroke-width="0.3"/><rect x="406.31" y="224.62" width="6.85" height="12.88" fill="#8fcdf9"/><text x="409.71" y="242.36" font-size="2.4" text-anchor="middle" textLength="5.71" lengthAdjust="spacingAndGlyphs" fill="#666">1-650</text><rect x="-1" y="-1" width="424.3" height="14" fill="#f3f3f3"/><g fill="none" stroke="#8d8d8d" stroke-width="0.55" stroke-linecap="round" stroke-linejoin="round"><rect x="4.6" y="4.2" width="4.6" height="3.6" rx="0.8"/><path d="M6.3 4.2V7.8"/><path d="M12.7 5.7l0.8 0.8l0.8-0.8" stroke-width="0.5"/><path d="M22.1 4.4l-1.6 1.6l1.6 1.6"/><path d="M29.1 4.4l1.6 1.6l-1.6 1.6" stroke="#cfcfcf"/><circle cx="389.4" cy="6" r="1.7"/><path d="M388.5 6h1.8M389.4 5.1v1.8" stroke-width="0.4"/><path d="M396.8 5.6v2.4h2.9v-2.4M398.2 3.8v2.8M397.4 4.5l0.8-0.8l0.8 0.8"/><path d="M405.3 6h3M406.8 4.5v3"/><rect x="414.9" y="5.1" width="2.7" height="2.7" rx="0.6"/><path d="M413.9 6.9v-2.1a0.6 0.6 0 0 1 0.6-0.6h2.1"/></g><rect x="125.65" y="3.1" width="170.85" height="6.3" rx="1.5" fill="#ededed" stroke="#e6e6e6" stroke-width="0.3"/><path d="M295.1 6.1a1.15 1.15 0 1 1-0.45-0.85M294.85 4.6v0.8h-0.8" fill="none" stroke="#8d8d8d" stroke-width="0.4"/><rect x="-1" y="12.5" width="424.3" height="10" fill="#47286f"/><rect x="-1" y="22.5" width="424.3" height="5" fill="url(#gShadow)"/><g stroke="#d9d2e6" stroke-width="0.45"><path d="M6.6 16.7h2.6M6.6 17.55h2.6M6.6 18.4h2.6"/></g><text x="15.9" y="18.85" font-size="3.6" font-weight="700" textLength="21.4" lengthAdjust="spacingAndGlyphs" fill="#fff">BinDoc Meta</text><text x="399.3" y="18.7" font-size="3.2" text-anchor="end" font-weight="700" textLength="20.3" lengthAdjust="spacingAndGlyphs" fill="#fff">Live Analytics</text><g fill="none" stroke="#e6e0ef" stroke-width="0.45"><circle cx="404.7" cy="17.5" r="1.4"/><path d="M404.7 16.7v0.8h0.7"/><circle cx="414.3" cy="17.5" r="1.15" stroke-width="0.8" stroke-dasharray="0.6 0.3"/></g><text x="140.65" y="269.29" font-size="2.2" font-weight="700" textLength="7.6" lengthAdjust="spacingAndGlyphs" fill="#222">© 2025</text><text x="141" y="271.36" font-size="2.1" textLength="7.2" lengthAdjust="spacingAndGlyphs" fill="#999">/ Login /</text><text x="151" y="270.49" font-size="2.75" textLength="15.9" lengthAdjust="spacingAndGlyphs" fill="#8a8a8a">BinDoc GmbH</text><text x="171.5" y="270.49" font-size="2.75" textLength="14.15" lengthAdjust="spacingAndGlyphs" fill="#8a8a8a">Datenschutz</text><text x="190.5" y="270.49" font-size="2.75" textLength="17.3" lengthAdjust="spacingAndGlyphs" fill="#8a8a8a">Dokumentation</text><text x="212.6" y="270.49" font-size="2.75" textLength="13.3" lengthAdjust="spacingAndGlyphs" fill="#8a8a8a">Impressum</text><text x="230.3" y="270.49" font-size="2.75" textLength="25" lengthAdjust="spacingAndGlyphs" fill="#8a8a8a">Ambulante Lösungen</text><text x="258" y="270.49" font-size="2.75" textLength="23.5" lengthAdjust="spacingAndGlyphs" fill="#8a8a8a">Cookie Einstellungen</text><rect x="395.3" y="262.5" width="22" height="2" fill="#f7941d"/></g></g><g class="notch"><path d="M355 316.5 L355 324.1 A2.4 2.4 0 0 0 357.4 326.5 L404.7 326.5 A2.4 2.4 0 0 0 407.1 324.1 L407.1 316.5 Z" fill="#050505"/><circle cx="381.05" cy="320.92" r="1.17" fill="#1c1c1e"/></g></svg>
<svg class="laptop r2" width="1280" height="720" viewBox="0 0 1280 720"><defs><clipPath id="clip_r2"><path d="M674.7 591.3 L674.7 322.9 A5.4 5.4 0 0 1 680.1 317.5 L1091.5 317.5 A5.4 5.4 0 0 1 1096.9 322.9 L1096.9 591.3 Z"/></clipPath></defs><g class="base"><path d="M1076.5 626.4 L1110.4 626.4 Q1109.8 630.1 1106.9 630.1 L1080 630.1 Q1077.1 630.1 1076.5 626.4 Z" fill="url(#gFoot)"/><clipPath id="bclip_r2"><path d="M629.2 607.6 L1143.2 607.6 A1.2 1.2 0 0 1 1144.4 608.8 L1144.4 617.5 A10 9.5 0 0 1 1134.4 627 L638 627 A10 9.5 0 0 1 628 617.5 L628 608.8 A1.2 1.2 0 0 1 629.2 607.6 Z"/></clipPath><g clip-path="url(#bclip_r2)"><rect x="628" y="607.6" width="516.4" height="19.4" fill="url(#gBase)"/><rect x="628" y="607.6" width="16" height="19.4" fill="url(#gCapL)"/><rect x="1128.4" y="607.6" width="16" height="19.4" fill="url(#gCapR)"/><rect x="628" y="607.6" width="516.4" height="0.7" fill="#e2e3e5" opacity="0.8"/></g></g><g class="lid"><path d="M667.85 607.6 L667.85 322 A11 11 0 0 1 678.85 311 L1092.4 311 A11 11 0 0 1 1103.4 322 L1103.4 607.6 Z" fill="#050505"/><rect x="667.85" y="596" width="435.55" height="11.6" fill="url(#gHinge)"/><line x1="1103.1" y1="592.8" x2="1103.1" y2="607.6" stroke="#a9aaac" stroke-width="0.9" opacity="0.85"/></g><g clip-path="url(#clip_r2)"><g class="screen" transform="translate(674.7 317.5)"><rect x="-1" y="-1" width="424.3" height="276" fill="#fff"/><g class="kpi"><text x="56" y="42.61" font-size="10.3" text-anchor="middle" textLength="26" lengthAdjust="spacingAndGlyphs" fill="#222" stroke="#222" stroke-width="0.3" stroke-linejoin="round">100 %</text><text x="56" y="51.8" font-size="5" text-anchor="middle" textLength="62.2" lengthAdjust="spacingAndGlyphs" fill="#1a1a1a" stroke="#1a1a1a" stroke-width="0.25" stroke-linejoin="round">Stationäre Fallzahl Status Quo</text></g><g class="kpi"><text x="159" y="42.61" font-size="10.3" text-anchor="middle" textLength="28.8" lengthAdjust="spacingAndGlyphs" fill="#222" stroke="#222" stroke-width="0.3" stroke-linejoin="round">6,79 %</text><text x="159" y="51.8" font-size="5" text-anchor="middle" textLength="57.5" lengthAdjust="spacingAndGlyphs" fill="#1a1a1a" stroke="#1a1a1a" stroke-width="0.25" stroke-linejoin="round">davon Hybrid-DRG-Fallzahl</text></g><g class="kpi"><text x="262.8" y="42.61" font-size="10.3" text-anchor="middle" textLength="29.5" lengthAdjust="spacingAndGlyphs" fill="#222" stroke="#222" stroke-width="0.3" stroke-linejoin="round">4,66 %</text><text x="262.8" y="51.8" font-size="5" text-anchor="middle" textLength="57.5" lengthAdjust="spacingAndGlyphs" fill="#1a1a1a" stroke="#1a1a1a" stroke-width="0.25" stroke-linejoin="round">davon Hybrid-DRG-Umsatz</text></g><g class="kpi"><text x="365.9" y="42.61" font-size="10.3" text-anchor="middle" textLength="26" lengthAdjust="spacingAndGlyphs" fill="#222" stroke="#222" stroke-width="0.3" stroke-linejoin="round">1,81 %</text><text x="365.9" y="51.8" font-size="5" text-anchor="middle" textLength="65" lengthAdjust="spacingAndGlyphs" fill="#1a1a1a" stroke="#1a1a1a" stroke-width="0.25" stroke-linejoin="round">davon Hybrid-DRG-Auslastung</text></g><g fill="#f7a541" opacity="0.8"><circle cx="100.3" cy="24.07" r="0.36"/><circle cx="100.3" cy="25.3" r="0.36"/><circle cx="100.3" cy="26.53" r="0.36"/></g><g fill="#f7a541" opacity="0.8"><circle cx="203.6" cy="24.07" r="0.36"/><circle cx="203.6" cy="25.3" r="0.36"/><circle cx="203.6" cy="26.53" r="0.36"/></g><g fill="#f7a541" opacity="0.8"><circle cx="306.9" cy="24.07" r="0.36"/><circle cx="306.9" cy="25.3" r="0.36"/><circle cx="306.9" cy="26.53" r="0.36"/></g><g fill="#f7a541" opacity="0.8"><circle cx="410.7" cy="24.07" r="0.36"/><circle cx="410.7" cy="25.3" r="0.36"/><circle cx="410.7" cy="26.53" r="0.36"/></g><line x1="4.4" y1="77.25" x2="403.3" y2="77.25" stroke="#ececec" stroke-width="0.45"/><line x1="4.4" y1="193.75" x2="403.3" y2="193.75" stroke="#ececec" stroke-width="0.45"/><g transform="translate(412.3 78.5) rotate(45) scale(0.9)" fill="#f7941d"><rect x="-0.75" y="-2.6" width="1.5" height="3.6" rx="0.2"/><path d="M-0.75 1.3 L0.75 1.3 L0 2.6 Z"/></g><g transform="translate(412.3 194.5) rotate(45) scale(0.9)" fill="#f7941d"><rect x="-0.75" y="-2.6" width="1.5" height="3.6" rx="0.2"/><path d="M-0.75 1.3 L0.75 1.3 L0 2.6 Z"/></g><text x="7.15" y="91.7" font-size="5.15" textLength="90.1" lengthAdjust="spacingAndGlyphs" fill="#1f1f1f" stroke="#1f1f1f" stroke-width="0.16" stroke-linejoin="round">Ambulantes Potenzial Quartile der Kliniken</text><g fill="#f7a541" opacity="0.9"><circle cx="203.6" cy="88.37" r="0.4"/><circle cx="203.6" cy="89.75" r="0.4"/><circle cx="203.6" cy="91.13" r="0.4"/></g><rect x="39.8" y="97.45" width="7.75" height="2.6" fill="#79dbb0"/><text x="48.7" y="99.74" font-size="2.75" textLength="29.6" lengthAdjust="spacingAndGlyphs" fill="#666">davon Hybrid-DRG-Fallzahl</text><rect x="80.4" y="97.45" width="7.75" height="2.6" fill="#a9b8c4"/><text x="89.3" y="99.74" font-size="2.75" textLength="38.1" lengthAdjust="spacingAndGlyphs" fill="#666">davon Hybrid-DRG-Casemixpunkte</text><rect x="129.4" y="97.45" width="7.75" height="2.6" fill="#8fcdf9"/><text x="138.3" y="99.74" font-size="2.75" textLength="37.2" lengthAdjust="spacingAndGlyphs" fill="#666">davon Hybrid-DRG-Belegungstage</text><line x1="11.2" y1="102.1" x2="208.1" y2="102.1" stroke="#e6e6e6" stroke-width="0.35"/><text x="10.4" y="103.04" font-size="2.6" text-anchor="end" fill="#666">40</text><line x1="11.2" y1="111.04" x2="208.1" y2="111.04" stroke="#e6e6e6" stroke-width="0.35"/><text x="10.4" y="111.97" font-size="2.6" text-anchor="end" fill="#666">35</text><line x1="11.2" y1="119.97" x2="208.1" y2="119.97" stroke="#e6e6e6" stroke-width="0.35"/><text x="10.4" y="120.91" font-size="2.6" text-anchor="end" fill="#666">30</text><line x1="11.2" y1="128.91" x2="208.1" y2="128.91" stroke="#e6e6e6" stroke-width="0.35"/><text x="10.4" y="129.85" font-size="2.6" text-anchor="end" fill="#666">25</text><line x1="11.2" y1="137.85" x2="208.1" y2="137.85" stroke="#e6e6e6" stroke-width="0.35"/><text x="10.4" y="138.79" font-size="2.6" text-anchor="end" fill="#666">20</text><line x1="11.2" y1="146.79" x2="208.1" y2="146.79" stroke="#e6e6e6" stroke-width="0.35"/><text x="10.4" y="147.72" font-size="2.6" text-anchor="end" fill="#666">15</text><line x1="11.2" y1="155.72" x2="208.1" y2="155.72" stroke="#e6e6e6" stroke-width="0.35"/><text x="10.4" y="156.66" font-size="2.6" text-anchor="end" fill="#666">10</text><line x1="11.2" y1="164.66" x2="208.1" y2="164.66" stroke="#e6e6e6" stroke-width="0.35"/><text x="10.4" y="165.6" font-size="2.6" text-anchor="end" fill="#666">5</text><line x1="11.2" y1="173.6" x2="208.1" y2="173.6" stroke="#e6e6e6" stroke-width="0.35"/><text x="10.4" y="174.54" font-size="2.6" text-anchor="end" fill="#666">0</text><line x1="12.5" y1="102.1" x2="12.5" y2="174.8" stroke="#e6e6e6" stroke-width="0.35"/><line x1="77.8" y1="102.1" x2="77.8" y2="174.8" stroke="#e6e6e6" stroke-width="0.35"/><line x1="142.9" y1="102.1" x2="142.9" y2="174.8" stroke="#e6e6e6" stroke-width="0.35"/><line x1="208.1" y1="102.1" x2="208.1" y2="174.8" stroke="#e6e6e6" stroke-width="0.35"/><rect x="20.4" y="164.4" width="15.25" height="9.35" fill="#79dbb0"/><rect x="37.5" y="167.5" width="15.9" height="6.25" fill="#a9b8c4"/><rect x="54.8" y="171.5" width="15.85" height="2.25" fill="#8fcdf9"/><rect x="85.4" y="161.5" width="15.5" height="12.25" fill="#79dbb0"/><rect x="102.8" y="164.75" width="15.6" height="9" fill="#a9b8c4"/><rect x="120.3" y="170.5" width="15.6" height="3.25" fill="#8fcdf9"/><rect x="150.4" y="158.5" width="15.9" height="15.25" fill="#79dbb0"/><rect x="168.15" y="161.9" width="15.35" height="11.85" fill="#a9b8c4"/><rect x="185.4" y="169.4" width="15.6" height="4.35" fill="#8fcdf9"/><text x="45.2" y="178.47" font-size="2.7" text-anchor="middle" textLength="16.89" lengthAdjust="spacingAndGlyphs" fill="#666">Unteres Quartil</text><text x="110.4" y="178.47" font-size="2.7" text-anchor="middle" textLength="8.24" lengthAdjust="spacingAndGlyphs" fill="#666">Median</text><text x="175.5" y="178.47" font-size="2.7" text-anchor="middle" textLength="16.33" lengthAdjust="spacingAndGlyphs" fill="#666">Oberes Quartil</text><text x="7.15" y="207.75" font-size="5.15" textLength="94" lengthAdjust="spacingAndGlyphs" fill="#1f1f1f" stroke="#1f1f1f" stroke-width="0.16" stroke-linejoin="round">Ambulantes Potenzial nach Hauptdiagnosen</text><g fill="#f7a541" opacity="0.9"><circle cx="203.6" cy="204.32" r="0.4"/><circle cx="203.6" cy="205.7" r="0.4"/><circle cx="203.6" cy="207.08" r="0.4"/></g><rect x="88.5" y="213.45" width="7.75" height="2.6" fill="#79dbb0"/><text x="97.5" y="215.74" font-size="2.75" textLength="29.9" lengthAdjust="spacingAndGlyphs" fill="#666">davon Hybrid-DRG-Fallzahl</text><line x1="13" y1="218.1" x2="209.5" y2="218.1" stroke="#e6e6e6" stroke-width="0.35"/><text x="12.2" y="218.96" font-size="2.4" text-anchor="end" fill="#666">100</text><line x1="13" y1="222.06" x2="209.5" y2="222.06" stroke="#e6e6e6" stroke-width="0.35"/><text x="12.2" y="222.92" font-size="2.4" text-anchor="end" fill="#666">80</text><line x1="13" y1="226.02" x2="209.5" y2="226.02" stroke="#e6e6e6" stroke-width="0.35"/><text x="12.2" y="226.88" font-size="2.4" text-anchor="end" fill="#666">60</text><line x1="13" y1="229.98" x2="209.5" y2="229.98" stroke="#e6e6e6" stroke-width="0.35"/><text x="12.2" y="230.84" font-size="2.4" text-anchor="end" fill="#666">40</text><line x1="13" y1="233.94" x2="209.5" y2="233.94" stroke="#e6e6e6" stroke-width="0.35"/><text x="12.2" y="234.8" font-size="2.4" text-anchor="end" fill="#666">20</text><line x1="13" y1="237.9" x2="209.5" y2="237.9" stroke="#e6e6e6" stroke-width="0.35"/><text x="12.2" y="238.76" font-size="2.4" text-anchor="end" fill="#666">0</text><line x1="14.2" y1="218.1" x2="14.2" y2="238.9" stroke="#ececec" stroke-width="0.3"/><rect x="15.65" y="219.38" width="6.9" height="18.53" fill="#79dbb0"/><text x="19.1" y="242.4" font-size="2.5" text-anchor="middle" textLength="4.52" lengthAdjust="spacingAndGlyphs" fill="#666">M23</text><line x1="23.91" y1="218.1" x2="23.91" y2="238.9" stroke="#ececec" stroke-width="0.3"/><rect x="25.36" y="220.62" width="6.9" height="17.28" fill="#79dbb0"/><text x="28.81" y="242.4" font-size="2.5" text-anchor="middle" textLength="3.88" lengthAdjust="spacingAndGlyphs" fill="#666">L05</text><line x1="33.62" y1="218.1" x2="33.62" y2="238.9" stroke="#ececec" stroke-width="0.3"/><rect x="35.07" y="220.62" width="6.9" height="17.28" fill="#79dbb0"/><text x="38.52" y="242.4" font-size="2.5" text-anchor="middle" textLength="4.14" lengthAdjust="spacingAndGlyphs" fill="#666">K40</text><line x1="43.33" y1="218.1" x2="43.33" y2="238.9" stroke="#ececec" stroke-width="0.3"/><rect x="44.78" y="222.12" width="6.9" height="15.78" fill="#79dbb0"/><text x="48.23" y="242.4" font-size="2.5" text-anchor="middle" textLength="4.52" lengthAdjust="spacingAndGlyphs" fill="#666">M67</text><line x1="53.04" y1="218.1" x2="53.04" y2="238.9" stroke="#ececec" stroke-width="0.3"/><rect x="54.49" y="222.5" width="6.9" height="15.4" fill="#79dbb0"/><text x="57.94" y="242.4" font-size="2.5" text-anchor="middle" textLength="4.27" lengthAdjust="spacingAndGlyphs" fill="#666">N20</text><line x1="62.75" y1="218.1" x2="62.75" y2="238.9" stroke="#ececec" stroke-width="0.3"/><rect x="64.2" y="223.5" width="6.9" height="14.4" fill="#79dbb0"/><text x="67.65" y="242.4" font-size="2.5" text-anchor="middle" textLength="4.14" lengthAdjust="spacingAndGlyphs" fill="#666">K35</text><line x1="72.46" y1="218.1" x2="72.46" y2="238.9" stroke="#ececec" stroke-width="0.3"/><rect x="73.91" y="224.38" width="6.9" height="13.53" fill="#79dbb0"/><text x="77.36" y="242.4" font-size="2.5" text-anchor="middle" textLength="4.14" lengthAdjust="spacingAndGlyphs" fill="#666">S07</text><line x1="82.17" y1="218.1" x2="82.17" y2="238.9" stroke="#ececec" stroke-width="0.3"/><rect x="83.62" y="224.38" width="6.9" height="13.53" fill="#79dbb0"/><text x="87.07" y="242.4" font-size="2.5" text-anchor="middle" textLength="3.23" lengthAdjust="spacingAndGlyphs" fill="#666">I70</text><line x1="91.88" y1="218.1" x2="91.88" y2="238.9" stroke="#ececec" stroke-width="0.3"/><rect x="93.33" y="225.5" width="6.9" height="12.4" fill="#79dbb0"/><text x="96.78" y="242.4" font-size="2.5" text-anchor="middle" textLength="4.52" lengthAdjust="spacingAndGlyphs" fill="#666">M75</text><line x1="101.59" y1="218.1" x2="101.59" y2="238.9" stroke="#ececec" stroke-width="0.3"/><rect x="103.04" y="225.62" width="6.9" height="12.28" fill="#79dbb0"/><text x="106.49" y="242.4" font-size="2.5" text-anchor="middle" textLength="4.14" lengthAdjust="spacingAndGlyphs" fill="#666">K41</text><line x1="111.3" y1="218.1" x2="111.3" y2="238.9" stroke="#ececec" stroke-width="0.3"/><rect x="112.75" y="225.62" width="6.9" height="12.28" fill="#79dbb0"/><text x="116.2" y="242.4" font-size="2.5" text-anchor="middle" textLength="4.27" lengthAdjust="spacingAndGlyphs" fill="#666">N13</text><line x1="121.01" y1="218.1" x2="121.01" y2="238.9" stroke="#ececec" stroke-width="0.3"/><rect x="122.46" y="226.5" width="6.9" height="11.4" fill="#79dbb0"/><text x="125.91" y="242.4" font-size="2.5" text-anchor="middle" textLength="4.39" lengthAdjust="spacingAndGlyphs" fill="#666">G56</text><line x1="130.72" y1="218.1" x2="130.72" y2="238.9" stroke="#ececec" stroke-width="0.3"/><rect x="132.17" y="226.5" width="6.9" height="11.4" fill="#79dbb0"/><text x="135.62" y="242.4" font-size="2.5" text-anchor="middle" textLength="4.27" lengthAdjust="spacingAndGlyphs" fill="#666">N40</text><line x1="140.43" y1="218.1" x2="140.43" y2="238.9" stroke="#ececec" stroke-width="0.3"/><rect x="141.88" y="226.62" width="6.9" height="11.28" fill="#79dbb0"/><text x="145.33" y="242.4" font-size="2.5" text-anchor="middle" textLength="4.14" lengthAdjust="spacingAndGlyphs" fill="#666">K80</text><line x1="150.14" y1="218.1" x2="150.14" y2="238.9" stroke="#ececec" stroke-width="0.3"/><rect x="151.59" y="227.25" width="6.9" height="10.65" fill="#79dbb0"/><text x="155.04" y="242.4" font-size="2.5" text-anchor="middle" textLength="3.23" lengthAdjust="spacingAndGlyphs" fill="#666">I83</text><line x1="159.85" y1="218.1" x2="159.85" y2="238.9" stroke="#ececec" stroke-width="0.3"/><rect x="161.3" y="227.38" width="6.9" height="10.53" fill="#79dbb0"/><text x="164.75" y="242.4" font-size="2.5" text-anchor="middle" textLength="4.52" lengthAdjust="spacingAndGlyphs" fill="#666">M20</text><line x1="169.56" y1="218.1" x2="169.56" y2="238.9" stroke="#ececec" stroke-width="0.3"/><rect x="171.01" y="227.38" width="6.9" height="10.53" fill="#79dbb0"/><text x="174.46" y="242.4" font-size="2.5" text-anchor="middle" textLength="3.23" lengthAdjust="spacingAndGlyphs" fill="#666">I25</text><line x1="179.27" y1="218.1" x2="179.27" y2="238.9" stroke="#ececec" stroke-width="0.3"/><rect x="180.72" y="227.5" width="6.9" height="10.4" fill="#79dbb0"/><text x="184.17" y="242.4" font-size="2.5" text-anchor="middle" textLength="4.27" lengthAdjust="spacingAndGlyphs" fill="#666">H25</text><line x1="188.98" y1="218.1" x2="188.98" y2="238.9" stroke="#ececec" stroke-width="0.3"/><rect x="190.43" y="227.5" width="6.9" height="10.4" fill="#79dbb0"/><text x="193.88" y="242.4" font-size="2.5" text-anchor="middle" textLength="4.14" lengthAdjust="spacingAndGlyphs" fill="#666">K43</text><line x1="198.69" y1="218.1" x2="198.69" y2="238.9" stroke="#ececec" stroke-width="0.3"/><rect x="200.14" y="227.62" width="6.9" height="10.28" fill="#79dbb0"/><text x="203.59" y="242.4" font-size="2.5" text-anchor="middle" textLength="4.14" lengthAdjust="spacingAndGlyphs" fill="#666">S82</text><text x="212.8" y="91.7" font-size="5.15" textLength="112.1" lengthAdjust="spacingAndGlyphs" fill="#1f1f1f" stroke="#1f1f1f" stroke-width="0.16" stroke-linejoin="round">Ambulantes Potenzial nach KHTG-Leistungsgruppen</text><g fill="#f7a541" opacity="0.9"><circle cx="410.3" cy="88.37" r="0.4"/><circle cx="410.3" cy="89.75" r="0.4"/><circle cx="410.3" cy="91.13" r="0.4"/></g><rect x="302.4" y="97.45" width="7.9" height="2.6" fill="#79dbb0"/><text x="311.5" y="99.74" font-size="2.75" textLength="29.4" lengthAdjust="spacingAndGlyphs" fill="#666">davon Hybrid-DRG-Fallzahl</text><line x1="278.4" y1="101.6" x2="278.4" y2="181.4" stroke="#e6e6e6" stroke-width="0.35"/><text x="278.4" y="184.44" font-size="2.6" text-anchor="middle" fill="#666">0</text><line x1="295.2" y1="101.6" x2="295.2" y2="181.4" stroke="#e6e6e6" stroke-width="0.35"/><text x="295.2" y="184.44" font-size="2.6" text-anchor="middle" fill="#666">5</text><line x1="312" y1="101.6" x2="312" y2="181.4" stroke="#e6e6e6" stroke-width="0.35"/><text x="312" y="184.44" font-size="2.6" text-anchor="middle" fill="#666">10</text><line x1="328.8" y1="101.6" x2="328.8" y2="181.4" stroke="#e6e6e6" stroke-width="0.35"/><text x="328.8" y="184.44" font-size="2.6" text-anchor="middle" fill="#666">15</text><line x1="345.6" y1="101.6" x2="345.6" y2="181.4" stroke="#e6e6e6" stroke-width="0.35"/><text x="345.6" y="184.44" font-size="2.6" text-anchor="middle" fill="#666">20</text><line x1="362.4" y1="101.6" x2="362.4" y2="181.4" stroke="#e6e6e6" stroke-width="0.35"/><text x="362.4" y="184.44" font-size="2.6" text-anchor="middle" fill="#666">25</text><line x1="379.2" y1="101.6" x2="379.2" y2="181.4" stroke="#e6e6e6" stroke-width="0.35"/><text x="379.2" y="184.44" font-size="2.6" text-anchor="middle" fill="#666">30</text><line x1="396" y1="101.6" x2="396" y2="181.4" stroke="#e6e6e6" stroke-width="0.35"/><text x="396" y="184.44" font-size="2.6" text-anchor="middle" fill="#666">35</text><line x1="412.8" y1="101.6" x2="412.8" y2="181.4" stroke="#e6e6e6" stroke-width="0.35"/><text x="412.8" y="184.44" font-size="2.6" text-anchor="middle" fill="#666">40</text><line x1="277.4" y1="102" x2="412.8" y2="102" stroke="#ececec" stroke-width="0.3"/><line x1="277.4" y1="108" x2="412.8" y2="108" stroke="#ececec" stroke-width="0.3"/><line x1="277.4" y1="114" x2="412.8" y2="114" stroke="#ececec" stroke-width="0.3"/><line x1="277.4" y1="120" x2="412.8" y2="120" stroke="#ececec" stroke-width="0.3"/><line x1="277.4" y1="126" x2="412.8" y2="126" stroke="#ececec" stroke-width="0.3"/><line x1="277.4" y1="132" x2="412.8" y2="132" stroke="#ececec" stroke-width="0.3"/><line x1="277.4" y1="138" x2="412.8" y2="138" stroke="#ececec" stroke-width="0.3"/><line x1="277.4" y1="144" x2="412.8" y2="144" stroke="#ececec" stroke-width="0.3"/><line x1="277.4" y1="150" x2="412.8" y2="150" stroke="#ececec" stroke-width="0.3"/><line x1="277.4" y1="156" x2="412.8" y2="156" stroke="#ececec" stroke-width="0.3"/><line x1="277.4" y1="162" x2="412.8" y2="162" stroke="#ececec" stroke-width="0.3"/><line x1="277.4" y1="168" x2="412.8" y2="168" stroke="#ececec" stroke-width="0.3"/><line x1="277.4" y1="174" x2="412.8" y2="174" stroke="#ececec" stroke-width="0.3"/><line x1="277.4" y1="180" x2="412.8" y2="180" stroke="#ececec" stroke-width="0.3"/><rect x="278.4" y="102.38" width="3.8" height="2.25" fill="#79dbb0"/><rect x="278.4" y="105.38" width="0.5" height="2.25" fill="#79dbb0"/><rect x="278.4" y="108.38" width="15" height="2.25" fill="#79dbb0"/><rect x="278.4" y="111.38" width="3.15" height="2.25" fill="#79dbb0"/><rect x="278.4" y="114.38" width="10.9" height="2.25" fill="#79dbb0"/><rect x="278.4" y="120.38" width="134.4" height="2.25" fill="#79dbb0"/><rect x="278.4" y="123.38" width="107.5" height="2.25" fill="#79dbb0"/><rect x="278.4" y="126.38" width="75.9" height="2.25" fill="#79dbb0"/><rect x="278.4" y="129.38" width="49.9" height="2.25" fill="#79dbb0"/><rect x="278.4" y="132.38" width="36.5" height="2.25" fill="#79dbb0"/><rect x="278.4" y="135.38" width="1.9" height="2.25" fill="#79dbb0"/><rect x="278.4" y="150.38" width="1.9" height="2.25" fill="#79dbb0"/><rect x="278.4" y="156.38" width="46.9" height="2.25" fill="#79dbb0"/><rect x="278.4" y="159.38" width="43.15" height="2.25" fill="#79dbb0"/><rect x="278.4" y="165.38" width="3.9" height="2.25" fill="#79dbb0"/><rect x="278.4" y="168.38" width="0.5" height="2.25" fill="#79dbb0"/><rect x="278.4" y="177.38" width="58.4" height="2.25" fill="#79dbb0"/><text x="276.3" y="104.44" font-size="2.6" text-anchor="end" textLength="36.29" lengthAdjust="spacingAndGlyphs" fill="#666">LG001 Allgemeine Innere Medizin</text><text x="276.3" y="110.44" font-size="2.6" text-anchor="end" textLength="38.58" lengthAdjust="spacingAndGlyphs" fill="#666">LG003 Komplexe Gastroenterologie</text><text x="276.3" y="116.44" font-size="2.6" text-anchor="end" textLength="33.47" lengthAdjust="spacingAndGlyphs" fill="#666">LG005 Komplexe Pneumologie</text><text x="276.3" y="122.44" font-size="2.6" text-anchor="end" textLength="22.31" lengthAdjust="spacingAndGlyphs" fill="#666">LG010 EPU/Ablation</text><text x="276.3" y="128.44" font-size="2.6" text-anchor="end" textLength="26.08" lengthAdjust="spacingAndGlyphs" fill="#666">LG012 Kardiale Devices</text><text x="276.3" y="134.44" font-size="2.6" text-anchor="end" textLength="38.31" lengthAdjust="spacingAndGlyphs" fill="#666">LG014 Kinder- und Jugendchirurgie</text><text x="276.3" y="140.44" font-size="2.6" text-anchor="end" textLength="48.25" lengthAdjust="spacingAndGlyphs" fill="#666">LG020 Komplexe periphere arterielle Gefäße</text><text x="276.3" y="146.44" font-size="2.6" text-anchor="end" textLength="30.47" lengthAdjust="spacingAndGlyphs" fill="#666">LG028 Wirbelsäuleneingriffe</text><text x="276.3" y="152.44" font-size="2.6" text-anchor="end" textLength="45.03" lengthAdjust="spacingAndGlyphs" fill="#666">LG030 Haut- und Geschlechtskrankheiten</text><text x="276.3" y="158.44" font-size="2.6" text-anchor="end" textLength="16.94" lengthAdjust="spacingAndGlyphs" fill="#666">LG038 Urologie</text><text x="276.3" y="164.44" font-size="2.6" text-anchor="end" textLength="19.89" lengthAdjust="spacingAndGlyphs" fill="#666">LG052 Stroke Unit</text><text x="276.3" y="170.44" font-size="2.6" text-anchor="end" textLength="13.3" lengthAdjust="spacingAndGlyphs" fill="#666">LG053 HNO</text><text x="276.3" y="176.44" font-size="2.6" text-anchor="end" textLength="32.13" lengthAdjust="spacingAndGlyphs" fill="#666">LG065 Allgemeine Neurologie</text><text x="212.8" y="207.45" font-size="5.15" textLength="97.1" lengthAdjust="spacingAndGlyphs" fill="#1f1f1f" stroke="#1f1f1f" stroke-width="0.16" stroke-linejoin="round">Ambulantes Potenzial nach Hauptprozeduren</text><g fill="#f7a541" opacity="0.9"><circle cx="410.3" cy="204.12" r="0.4"/><circle cx="410.3" cy="205.5" r="0.4"/><circle cx="410.3" cy="206.88" r="0.4"/></g><rect x="295.3" y="213.2" width="7.75" height="2.6" fill="#8fcdf9"/><text x="304.4" y="215.49" font-size="2.75" textLength="29.3" lengthAdjust="spacingAndGlyphs" fill="#666">davon Hybrid-DRG-Fallzahl</text><line x1="219.2" y1="218" x2="414.5" y2="218" stroke="#e6e6e6" stroke-width="0.35"/><text x="218.3" y="218.79" font-size="2.2" text-anchor="end" fill="#666">25</text><line x1="219.2" y1="221.9" x2="414.5" y2="221.9" stroke="#e6e6e6" stroke-width="0.35"/><text x="218.3" y="222.69" font-size="2.2" text-anchor="end" fill="#666">20</text><line x1="219.2" y1="225.8" x2="414.5" y2="225.8" stroke="#e6e6e6" stroke-width="0.35"/><text x="218.3" y="226.59" font-size="2.2" text-anchor="end" fill="#666">15</text><line x1="219.2" y1="229.7" x2="414.5" y2="229.7" stroke="#e6e6e6" stroke-width="0.35"/><text x="218.3" y="230.49" font-size="2.2" text-anchor="end" fill="#666">10</text><line x1="219.2" y1="233.6" x2="414.5" y2="233.6" stroke="#e6e6e6" stroke-width="0.35"/><text x="218.3" y="234.39" font-size="2.2" text-anchor="end" fill="#666">5</text><line x1="219.2" y1="237.5" x2="414.5" y2="237.5" stroke="#e6e6e6" stroke-width="0.35"/><text x="218.3" y="238.29" font-size="2.2" text-anchor="end" fill="#666">0</text><line x1="220.8" y1="218" x2="220.8" y2="238.5" stroke="#ececec" stroke-width="0.3"/><rect x="222.2" y="219.38" width="6.85" height="18.12" fill="#8fcdf9"/><text x="225.6" y="242.36" font-size="2.4" text-anchor="middle" textLength="5.71" lengthAdjust="spacingAndGlyphs" fill="#666">5-891</text><line x1="230.49" y1="218" x2="230.49" y2="238.5" stroke="#ececec" stroke-width="0.3"/><rect x="231.89" y="219.75" width="6.85" height="17.75" fill="#8fcdf9"/><text x="235.29" y="242.36" font-size="2.4" text-anchor="middle" textLength="5.71" lengthAdjust="spacingAndGlyphs" fill="#666">5-897</text><line x1="240.18" y1="218" x2="240.18" y2="238.5" stroke="#ececec" stroke-width="0.3"/><rect x="241.58" y="220.25" width="6.85" height="17.25" fill="#8fcdf9"/><text x="244.98" y="242.36" font-size="2.4" text-anchor="middle" textLength="5.71" lengthAdjust="spacingAndGlyphs" fill="#666">1-672</text><line x1="249.87" y1="218" x2="249.87" y2="238.5" stroke="#ececec" stroke-width="0.3"/><rect x="251.27" y="220.62" width="6.85" height="16.88" fill="#8fcdf9"/><text x="254.67" y="242.36" font-size="2.4" text-anchor="middle" textLength="5.71" lengthAdjust="spacingAndGlyphs" fill="#666">5-535</text><line x1="259.56" y1="218" x2="259.56" y2="238.5" stroke="#ececec" stroke-width="0.3"/><rect x="260.96" y="220.75" width="6.85" height="16.75" fill="#8fcdf9"/><text x="264.36" y="242.36" font-size="2.4" text-anchor="middle" textLength="5.71" lengthAdjust="spacingAndGlyphs" fill="#666">8-836</text><line x1="269.25" y1="218" x2="269.25" y2="238.5" stroke="#ececec" stroke-width="0.3"/><rect x="270.65" y="221.62" width="6.85" height="15.88" fill="#8fcdf9"/><text x="274.05" y="242.36" font-size="2.4" text-anchor="middle" textLength="5.71" lengthAdjust="spacingAndGlyphs" fill="#666">5-385</text><line x1="278.94" y1="218" x2="278.94" y2="238.5" stroke="#ececec" stroke-width="0.3"/><rect x="280.34" y="222.25" width="6.85" height="15.25" fill="#8fcdf9"/><text x="283.74" y="242.36" font-size="2.4" text-anchor="middle" textLength="5.71" lengthAdjust="spacingAndGlyphs" fill="#666">5-056</text><line x1="288.63" y1="218" x2="288.63" y2="238.5" stroke="#ececec" stroke-width="0.3"/><rect x="290.03" y="222.5" width="6.85" height="15" fill="#8fcdf9"/><text x="293.43" y="242.36" font-size="2.4" text-anchor="middle" textLength="5.71" lengthAdjust="spacingAndGlyphs" fill="#666">5-530</text><line x1="298.32" y1="218" x2="298.32" y2="238.5" stroke="#ececec" stroke-width="0.3"/><rect x="299.72" y="222.5" width="6.85" height="15" fill="#8fcdf9"/><text x="303.12" y="242.36" font-size="2.4" text-anchor="middle" textLength="5.54" lengthAdjust="spacingAndGlyphs" fill="#666">5-811</text><line x1="308.01" y1="218" x2="308.01" y2="238.5" stroke="#ececec" stroke-width="0.3"/><rect x="309.41" y="222.5" width="6.85" height="15" fill="#8fcdf9"/><text x="312.81" y="242.36" font-size="2.4" text-anchor="middle" textLength="5.71" lengthAdjust="spacingAndGlyphs" fill="#666">1-631</text><line x1="317.7" y1="218" x2="317.7" y2="238.5" stroke="#ececec" stroke-width="0.3"/><rect x="319.1" y="223.25" width="6.85" height="14.25" fill="#8fcdf9"/><text x="322.5" y="242.36" font-size="2.4" text-anchor="middle" textLength="5.71" lengthAdjust="spacingAndGlyphs" fill="#666">5-581</text><line x1="327.39" y1="218" x2="327.39" y2="238.5" stroke="#ececec" stroke-width="0.3"/><rect x="328.79" y="223.25" width="6.85" height="14.25" fill="#8fcdf9"/><text x="332.19" y="242.36" font-size="2.4" text-anchor="middle" textLength="5.71" lengthAdjust="spacingAndGlyphs" fill="#666">5-851</text><line x1="337.08" y1="218" x2="337.08" y2="238.5" stroke="#ececec" stroke-width="0.3"/><rect x="338.48" y="223.25" width="6.85" height="14.25" fill="#8fcdf9"/><text x="341.88" y="242.36" font-size="2.4" text-anchor="middle" textLength="5.71" lengthAdjust="spacingAndGlyphs" fill="#666">5-469</text><line x1="346.77" y1="218" x2="346.77" y2="238.5" stroke="#ececec" stroke-width="0.3"/><rect x="348.17" y="223.25" width="6.85" height="14.25" fill="#8fcdf9"/><text x="351.57" y="242.36" font-size="2.4" text-anchor="middle" textLength="5.71" lengthAdjust="spacingAndGlyphs" fill="#666">5-534</text><line x1="356.46" y1="218" x2="356.46" y2="238.5" stroke="#ececec" stroke-width="0.3"/><rect x="357.86" y="223.25" width="6.85" height="14.25" fill="#8fcdf9"/><text x="361.26" y="242.36" font-size="2.4" text-anchor="middle" textLength="5.71" lengthAdjust="spacingAndGlyphs" fill="#666">8-137</text><line x1="366.15" y1="218" x2="366.15" y2="238.5" stroke="#ececec" stroke-width="0.3"/><rect x="367.55" y="223.5" width="6.85" height="14" fill="#8fcdf9"/><text x="370.95" y="242.36" font-size="2.4" text-anchor="middle" textLength="5.71" lengthAdjust="spacingAndGlyphs" fill="#666">5-859</text><line x1="375.84" y1="218" x2="375.84" y2="238.5" stroke="#ececec" stroke-width="0.3"/><rect x="377.24" y="224" width="6.85" height="13.5" fill="#8fcdf9"/><text x="380.64" y="242.36" font-size="2.4" text-anchor="middle" textLength="5.71" lengthAdjust="spacingAndGlyphs" fill="#666">5-399</text><line x1="385.53" y1="218" x2="385.53" y2="238.5" stroke="#ececec" stroke-width="0.3"/><rect x="386.93" y="224" width="6.85" height="13.5" fill="#8fcdf9"/><text x="390.33" y="242.36" font-size="2.4" text-anchor="middle" textLength="5.71" lengthAdjust="spacingAndGlyphs" fill="#666">5-841</text><line x1="395.22" y1="218" x2="395.22" y2="238.5" stroke="#ececec" stroke-width="0.3"/><rect x="396.62" y="224.38" width="6.85" height="13.12" fill="#8fcdf9"/><text x="400.02" y="242.36" font-size="2.4" text-anchor="middle" textLength="5.71" lengthAdjust="spacingAndGlyphs" fill="#666">5-056</text><line x1="404.91" y1="218" x2="404.91" y2="238.5" stroke="#ececec" stroke-width="0.3"/><rect x="406.31" y="224.62" width="6.85" height="12.88" fill="#8fcdf9"/><text x="409.71" y="242.36" font-size="2.4" text-anchor="middle" textLength="5.71" lengthAdjust="spacingAndGlyphs" fill="#666">1-650</text><rect x="-1" y="-1" width="424.3" height="14" fill="#f3f3f3"/><g fill="none" stroke="#8d8d8d" stroke-width="0.55" stroke-linecap="round" stroke-linejoin="round"><rect x="4.6" y="4.2" width="4.6" height="3.6" rx="0.8"/><path d="M6.3 4.2V7.8"/><path d="M12.7 5.7l0.8 0.8l0.8-0.8" stroke-width="0.5"/><path d="M22.1 4.4l-1.6 1.6l1.6 1.6"/><path d="M29.1 4.4l1.6 1.6l-1.6 1.6" stroke="#cfcfcf"/><circle cx="389.4" cy="6" r="1.7"/><path d="M388.5 6h1.8M389.4 5.1v1.8" stroke-width="0.4"/><path d="M396.8 5.6v2.4h2.9v-2.4M398.2 3.8v2.8M397.4 4.5l0.8-0.8l0.8 0.8"/><path d="M405.3 6h3M406.8 4.5v3"/><rect x="414.9" y="5.1" width="2.7" height="2.7" rx="0.6"/><path d="M413.9 6.9v-2.1a0.6 0.6 0 0 1 0.6-0.6h2.1"/></g><rect x="125.65" y="3.1" width="170.85" height="6.3" rx="1.5" fill="#ededed" stroke="#e6e6e6" stroke-width="0.3"/><path d="M295.1 6.1a1.15 1.15 0 1 1-0.45-0.85M294.85 4.6v0.8h-0.8" fill="none" stroke="#8d8d8d" stroke-width="0.4"/><rect x="-1" y="12.5" width="424.3" height="10" fill="#47286f"/><rect x="-1" y="22.5" width="424.3" height="5" fill="url(#gShadow)"/><g stroke="#d9d2e6" stroke-width="0.45"><path d="M6.6 16.7h2.6M6.6 17.55h2.6M6.6 18.4h2.6"/></g><text x="15.9" y="18.85" font-size="3.6" font-weight="700" textLength="21.4" lengthAdjust="spacingAndGlyphs" fill="#fff">BinDoc Meta</text><text x="399.3" y="18.7" font-size="3.2" text-anchor="end" font-weight="700" textLength="20.3" lengthAdjust="spacingAndGlyphs" fill="#fff">Live Analytics</text><g fill="none" stroke="#e6e0ef" stroke-width="0.45"><circle cx="404.7" cy="17.5" r="1.4"/><path d="M404.7 16.7v0.8h0.7"/><circle cx="414.3" cy="17.5" r="1.15" stroke-width="0.8" stroke-dasharray="0.6 0.3"/></g><text x="140.65" y="269.29" font-size="2.2" font-weight="700" textLength="7.6" lengthAdjust="spacingAndGlyphs" fill="#222">© 2025</text><text x="141" y="271.36" font-size="2.1" textLength="7.2" lengthAdjust="spacingAndGlyphs" fill="#999">/ Login /</text><text x="151" y="270.49" font-size="2.75" textLength="15.9" lengthAdjust="spacingAndGlyphs" fill="#8a8a8a">BinDoc GmbH</text><text x="171.5" y="270.49" font-size="2.75" textLength="14.15" lengthAdjust="spacingAndGlyphs" fill="#8a8a8a">Datenschutz</text><text x="190.5" y="270.49" font-size="2.75" textLength="17.3" lengthAdjust="spacingAndGlyphs" fill="#8a8a8a">Dokumentation</text><text x="212.6" y="270.49" font-size="2.75" textLength="13.3" lengthAdjust="spacingAndGlyphs" fill="#8a8a8a">Impressum</text><text x="230.3" y="270.49" font-size="2.75" textLength="25" lengthAdjust="spacingAndGlyphs" fill="#8a8a8a">Ambulante Lösungen</text><text x="258" y="270.49" font-size="2.75" textLength="23.5" lengthAdjust="spacingAndGlyphs" fill="#8a8a8a">Cookie Einstellungen</text><rect x="395.3" y="262.5" width="22" height="2" fill="#f7941d"/></g></g><g class="notch"><path d="M859.1 316.5 L859.1 324.1 A2.4 2.4 0 0 0 861.5 326.5 L908.85 326.5 A2.4 2.4 0 0 0 911.25 324.1 L911.25 316.5 Z" fill="#050505"/><circle cx="885.17" cy="320.92" r="1.17" fill="#1c1c1e"/></g></svg>
<svg class="laptop c" width="1280" height="720" viewBox="0 0 1280 720"><defs><clipPath id="clip_c"><path d="M372 587.25 L372 262.1 A6.5 6.5 0 0 1 378.5 255.6 L876.5 255.6 A6.5 6.5 0 0 1 883 262.1 L883 587.25 Z"/></clipPath></defs><g class="base"><path d="M355 629.4 L396 629.4 Q395.4 633.62 392.5 633.62 L358.5 633.62 Q355.6 633.62 355 629.4 Z" fill="url(#gFoot)"/><path d="M857.75 629.4 L899.75 629.4 Q899.15 633.62 896.25 633.62 L861.25 633.62 Q858.35 633.62 857.75 629.4 Z" fill="url(#gFoot)"/><clipPath id="bclip_c"><path d="M315.7 607.4 L938.55 607.4 A1.2 1.2 0 0 1 939.75 608.6 L939.75 619.08 A11.5 10.92 0 0 1 928.25 630 L326 630 A11.5 10.92 0 0 1 314.5 619.08 L314.5 608.6 A1.2 1.2 0 0 1 315.7 607.4 Z"/></clipPath><g clip-path="url(#bclip_c)"><rect x="314.5" y="607.4" width="625.25" height="22.6" fill="url(#gBase)"/><rect x="314.5" y="607.4" width="19" height="22.6" fill="url(#gCapL)"/><rect x="920.75" y="607.4" width="19" height="22.6" fill="url(#gCapR)"/><rect x="314.5" y="607.4" width="625.25" height="0.7" fill="#e2e3e5" opacity="0.8"/><path d="M573.75 606.4 L573.75 611.8 A3.2 3.2 0 0 0 576.95 615 L676.8 615 A3.2 3.2 0 0 0 680 611.8 L680 606.4 Z" fill="url(#gCut)" stroke="#8f9092" stroke-width="0.5" stroke-opacity="0.55"/></g></g><g class="lid"><path d="M363.75 607.4 L363.75 261 A13.5 13.5 0 0 1 377.25 247.5 L877.75 247.5 A13.5 13.5 0 0 1 891.25 261 L891.25 607.4 Z" fill="#050505"/><rect x="363.75" y="593" width="527.5" height="14.4" fill="url(#gHinge)"/><line x1="364.1" y1="588.75" x2="364.1" y2="607.4" stroke="#a9aaac" stroke-width="0.9" opacity="0.85"/><line x1="890.9" y1="588.75" x2="890.9" y2="607.4" stroke="#a9aaac" stroke-width="0.9" opacity="0.85"/></g><g clip-path="url(#clip_c)"><g class="screen"><rect x="371" y="254.6" width="513" height="333.65" fill="#fff"/><g fill="none" stroke="#8d8d8d" stroke-width="0.6" stroke-linecap="round" stroke-linejoin="round"><rect x="377.6" y="261" width="5.3" height="3.9" rx="0.9"/><path d="M379.5 261V264.9"/><path d="M387 262.5l1 1l1-1" stroke-width="0.55"/><path d="M398.8 261.1l-1.8 1.8l1.8 1.8"/><path d="M406.9 261.1l1.8 1.8l-1.8 1.8" stroke="#cfcfcf"/><path d="M852 262.4v2.6h3.2v-2.6M853.6 260.4v3M852.7 261.2l0.9-0.9l0.9 0.9"/><path d="M862.4 262.9h3.4M864.1 261.2v3.4"/><rect x="874.1" y="261.9" width="3" height="3" rx="0.7"/><path d="M873 263.9v-2.4a0.7 0.7 0 0 1 0.7-0.7h2.4"/></g><rect x="524.4" y="258.75" width="206.2" height="7.75" rx="1.8" fill="#f6f6f6" stroke="#ebebeb" stroke-width="0.4"/><path d="M728.9 262.6a1.3 1.3 0 1 1-0.5-0.95M728.6 260.9v0.9h-0.9" fill="none" stroke="#8d8d8d" stroke-width="0.45"/><rect x="371" y="270.6" width="513" height="24.4" fill="#47286f"/><rect x="371" y="281.4" width="513" height="3.4" fill="url(#gShadow)" opacity="1"/><rect x="371" y="295" width="513" height="2.4" fill="url(#gShadow)" opacity="0.7"/><g stroke="#d9d2e6" stroke-width="0.5"><path d="M378.6 275h2.9M378.6 276h2.9M378.6 277h2.9"/></g><text x="388.75" y="277.44" font-size="4" font-weight="700" textLength="23.4" lengthAdjust="spacingAndGlyphs" fill="#fff">BinDoc Meta</text><text x="858.4" y="277.26" font-size="3.5" text-anchor="end" font-weight="700" textLength="22.4" lengthAdjust="spacingAndGlyphs" fill="#fff">Live Analytics</text><g fill="none" stroke="#e6e0ef" stroke-width="0.5"><circle cx="864" cy="276" r="1.55"/><path d="M864 275.1v0.9h0.8"/><circle cx="874.4" cy="276" r="1.3" stroke-width="0.9" stroke-dasharray="0.7 0.32"/></g><text x="375" y="290" font-size="4.45" font-weight="700" textLength="192.9" lengthAdjust="spacingAndGlyphs" fill="#fff">Dashboard - Potenzialanalyse: AOP-Katalog 2025 &amp; Hybrid-DRG Katalog 2025/2026 [Beispielklinik]</text><g transform="translate(843.5 288.4) rotate(45) scale(0.85)" fill="#2f1b4b"><rect x="-0.75" y="-2.6" width="1.5" height="3.6" rx="0.2"/><path d="M-0.75 1.3 L0.75 1.3 L0 2.6 Z"/></g><g fill="none" stroke="#fff" stroke-width="0.6"><rect x="852.9" y="287.1" width="2.7" height="3.4" rx="0.5"/><path d="M852 289.3v-2.6a0.5 0.5 0 0 1 0.5-0.5h2"/></g><path d="M862.3 286.6h3l0.7 0.7v2.9h-3.7z" fill="#fff"/><rect x="863" y="286.6" width="1.7" height="1.1" fill="#47286f"/><g fill="#fff"><circle cx="874.4" cy="287.24" r="0.34"/><circle cx="874.4" cy="288.4" r="0.34"/><circle cx="874.4" cy="289.56" r="0.34"/></g><rect x="376.9" y="301.25" width="490.6" height="12" rx="0.8" fill="#f2f3f5"/><rect x="376.9" y="312.9" width="490.6" height="0.75" fill="#f9c583"/><text x="379.4" y="304.96" font-size="2.4" font-weight="700" fill="#f7941d">Wert</text><text x="379.4" y="310.3" font-size="3.6" textLength="36.3" lengthAdjust="spacingAndGlyphs" fill="#333">H-DRG (Katalog 2025)</text><path d="M861.3 306.5l1.45 1.4l1.45-1.4" fill="none" stroke="#555" stroke-width="0.55"/><g fill="#f7a541"><circle cx="872.5" cy="308.37" r="0.36"/><circle cx="872.5" cy="309.6" r="0.36"/><circle cx="872.5" cy="310.83" r="0.36"/></g><line x1="377" y1="330.4" x2="862" y2="330.4" stroke="#e9e9e9" stroke-width="0.5"/><g transform="translate(872.5 331) rotate(45) scale(0.95)" fill="#f7941d"><rect x="-0.75" y="-2.6" width="1.5" height="3.6" rx="0.2"/><path d="M-0.75 1.3 L0.75 1.3 L0 2.6 Z"/></g><text x="379.4" y="345.97" font-size="5.2" textLength="27.5" lengthAdjust="spacingAndGlyphs" fill="#1f1f1f" stroke="#1f1f1f" stroke-width="0.16" stroke-linejoin="round">Anzahl Fälle</text><g fill="#f7a541" opacity="0.95"><circle cx="452.5" cy="342.55" r="0.42"/><circle cx="452.5" cy="344" r="0.42"/><circle cx="452.5" cy="345.45" r="0.42"/></g><g transform="translate(418.5 370.5) scale(1 1.05)"><circle cx="0" cy="0" r="17" fill="none" stroke="#1d5c7e" stroke-width="5"/><line x1="0.15" y1="-19.5" x2="0.15" y2="-15.25" stroke="#dfe9ee" stroke-width="0.45"/></g><text x="418.5" y="372.08" font-size="4.1" text-anchor="middle" font-weight="700" textLength="25" lengthAdjust="spacingAndGlyphs" fill="#2a2a2a">16996 / 16996</text><text x="462.75" y="345.97" font-size="5.2" textLength="30.4" lengthAdjust="spacingAndGlyphs" fill="#1f1f1f" stroke="#1f1f1f" stroke-width="0.16" stroke-linejoin="round">davon H-DRG</text><g fill="#f7a541" opacity="0.95"><circle cx="536" cy="342.55" r="0.42"/><circle cx="536" cy="344" r="0.42"/><circle cx="536" cy="345.45" r="0.42"/></g><g transform="translate(501.9 370.5) scale(1 1.05)"><circle cx="0" cy="0" r="17" fill="none" stroke="#b3b3b3" stroke-width="5"/><path d="M0.45 -16.99 A17 17 0 0 1 7.89 -15.06" fill="none" stroke="#9900f0" stroke-width="5"/></g><text x="501.9" y="372.08" font-size="4.1" text-anchor="middle" font-weight="700" textLength="22.9" lengthAdjust="spacingAndGlyphs" fill="#2a2a2a">1234 / 16996</text><text x="546.25" y="345.97" font-size="5.2" textLength="11.25" lengthAdjust="spacingAndGlyphs" fill="#1f1f1f" stroke="#1f1f1f" stroke-width="0.16" stroke-linejoin="round">CMP</text><g fill="#f7a541" opacity="0.95"><circle cx="619.6" cy="342.55" r="0.42"/><circle cx="619.6" cy="344" r="0.42"/><circle cx="619.6" cy="345.45" r="0.42"/></g><g transform="translate(585.3 370.5) scale(1 1.05)"><circle cx="0" cy="0" r="17" fill="none" stroke="#1d5c7e" stroke-width="5"/><line x1="0.15" y1="-19.5" x2="0.15" y2="-15.25" stroke="#dfe9ee" stroke-width="0.45"/></g><text x="585.3" y="372.08" font-size="4.1" text-anchor="middle" font-weight="700" textLength="25" lengthAdjust="spacingAndGlyphs" fill="#2a2a2a">16405 / 16405</text><text x="629.75" y="345.97" font-size="5.2" textLength="30.4" lengthAdjust="spacingAndGlyphs" fill="#1f1f1f" stroke="#1f1f1f" stroke-width="0.16" stroke-linejoin="round">davon H-DRG</text><g fill="#f7a541" opacity="0.95"><circle cx="703" cy="342.55" r="0.42"/><circle cx="703" cy="344" r="0.42"/><circle cx="703" cy="345.45" r="0.42"/></g><g transform="translate(668.7 370.5) scale(1 1.05)"><circle cx="0" cy="0" r="17" fill="none" stroke="#b3b3b3" stroke-width="5"/><path d="M0.45 -16.99 A17 17 0 0 1 5.53 -16.08" fill="none" stroke="#9900f0" stroke-width="5"/></g><text x="668.7" y="372.08" font-size="4.1" text-anchor="middle" font-weight="700" textLength="20.8" lengthAdjust="spacingAndGlyphs" fill="#2a2a2a">796 / 16405</text><text x="713" y="345.97" font-size="5.2" textLength="34.5" lengthAdjust="spacingAndGlyphs" fill="#1f1f1f" stroke="#1f1f1f" stroke-width="0.16" stroke-linejoin="round">Belegungstage</text><g fill="#f7a541" opacity="0.95"><circle cx="786.5" cy="342.55" r="0.42"/><circle cx="786.5" cy="344" r="0.42"/><circle cx="786.5" cy="345.45" r="0.42"/></g><g transform="translate(752.1 370.5) scale(1 1.05)"><circle cx="0" cy="0" r="17" fill="none" stroke="#1d5c7e" stroke-width="5"/><line x1="0.15" y1="-19.5" x2="0.15" y2="-15.25" stroke="#dfe9ee" stroke-width="0.45"/></g><text x="752.1" y="372.08" font-size="4.1" text-anchor="middle" font-weight="700" textLength="30" lengthAdjust="spacingAndGlyphs" fill="#2a2a2a">101789 / 101789</text><text x="796.25" y="345.97" font-size="5.2" textLength="30.4" lengthAdjust="spacingAndGlyphs" fill="#1f1f1f" stroke="#1f1f1f" stroke-width="0.16" stroke-linejoin="round">davon H-DRG</text><g fill="#f7a541" opacity="0.95"><circle cx="869.75" cy="342.55" r="0.42"/><circle cx="869.75" cy="344" r="0.42"/><circle cx="869.75" cy="345.45" r="0.42"/></g><g transform="translate(835.5 370.5) scale(1 1.05)"><circle cx="0" cy="0" r="17" fill="none" stroke="#b3b3b3" stroke-width="5"/><path d="M0.45 -16.99 A17 17 0 0 1 2.34 -16.84" fill="none" stroke="#9900f0" stroke-width="5"/></g><text x="835.5" y="372.08" font-size="4.1" text-anchor="middle" font-weight="700" textLength="24.75" lengthAdjust="spacingAndGlyphs" fill="#2a2a2a">1817 / 101789</text><line x1="377" y1="399.4" x2="862" y2="399.4" stroke="#e9e9e9" stroke-width="0.5"/><g transform="translate(872.5 399.8) rotate(45) scale(0.95)" fill="#f7941d"><rect x="-0.75" y="-2.6" width="1.5" height="3.6" rx="0.2"/><path d="M-0.75 1.3 L0.75 1.3 L0 2.6 Z"/></g><text x="379.4" y="414.77" font-size="5.2" textLength="46.4" lengthAdjust="spacingAndGlyphs" fill="#1f1f1f" stroke="#1f1f1f" stroke-width="0.16" stroke-linejoin="round">Anzahl Fälle pro FAB</text><g fill="#f7a541" opacity="0.95"><circle cx="536" cy="411.05" r="0.42"/><circle cx="536" cy="412.5" r="0.42"/><circle cx="536" cy="413.95" r="0.42"/></g><rect x="456.9" y="420.6" width="8.2" height="3.2" fill="#1d5c7e"/><text x="466.5" y="423.27" font-size="2.7" textLength="8.65" lengthAdjust="spacingAndGlyphs" fill="#666">Fallzahl</text><line x1="432.25" y1="426" x2="432.25" y2="565.6" stroke="#e4e4e4" stroke-width="0.35"/><line x1="449.85" y1="426" x2="449.85" y2="565.6" stroke="#e4e4e4" stroke-width="0.35"/><line x1="467.45" y1="426" x2="467.45" y2="565.6" stroke="#e4e4e4" stroke-width="0.35"/><line x1="485.05" y1="426" x2="485.05" y2="565.6" stroke="#e4e4e4" stroke-width="0.35"/><line x1="502.65" y1="426" x2="502.65" y2="565.6" stroke="#e4e4e4" stroke-width="0.35"/><line x1="520.25" y1="426" x2="520.25" y2="565.6" stroke="#e4e4e4" stroke-width="0.35"/><line x1="537.85" y1="426" x2="537.85" y2="565.6" stroke="#e4e4e4" stroke-width="0.35"/><line x1="431.05" y1="448.52" x2="537.85" y2="448.52" stroke="#e7e7e7" stroke-width="0.35"/><line x1="431.05" y1="471.64" x2="537.85" y2="471.64" stroke="#e7e7e7" stroke-width="0.35"/><line x1="431.05" y1="494.76" x2="537.85" y2="494.76" stroke="#e7e7e7" stroke-width="0.35"/><line x1="431.05" y1="517.88" x2="537.85" y2="517.88" stroke="#e7e7e7" stroke-width="0.35"/><line x1="431.05" y1="541" x2="537.85" y2="541" stroke="#e7e7e7" stroke-width="0.35"/><line x1="431.05" y1="564.12" x2="537.85" y2="564.12" stroke="#e7e7e7" stroke-width="0.35"/><rect x="432.25" y="428.85" width="96.25" height="16.3" fill="#1d5c7e"/><text x="430" y="437.94" font-size="2.6" text-anchor="end" textLength="15.86" lengthAdjust="spacingAndGlyphs" fill="#666">Innere Medizin</text><rect x="432.25" y="451.97" width="56.5" height="16.3" fill="#1d5c7e"/><text x="430" y="461.06" font-size="2.6" text-anchor="end" textLength="36.43" lengthAdjust="spacingAndGlyphs" fill="#666">Frauenheilkunde und Geburtshilfe</text><rect x="432.25" y="475.09" width="48.75" height="16.3" fill="#1d5c7e"/><text x="430" y="484.18" font-size="2.6" text-anchor="end" textLength="11.69" lengthAdjust="spacingAndGlyphs" fill="#666">Neurologie</text><rect x="432.25" y="498.21" width="35.65" height="16.3" fill="#1d5c7e"/><text x="430" y="507.3" font-size="2.6" text-anchor="end" textLength="11.96" lengthAdjust="spacingAndGlyphs" fill="#666">Orthopädie</text><rect x="432.25" y="521.33" width="33" height="16.3" fill="#1d5c7e"/><text x="430" y="530.42" font-size="2.6" text-anchor="end" textLength="15.99" lengthAdjust="spacingAndGlyphs" fill="#666">Gefäßchirurgie</text><rect x="432.25" y="544.45" width="28.75" height="16.3" fill="#1d5c7e"/><text x="430" y="553.54" font-size="2.6" text-anchor="end" textLength="19.89" lengthAdjust="spacingAndGlyphs" fill="#666">Allgemeinchirurgie</text><text x="432.25" y="569.44" font-size="2.6" text-anchor="middle" textLength="1.34" lengthAdjust="spacingAndGlyphs" fill="#666">0</text><text x="449.85" y="569.44" font-size="2.6" text-anchor="middle" textLength="6.05" lengthAdjust="spacingAndGlyphs" fill="#666">1.000</text><text x="467.45" y="569.44" font-size="2.6" text-anchor="middle" textLength="6.05" lengthAdjust="spacingAndGlyphs" fill="#666">2.000</text><text x="485.05" y="569.44" font-size="2.6" text-anchor="middle" textLength="6.05" lengthAdjust="spacingAndGlyphs" fill="#666">3.000</text><text x="502.65" y="569.44" font-size="2.6" text-anchor="middle" textLength="6.05" lengthAdjust="spacingAndGlyphs" fill="#666">4.000</text><text x="520.25" y="569.44" font-size="2.6" text-anchor="middle" textLength="6.05" lengthAdjust="spacingAndGlyphs" fill="#666">5.000</text><text x="537.85" y="569.44" font-size="2.6" text-anchor="middle" textLength="6.05" lengthAdjust="spacingAndGlyphs" fill="#666">6.000</text><text x="546.25" y="414.77" font-size="5.2" textLength="57.1" lengthAdjust="spacingAndGlyphs" fill="#1f1f1f" stroke="#1f1f1f" stroke-width="0.16" stroke-linejoin="round">H-DRG Potenzial pro FAB</text><g fill="#f7a541" opacity="0.95"><circle cx="703" cy="411.05" r="0.42"/><circle cx="703" cy="412.5" r="0.42"/><circle cx="703" cy="413.95" r="0.42"/></g><rect x="623.75" y="420.6" width="8.2" height="3.2" fill="#9900f0"/><text x="633.35" y="423.27" font-size="2.7" textLength="8.65" lengthAdjust="spacingAndGlyphs" fill="#666">Fallzahl</text><line x1="600" y1="426" x2="600" y2="565.6" stroke="#e4e4e4" stroke-width="0.35"/><line x1="610.56" y1="426" x2="610.56" y2="565.6" stroke="#e4e4e4" stroke-width="0.35"/><line x1="621.12" y1="426" x2="621.12" y2="565.6" stroke="#e4e4e4" stroke-width="0.35"/><line x1="631.68" y1="426" x2="631.68" y2="565.6" stroke="#e4e4e4" stroke-width="0.35"/><line x1="642.24" y1="426" x2="642.24" y2="565.6" stroke="#e4e4e4" stroke-width="0.35"/><line x1="652.8" y1="426" x2="652.8" y2="565.6" stroke="#e4e4e4" stroke-width="0.35"/><line x1="663.36" y1="426" x2="663.36" y2="565.6" stroke="#e4e4e4" stroke-width="0.35"/><line x1="673.92" y1="426" x2="673.92" y2="565.6" stroke="#e4e4e4" stroke-width="0.35"/><line x1="684.48" y1="426" x2="684.48" y2="565.6" stroke="#e4e4e4" stroke-width="0.35"/><line x1="695.04" y1="426" x2="695.04" y2="565.6" stroke="#e4e4e4" stroke-width="0.35"/><line x1="705.6" y1="426" x2="705.6" y2="565.6" stroke="#e4e4e4" stroke-width="0.35"/><line x1="598.8" y1="448.52" x2="705.6" y2="448.52" stroke="#e7e7e7" stroke-width="0.35"/><line x1="598.8" y1="471.64" x2="705.6" y2="471.64" stroke="#e7e7e7" stroke-width="0.35"/><line x1="598.8" y1="494.76" x2="705.6" y2="494.76" stroke="#e7e7e7" stroke-width="0.35"/><line x1="598.8" y1="517.88" x2="705.6" y2="517.88" stroke="#e7e7e7" stroke-width="0.35"/><line x1="598.8" y1="541" x2="705.6" y2="541" stroke="#e7e7e7" stroke-width="0.35"/><line x1="598.8" y1="564.12" x2="705.6" y2="564.12" stroke="#e7e7e7" stroke-width="0.35"/><rect x="600" y="428.85" width="102.75" height="16.3" fill="#9900f0"/><text x="597.75" y="437.94" font-size="2.6" text-anchor="end" textLength="19.89" lengthAdjust="spacingAndGlyphs" fill="#666">Allgemeinchirurgie</text><rect x="600" y="451.97" width="65" height="16.3" fill="#9900f0"/><text x="597.75" y="461.06" font-size="2.6" text-anchor="end" textLength="15.99" lengthAdjust="spacingAndGlyphs" fill="#666">Gefäßchirurgie</text><rect x="600" y="475.09" width="56.25" height="16.3" fill="#9900f0"/><text x="597.75" y="484.18" font-size="2.6" text-anchor="end" textLength="15.86" lengthAdjust="spacingAndGlyphs" fill="#666">Innere Medizin</text><rect x="600" y="498.21" width="20.6" height="16.3" fill="#9900f0"/><text x="597.75" y="507.3" font-size="2.6" text-anchor="end" textLength="36.43" lengthAdjust="spacingAndGlyphs" fill="#666">Frauenheilkunde und Geburtshilfe</text><rect x="600" y="521.33" width="15.25" height="16.3" fill="#9900f0"/><text x="597.75" y="530.42" font-size="2.6" text-anchor="end" textLength="11.96" lengthAdjust="spacingAndGlyphs" fill="#666">Orthopädie</text><rect x="600" y="544.45" width="0.5" height="16.3" fill="#9900f0" opacity="0.25"/><text x="597.75" y="553.54" font-size="2.6" text-anchor="end" textLength="11.69" lengthAdjust="spacingAndGlyphs" fill="#666">Neurologie</text><text x="600" y="569.44" font-size="2.6" text-anchor="middle" textLength="1.34" lengthAdjust="spacingAndGlyphs" fill="#666">0</text><text x="610.56" y="569.44" font-size="2.6" text-anchor="middle" textLength="2.69" lengthAdjust="spacingAndGlyphs" fill="#666">50</text><text x="621.12" y="569.44" font-size="2.6" text-anchor="middle" textLength="4.03" lengthAdjust="spacingAndGlyphs" fill="#666">100</text><text x="631.68" y="569.44" font-size="2.6" text-anchor="middle" textLength="4.03" lengthAdjust="spacingAndGlyphs" fill="#666">150</text><text x="642.24" y="569.44" font-size="2.6" text-anchor="middle" textLength="4.03" lengthAdjust="spacingAndGlyphs" fill="#666">200</text><text x="652.8" y="569.44" font-size="2.6" text-anchor="middle" textLength="4.03" lengthAdjust="spacingAndGlyphs" fill="#666">250</text><text x="663.36" y="569.44" font-size="2.6" text-anchor="middle" textLength="4.03" lengthAdjust="spacingAndGlyphs" fill="#666">300</text><text x="673.92" y="569.44" font-size="2.6" text-anchor="middle" textLength="4.03" lengthAdjust="spacingAndGlyphs" fill="#666">350</text><text x="684.48" y="569.44" font-size="2.6" text-anchor="middle" textLength="4.03" lengthAdjust="spacingAndGlyphs" fill="#666">400</text><text x="695.04" y="569.44" font-size="2.6" text-anchor="middle" textLength="4.03" lengthAdjust="spacingAndGlyphs" fill="#666">450</text><text x="705.6" y="569.44" font-size="2.6" text-anchor="middle" textLength="4.03" lengthAdjust="spacingAndGlyphs" fill="#666">500</text><text x="713.1" y="414.77" font-size="5.2" textLength="68.09" lengthAdjust="spacingAndGlyphs" fill="#1f1f1f" stroke="#1f1f1f" stroke-width="0.16" stroke-linejoin="round">H-DRG Potenzial pro FAB in %</text><g fill="#f7a541" opacity="0.95"><circle cx="869.75" cy="411.05" r="0.42"/><circle cx="869.75" cy="412.5" r="0.42"/><circle cx="869.75" cy="413.95" r="0.42"/></g><rect x="790" y="420.6" width="8.2" height="3.2" fill="#9900f0"/><text x="799.6" y="423.27" font-size="2.7" textLength="9.07" lengthAdjust="spacingAndGlyphs" fill="#666">% Anteil</text><line x1="766.9" y1="426" x2="766.9" y2="565.6" stroke="#e4e4e4" stroke-width="0.35"/><line x1="777.4" y1="426" x2="777.4" y2="565.6" stroke="#e4e4e4" stroke-width="0.35"/><line x1="787.9" y1="426" x2="787.9" y2="565.6" stroke="#e4e4e4" stroke-width="0.35"/><line x1="798.4" y1="426" x2="798.4" y2="565.6" stroke="#e4e4e4" stroke-width="0.35"/><line x1="808.9" y1="426" x2="808.9" y2="565.6" stroke="#e4e4e4" stroke-width="0.35"/><line x1="819.4" y1="426" x2="819.4" y2="565.6" stroke="#e4e4e4" stroke-width="0.35"/><line x1="829.9" y1="426" x2="829.9" y2="565.6" stroke="#e4e4e4" stroke-width="0.35"/><line x1="840.4" y1="426" x2="840.4" y2="565.6" stroke="#e4e4e4" stroke-width="0.35"/><line x1="850.9" y1="426" x2="850.9" y2="565.6" stroke="#e4e4e4" stroke-width="0.35"/><line x1="861.4" y1="426" x2="861.4" y2="565.6" stroke="#e4e4e4" stroke-width="0.35"/><line x1="871.9" y1="426" x2="871.9" y2="565.6" stroke="#e4e4e4" stroke-width="0.35"/><line x1="765.7" y1="448.52" x2="871.9" y2="448.52" stroke="#e7e7e7" stroke-width="0.35"/><line x1="765.7" y1="471.64" x2="871.9" y2="471.64" stroke="#e7e7e7" stroke-width="0.35"/><line x1="765.7" y1="494.76" x2="871.9" y2="494.76" stroke="#e7e7e7" stroke-width="0.35"/><line x1="765.7" y1="517.88" x2="871.9" y2="517.88" stroke="#e7e7e7" stroke-width="0.35"/><line x1="765.7" y1="541" x2="871.9" y2="541" stroke="#e7e7e7" stroke-width="0.35"/><line x1="765.7" y1="564.12" x2="871.9" y2="564.12" stroke="#e7e7e7" stroke-width="0.35"/><rect x="766.9" y="428.85" width="31.2" height="16.3" fill="#9900f0"/><text x="764.75" y="437.94" font-size="2.6" text-anchor="end" textLength="19.89" lengthAdjust="spacingAndGlyphs" fill="#666">Allgemeinchirurgie</text><rect x="766.9" y="451.97" width="17.2" height="16.3" fill="#9900f0"/><text x="764.75" y="461.06" font-size="2.6" text-anchor="end" textLength="15.99" lengthAdjust="spacingAndGlyphs" fill="#666">Gefäßchirurgie</text><rect x="766.9" y="475.09" width="5.2" height="16.3" fill="#9900f0"/><text x="764.75" y="484.18" font-size="2.6" text-anchor="end" textLength="15.86" lengthAdjust="spacingAndGlyphs" fill="#666">Innere Medizin</text><rect x="766.9" y="498.21" width="4" height="16.3" fill="#9900f0"/><text x="764.75" y="507.3" font-size="2.6" text-anchor="end" textLength="11.96" lengthAdjust="spacingAndGlyphs" fill="#666">Orthopädie</text><rect x="766.9" y="521.33" width="3.1" height="16.3" fill="#9900f0"/><text x="764.75" y="530.42" font-size="2.6" text-anchor="end" textLength="36.43" lengthAdjust="spacingAndGlyphs" fill="#666">Frauenheilkunde und Geburtshilfe</text><rect x="766.9" y="544.45" width="0.5" height="16.3" fill="#9900f0" opacity="0.25"/><text x="764.75" y="553.54" font-size="2.6" text-anchor="end" textLength="11.69" lengthAdjust="spacingAndGlyphs" fill="#666">Neurologie</text><text x="766.9" y="569.44" font-size="2.6" text-anchor="middle" textLength="1.34" lengthAdjust="spacingAndGlyphs" fill="#666">0</text><text x="777.4" y="569.44" font-size="2.6" text-anchor="middle" textLength="2.69" lengthAdjust="spacingAndGlyphs" fill="#666">10</text><text x="787.9" y="569.44" font-size="2.6" text-anchor="middle" textLength="2.69" lengthAdjust="spacingAndGlyphs" fill="#666">20</text><text x="798.4" y="569.44" font-size="2.6" text-anchor="middle" textLength="2.69" lengthAdjust="spacingAndGlyphs" fill="#666">30</text><text x="808.9" y="569.44" font-size="2.6" text-anchor="middle" textLength="2.69" lengthAdjust="spacingAndGlyphs" fill="#666">40</text><text x="819.4" y="569.44" font-size="2.6" text-anchor="middle" textLength="2.69" lengthAdjust="spacingAndGlyphs" fill="#666">50</text><text x="829.9" y="569.44" font-size="2.6" text-anchor="middle" textLength="2.69" lengthAdjust="spacingAndGlyphs" fill="#666">60</text><text x="840.4" y="569.44" font-size="2.6" text-anchor="middle" textLength="2.69" lengthAdjust="spacingAndGlyphs" fill="#666">70</text><text x="850.9" y="569.44" font-size="2.6" text-anchor="middle" textLength="2.69" lengthAdjust="spacingAndGlyphs" fill="#666">80</text><text x="861.4" y="569.44" font-size="2.6" text-anchor="middle" textLength="2.69" lengthAdjust="spacingAndGlyphs" fill="#666">90</text><text x="871.9" y="569.44" font-size="2.6" text-anchor="middle" textLength="4.03" lengthAdjust="spacingAndGlyphs" fill="#666">100</text><text x="552.5" y="582.43" font-size="2.3" font-weight="700" textLength="8" lengthAdjust="spacingAndGlyphs" fill="#222">© 2025</text><text x="552.9" y="584.69" font-size="2.2" textLength="7.6" lengthAdjust="spacingAndGlyphs" fill="#999">/ Login /</text><text x="563.5" y="583.84" font-size="2.9" textLength="16.9" lengthAdjust="spacingAndGlyphs" fill="#8a8a8a">BinDoc GmbH</text><text x="585.4" y="583.84" font-size="2.9" textLength="15" lengthAdjust="spacingAndGlyphs" fill="#8a8a8a">Datenschutz</text><text x="605.6" y="583.84" font-size="2.9" textLength="18.4" lengthAdjust="spacingAndGlyphs" fill="#8a8a8a">Dokumentation</text><text x="629.1" y="583.84" font-size="2.9" textLength="13.8" lengthAdjust="spacingAndGlyphs" fill="#8a8a8a">Impressum</text><text x="647.75" y="583.84" font-size="2.9" textLength="26.85" lengthAdjust="spacingAndGlyphs" fill="#8a8a8a">Ambulante Lösungen</text><text x="677.1" y="583.84" font-size="2.9" textLength="25.4" lengthAdjust="spacingAndGlyphs" fill="#8a8a8a">Cookie Einstellungen</text></g></g><g class="notch"><path d="M595.6 254.6 L595.6 263.5 A3 3 0 0 0 598.6 266.5 L655.75 266.5 A3 3 0 0 0 658.75 263.5 L658.75 254.6 Z" fill="#050505"/><circle cx="627.17" cy="259.74" r="1.42" fill="#1c1c1e"/></g></svg>
</div>
</body>
</html>
